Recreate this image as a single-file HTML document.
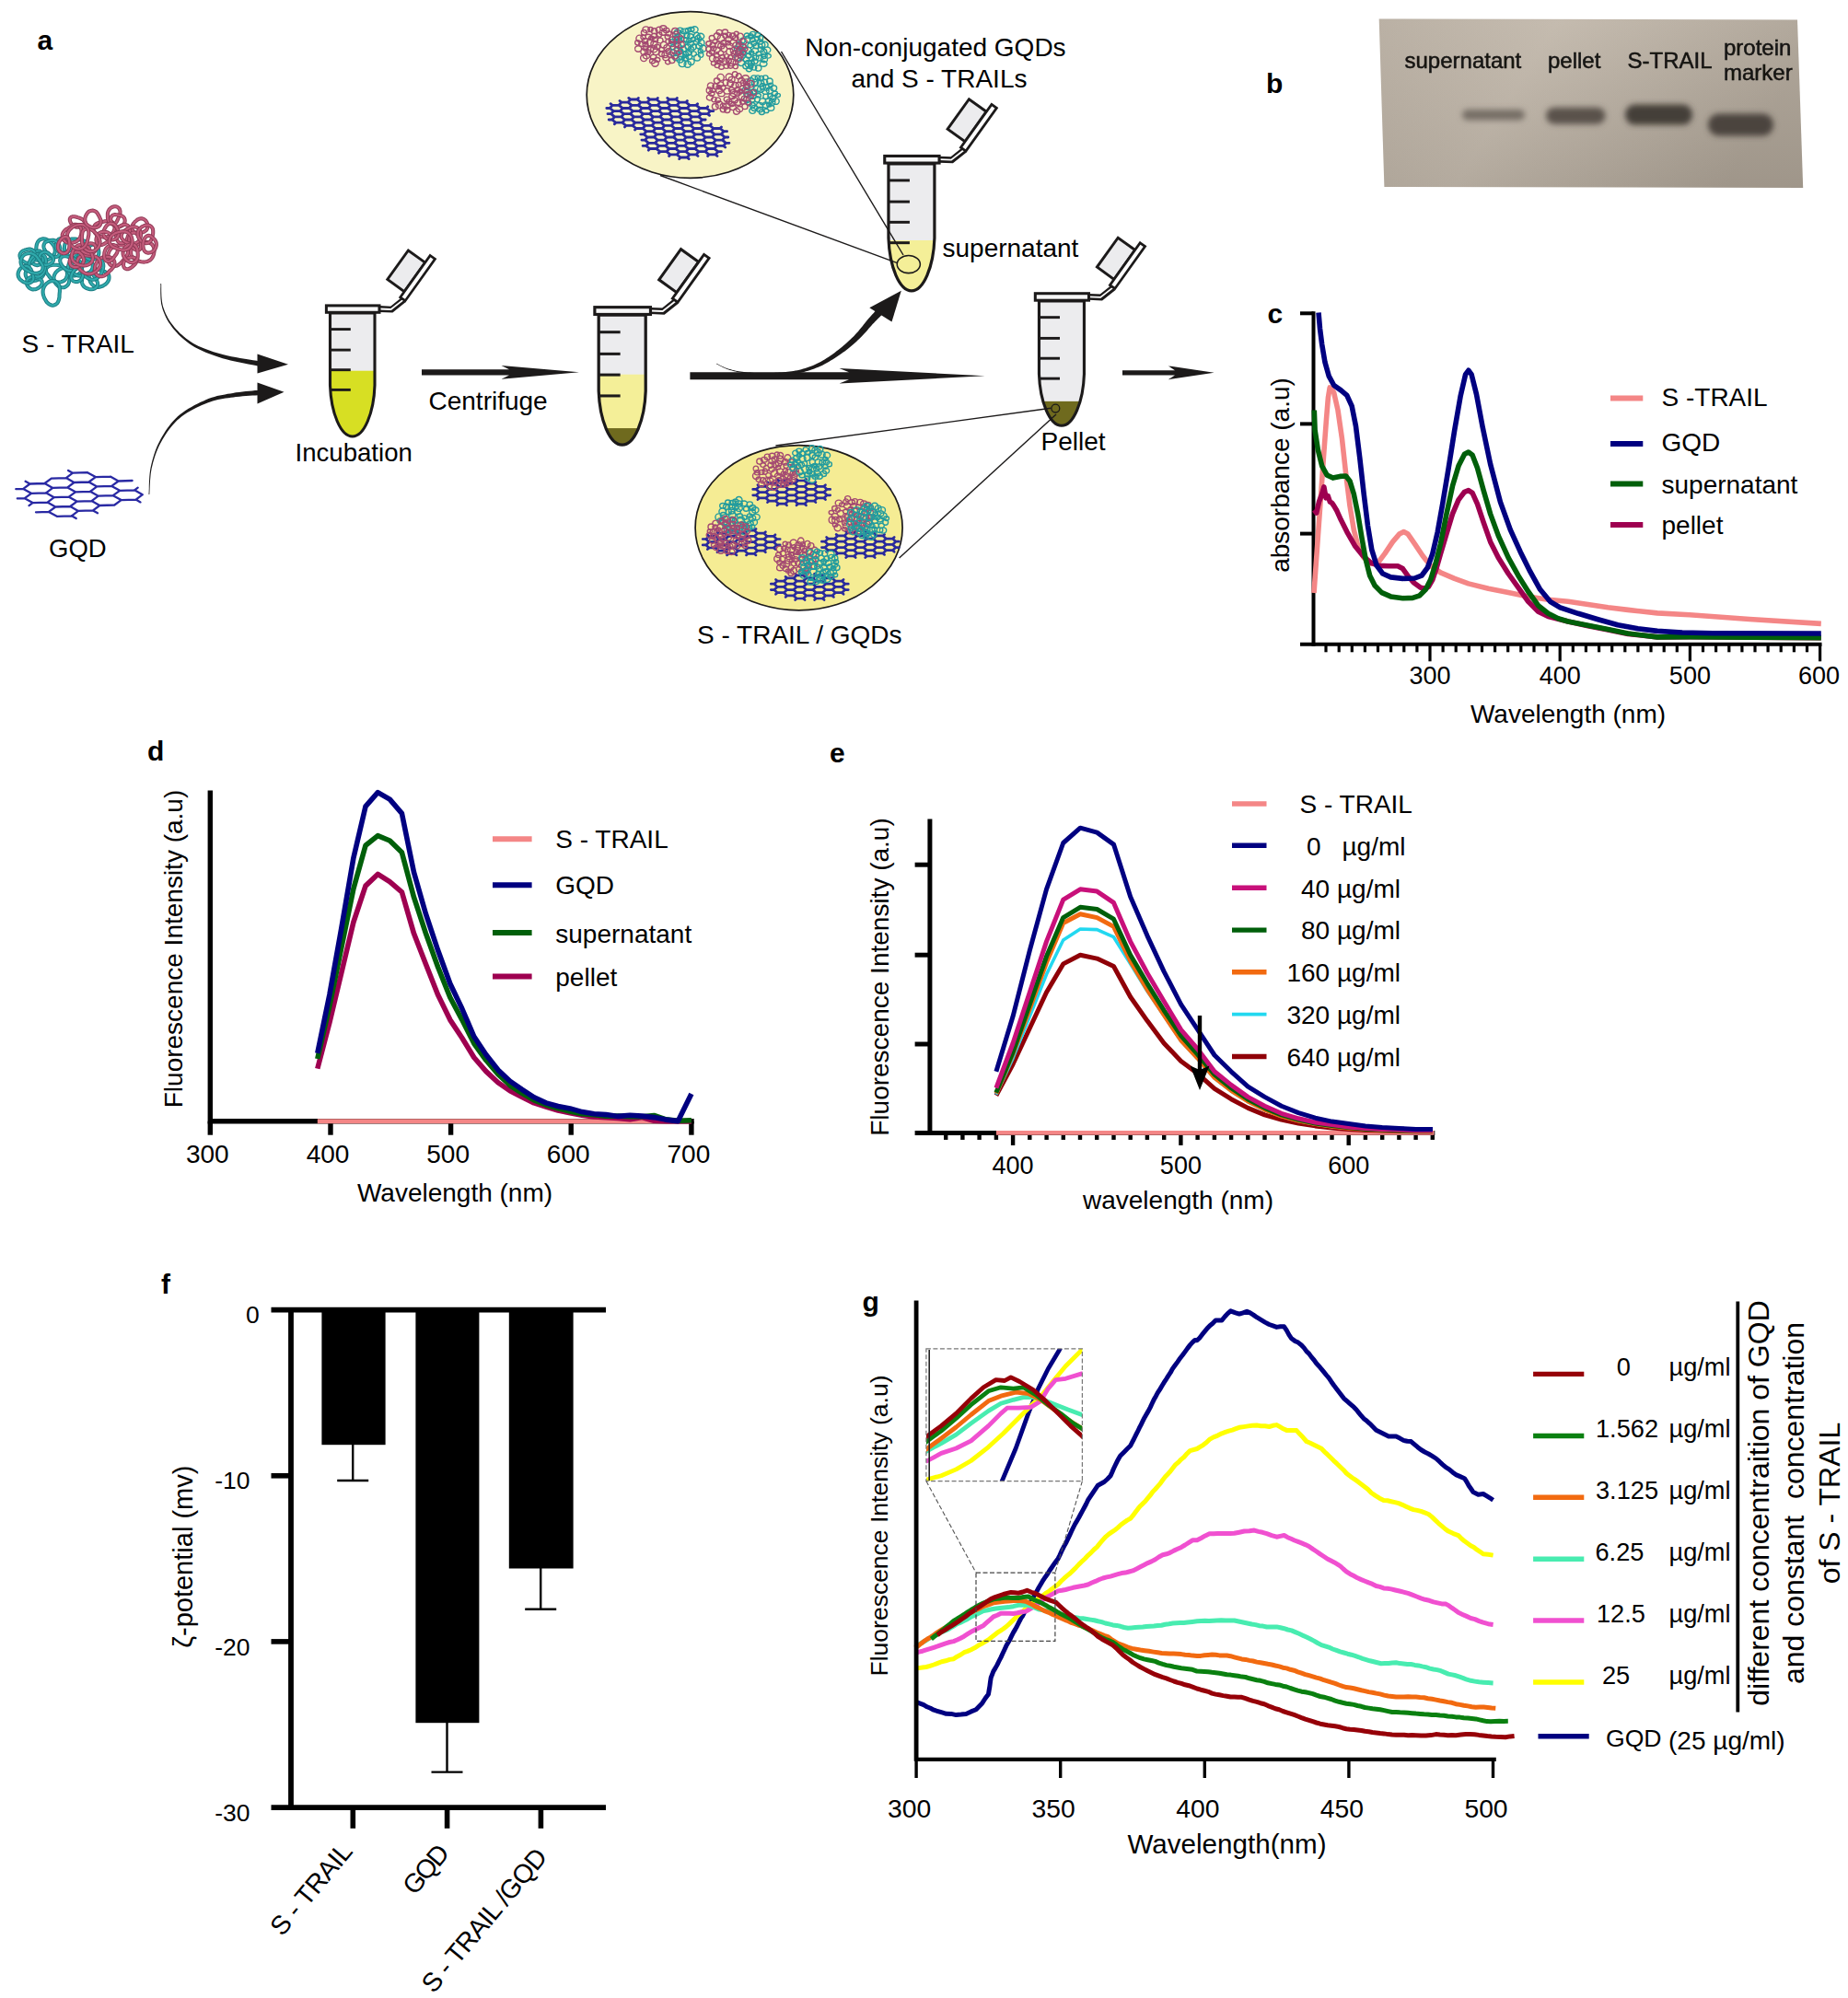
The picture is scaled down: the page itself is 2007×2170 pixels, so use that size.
<!DOCTYPE html>
<html lang="en"><head><meta charset="utf-8"><title>Figure</title>
<style>
html,body{margin:0;padding:0;background:#fff;}
svg{display:block;}
svg text{font-family:'Liberation Sans', Arial, sans-serif;}
</style></head><body>
<svg width="2007" height="2170" viewBox="0 0 2007 2170">
<rect width="2007" height="2170" fill="#fff"/>
<g id='pa'><text x="40.5" y="53.5" font-size="30" text-anchor="start" font-weight="bold" fill="#000" >a</text>
<path d="M72.4 300.9 L71.8 302.2 L71 303.5 L69.9 304.6 L68.3 305.5 L66.4 306.2 L64.5 306.6 L62.5 306.5 L60.4 306 L58.6 305.3 L57.2 304.4 L56 303.2 L55 302.1 L54.2 301.2 L53.5 300.2 L52.8 299.2 L51.9 298.2 L51.1 297.2 L50.4 296 L50 294.7 L49.9 293.2 L50.1 291.9 L51 290.6 L52.3 289.5 L53.8 288.6 L55.6 288 L57.6 287.8 L59.6 287.7 L61.5 287.8 L63.3 288.1 L65 288.6 L66.6 289.1 L68.1 289.8 L69.5 290.7 L70.6 291.6 L71.5 292.7 L72.2 293.8 L72.7 294.9 L72.9 296.1 L73 297.3 L73 298.5 L72.8 299.7 L72.4 300.9Z" fill="none" stroke="#1b7c82" stroke-width="4.1" stroke-linejoin="round"/><path d="M72.4 300.9 L71.8 302.2 L71 303.5 L69.9 304.6 L68.3 305.5 L66.4 306.2 L64.5 306.6 L62.5 306.5 L60.4 306 L58.6 305.3 L57.2 304.4 L56 303.2 L55 302.1 L54.2 301.2 L53.5 300.2 L52.8 299.2 L51.9 298.2 L51.1 297.2 L50.4 296 L50 294.7 L49.9 293.2 L50.1 291.9 L51 290.6 L52.3 289.5 L53.8 288.6 L55.6 288 L57.6 287.8 L59.6 287.7 L61.5 287.8 L63.3 288.1 L65 288.6 L66.6 289.1 L68.1 289.8 L69.5 290.7 L70.6 291.6 L71.5 292.7 L72.2 293.8 L72.7 294.9 L72.9 296.1 L73 297.3 L73 298.5 L72.8 299.7 L72.4 300.9Z" fill="none" stroke="#30aaac" stroke-width="2.2" stroke-linejoin="round"/><path d="M46.9 299.1 L46 300.3 L45 301.4 L43.8 302.4 L42.5 303.2 L41.1 303.8 L39.7 304.4 L38.1 304.8 L36.4 305.1 L34.7 305 L33 304.6 L31.3 303.9 L29.9 303 L28.9 301.6 L28.1 299.9 L27.7 298.3 L27.7 296.7 L28.1 295 L28.5 293.5 L29 292.2 L29.6 291 L30.2 289.8 L30.8 288.5 L31.4 287.1 L32.2 285.9 L33.4 284.7 L34.7 283.5 L36.2 282.7 L37.9 282.4 L39.7 282.4 L41.5 282.8 L42.9 283.7 L44.3 284.8 L45.4 286.1 L46.3 287.5 L47 288.9 L47.5 290.4 L47.9 291.9 L48.1 293.4 L48.1 294.8 L47.9 296.3 L47.5 297.8 L46.9 299.1Z" fill="none" stroke="#1b7c82" stroke-width="4.1" stroke-linejoin="round"/><path d="M46.9 299.1 L46 300.3 L45 301.4 L43.8 302.4 L42.5 303.2 L41.1 303.8 L39.7 304.4 L38.1 304.8 L36.4 305.1 L34.7 305 L33 304.6 L31.3 303.9 L29.9 303 L28.9 301.6 L28.1 299.9 L27.7 298.3 L27.7 296.7 L28.1 295 L28.5 293.5 L29 292.2 L29.6 291 L30.2 289.8 L30.8 288.5 L31.4 287.1 L32.2 285.9 L33.4 284.7 L34.7 283.5 L36.2 282.7 L37.9 282.4 L39.7 282.4 L41.5 282.8 L42.9 283.7 L44.3 284.8 L45.4 286.1 L46.3 287.5 L47 288.9 L47.5 290.4 L47.9 291.9 L48.1 293.4 L48.1 294.8 L47.9 296.3 L47.5 297.8 L46.9 299.1Z" fill="none" stroke="#30aaac" stroke-width="2.2" stroke-linejoin="round"/><path d="M50.7 282.8 L49 283.2 L47.2 283.3 L45.5 283 L43.8 282.3 L42.3 281.1 L41 279.8 L40.2 278.2 L39.6 276.4 L39.3 274.7 L39.1 273.1 L39.2 271.6 L39.3 270 L39.4 268.5 L39.6 267 L39.9 265.5 L40.5 263.9 L41.3 262.4 L42.3 261.2 L43.7 260.2 L45.4 259.6 L47.1 259.3 L48.7 259.5 L50.5 260 L52.1 260.8 L53.5 261.6 L54.9 262.7 L56.1 263.9 L57.2 265.2 L58.2 266.6 L59 268 L59.5 269.7 L59.8 271.4 L59.8 273 L59.5 274.6 L58.8 276.1 L58 277.5 L57.1 278.6 L56 279.7 L54.8 280.6 L53.5 281.5 L52.1 282.3 L50.7 282.8Z" fill="none" stroke="#1b7c82" stroke-width="4.1" stroke-linejoin="round"/><path d="M50.7 282.8 L49 283.2 L47.2 283.3 L45.5 283 L43.8 282.3 L42.3 281.1 L41 279.8 L40.2 278.2 L39.6 276.4 L39.3 274.7 L39.1 273.1 L39.2 271.6 L39.3 270 L39.4 268.5 L39.6 267 L39.9 265.5 L40.5 263.9 L41.3 262.4 L42.3 261.2 L43.7 260.2 L45.4 259.6 L47.1 259.3 L48.7 259.5 L50.5 260 L52.1 260.8 L53.5 261.6 L54.9 262.7 L56.1 263.9 L57.2 265.2 L58.2 266.6 L59 268 L59.5 269.7 L59.8 271.4 L59.8 273 L59.5 274.6 L58.8 276.1 L58 277.5 L57.1 278.6 L56 279.7 L54.8 280.6 L53.5 281.5 L52.1 282.3 L50.7 282.8Z" fill="none" stroke="#30aaac" stroke-width="2.2" stroke-linejoin="round"/><path d="M71.8 274.5 L70.9 273 L70.2 271.4 L69.9 269.6 L70 267.6 L70.4 265.5 L71.3 263.7 L72.7 262.1 L74.5 260.8 L76.3 259.9 L78.1 259.5 L80 259.5 L81.7 259.6 L83.1 259.8 L84.5 260.1 L85.9 260.3 L87.3 260.5 L88.9 260.7 L90.3 261.1 L91.9 261.8 L93.4 262.8 L94.5 264 L95.2 265.7 L95.5 267.7 L95.4 269.6 L94.8 271.5 L93.8 273.3 L92.6 275 L91.3 276.4 L89.8 277.6 L88.2 278.6 L86.6 279.4 L85 280 L83.4 280.4 L81.7 280.5 L80.1 280.4 L78.6 280.1 L77.3 279.6 L76 278.8 L74.8 277.9 L73.7 276.9 L72.7 275.8 L71.8 274.5Z" fill="none" stroke="#1b7c82" stroke-width="4.1" stroke-linejoin="round"/><path d="M71.8 274.5 L70.9 273 L70.2 271.4 L69.9 269.6 L70 267.6 L70.4 265.5 L71.3 263.7 L72.7 262.1 L74.5 260.8 L76.3 259.9 L78.1 259.5 L80 259.5 L81.7 259.6 L83.1 259.8 L84.5 260.1 L85.9 260.3 L87.3 260.5 L88.9 260.7 L90.3 261.1 L91.9 261.8 L93.4 262.8 L94.5 264 L95.2 265.7 L95.5 267.7 L95.4 269.6 L94.8 271.5 L93.8 273.3 L92.6 275 L91.3 276.4 L89.8 277.6 L88.2 278.6 L86.6 279.4 L85 280 L83.4 280.4 L81.7 280.5 L80.1 280.4 L78.6 280.1 L77.3 279.6 L76 278.8 L74.8 277.9 L73.7 276.9 L72.7 275.8 L71.8 274.5Z" fill="none" stroke="#30aaac" stroke-width="2.2" stroke-linejoin="round"/><path d="M97.5 304.5 L97 303 L96.7 301.5 L96.7 299.9 L97.1 298.3 L97.8 296.6 L98.7 295.2 L100.1 294.2 L101.7 293.4 L103.3 292.8 L104.9 292.7 L106.4 292.9 L107.9 293.2 L109.2 293.5 L110.4 293.8 L111.7 294.3 L113 294.7 L114.3 295.2 L115.5 295.9 L116.6 296.9 L117.7 298.1 L118.3 299.4 L118.5 301 L118.4 302.7 L118 304.3 L117.2 305.7 L116.2 307.1 L115 308.3 L113.7 309.3 L112.4 310.1 L111 310.8 L109.6 311.3 L108.1 311.7 L106.6 311.9 L105.2 311.8 L103.7 311.4 L102.4 310.9 L101.3 310.1 L100.3 309.1 L99.4 308.1 L98.6 307 L98 305.8 L97.5 304.5Z" fill="none" stroke="#1b7c82" stroke-width="4.1" stroke-linejoin="round"/><path d="M97.5 304.5 L97 303 L96.7 301.5 L96.7 299.9 L97.1 298.3 L97.8 296.6 L98.7 295.2 L100.1 294.2 L101.7 293.4 L103.3 292.8 L104.9 292.7 L106.4 292.9 L107.9 293.2 L109.2 293.5 L110.4 293.8 L111.7 294.3 L113 294.7 L114.3 295.2 L115.5 295.9 L116.6 296.9 L117.7 298.1 L118.3 299.4 L118.5 301 L118.4 302.7 L118 304.3 L117.2 305.7 L116.2 307.1 L115 308.3 L113.7 309.3 L112.4 310.1 L111 310.8 L109.6 311.3 L108.1 311.7 L106.6 311.9 L105.2 311.8 L103.7 311.4 L102.4 310.9 L101.3 310.1 L100.3 309.1 L99.4 308.1 L98.6 307 L98 305.8 L97.5 304.5Z" fill="none" stroke="#30aaac" stroke-width="2.2" stroke-linejoin="round"/><path d="M60.8 266.2 L60.9 265.1 L61.1 263.9 L61.5 262.8 L62.1 261.6 L63 260.5 L64 259.6 L65.3 259.1 L66.7 258.7 L68.1 258.7 L69.4 259 L70.6 259.6 L71.6 260.2 L72.5 260.9 L73.2 261.6 L73.9 262.4 L74.7 263.1 L75.4 263.8 L76.1 264.6 L76.7 265.6 L77.2 266.8 L77.4 267.9 L77.3 269.2 L76.9 270.4 L76.3 271.6 L75.3 272.5 L74.1 273.3 L72.9 273.9 L71.7 274.3 L70.4 274.5 L69.1 274.6 L67.9 274.6 L66.7 274.4 L65.6 274.1 L64.5 273.7 L63.5 273.1 L62.6 272.3 L62 271.5 L61.5 270.5 L61.1 269.5 L60.9 268.4 L60.8 267.3 L60.8 266.2Z" fill="none" stroke="#1b7c82" stroke-width="4.1" stroke-linejoin="round"/><path d="M60.8 266.2 L60.9 265.1 L61.1 263.9 L61.5 262.8 L62.1 261.6 L63 260.5 L64 259.6 L65.3 259.1 L66.7 258.7 L68.1 258.7 L69.4 259 L70.6 259.6 L71.6 260.2 L72.5 260.9 L73.2 261.6 L73.9 262.4 L74.7 263.1 L75.4 263.8 L76.1 264.6 L76.7 265.6 L77.2 266.8 L77.4 267.9 L77.3 269.2 L76.9 270.4 L76.3 271.6 L75.3 272.5 L74.1 273.3 L72.9 273.9 L71.7 274.3 L70.4 274.5 L69.1 274.6 L67.9 274.6 L66.7 274.4 L65.6 274.1 L64.5 273.7 L63.5 273.1 L62.6 272.3 L62 271.5 L61.5 270.5 L61.1 269.5 L60.9 268.4 L60.8 267.3 L60.8 266.2Z" fill="none" stroke="#30aaac" stroke-width="2.2" stroke-linejoin="round"/><path d="M58.4 301.5 L58.6 300.2 L59 298.9 L59.5 297.7 L60.2 296.5 L61.1 295.4 L62.1 294.4 L63.3 293.4 L64.5 292.6 L65.9 291.9 L67.4 291.4 L69.1 291 L70.7 291 L72.3 291.5 L73.8 292.2 L74.9 293.2 L75.7 294.5 L76.2 296 L76.4 297.5 L76.4 298.9 L76.2 300.2 L75.9 301.5 L75.8 302.7 L75.6 303.8 L75.3 305 L75 306.4 L74.5 307.9 L73.8 309.2 L72.7 310.4 L71.3 311.4 L69.8 312.1 L68.1 312.3 L66.4 312.1 L64.8 311.7 L63.5 310.9 L62.3 309.9 L61.3 308.9 L60.4 307.8 L59.7 306.6 L59.2 305.4 L58.8 304.1 L58.5 302.8 L58.4 301.5Z" fill="none" stroke="#1b7c82" stroke-width="4.1" stroke-linejoin="round"/><path d="M58.4 301.5 L58.6 300.2 L59 298.9 L59.5 297.7 L60.2 296.5 L61.1 295.4 L62.1 294.4 L63.3 293.4 L64.5 292.6 L65.9 291.9 L67.4 291.4 L69.1 291 L70.7 291 L72.3 291.5 L73.8 292.2 L74.9 293.2 L75.7 294.5 L76.2 296 L76.4 297.5 L76.4 298.9 L76.2 300.2 L75.9 301.5 L75.8 302.7 L75.6 303.8 L75.3 305 L75 306.4 L74.5 307.9 L73.8 309.2 L72.7 310.4 L71.3 311.4 L69.8 312.1 L68.1 312.3 L66.4 312.1 L64.8 311.7 L63.5 310.9 L62.3 309.9 L61.3 308.9 L60.4 307.8 L59.7 306.6 L59.2 305.4 L58.8 304.1 L58.5 302.8 L58.4 301.5Z" fill="none" stroke="#30aaac" stroke-width="2.2" stroke-linejoin="round"/><path d="M75.9 297.9 L75.2 297 L74.6 295.9 L74.2 294.8 L74 293.6 L73.9 292.3 L73.9 291.1 L74 289.8 L74.2 288.5 L74.6 287.2 L75.1 285.9 L75.7 284.6 L76.6 283.5 L77.6 282.7 L78.8 282.1 L79.9 281.9 L81.1 281.9 L82.2 282.3 L83.2 282.8 L84 283.4 L84.7 284.1 L85.5 284.9 L86.2 285.6 L86.9 286.4 L87.5 287.3 L88.1 288.4 L88.6 289.6 L88.8 290.9 L88.7 292.3 L88.4 293.7 L87.9 295 L87.1 296.1 L86.1 297.1 L85.1 297.9 L84.1 298.5 L83 298.9 L81.9 299.2 L80.9 299.4 L79.8 299.5 L78.8 299.4 L77.7 299.1 L76.7 298.6 L75.9 297.9Z" fill="none" stroke="#1b7c82" stroke-width="4.1" stroke-linejoin="round"/><path d="M75.9 297.9 L75.2 297 L74.6 295.9 L74.2 294.8 L74 293.6 L73.9 292.3 L73.9 291.1 L74 289.8 L74.2 288.5 L74.6 287.2 L75.1 285.9 L75.7 284.6 L76.6 283.5 L77.6 282.7 L78.8 282.1 L79.9 281.9 L81.1 281.9 L82.2 282.3 L83.2 282.8 L84 283.4 L84.7 284.1 L85.5 284.9 L86.2 285.6 L86.9 286.4 L87.5 287.3 L88.1 288.4 L88.6 289.6 L88.8 290.9 L88.7 292.3 L88.4 293.7 L87.9 295 L87.1 296.1 L86.1 297.1 L85.1 297.9 L84.1 298.5 L83 298.9 L81.9 299.2 L80.9 299.4 L79.8 299.5 L78.8 299.4 L77.7 299.1 L76.7 298.6 L75.9 297.9Z" fill="none" stroke="#30aaac" stroke-width="2.2" stroke-linejoin="round"/><path d="M89.3 302.5 L89.7 301.3 L90.2 300.1 L91 299 L92 298 L93.3 297.1 L94.7 296.6 L96.2 296.4 L97.8 296.6 L99.3 297.1 L100.4 297.9 L101.4 298.9 L102.2 299.9 L102.9 300.8 L103.3 301.8 L103.8 302.7 L104.4 303.6 L105 304.5 L105.5 305.6 L105.9 306.8 L106.2 308.1 L106.1 309.3 L105.7 310.6 L104.9 311.8 L103.8 312.8 L102.6 313.5 L101.1 313.9 L99.6 314.2 L98.2 314.2 L96.7 313.9 L95.4 313.6 L94.2 313.1 L93 312.6 L92 311.9 L91.1 311.1 L90.3 310.1 L89.7 309.2 L89.3 308.1 L89.1 307 L89 305.9 L89 304.8 L89.1 303.7 L89.3 302.5Z" fill="none" stroke="#1b7c82" stroke-width="4.1" stroke-linejoin="round"/><path d="M89.3 302.5 L89.7 301.3 L90.2 300.1 L91 299 L92 298 L93.3 297.1 L94.7 296.6 L96.2 296.4 L97.8 296.6 L99.3 297.1 L100.4 297.9 L101.4 298.9 L102.2 299.9 L102.9 300.8 L103.3 301.8 L103.8 302.7 L104.4 303.6 L105 304.5 L105.5 305.6 L105.9 306.8 L106.2 308.1 L106.1 309.3 L105.7 310.6 L104.9 311.8 L103.8 312.8 L102.6 313.5 L101.1 313.9 L99.6 314.2 L98.2 314.2 L96.7 313.9 L95.4 313.6 L94.2 313.1 L93 312.6 L92 311.9 L91.1 311.1 L90.3 310.1 L89.7 309.2 L89.3 308.1 L89.1 307 L89 305.9 L89 304.8 L89.1 303.7 L89.3 302.5Z" fill="none" stroke="#30aaac" stroke-width="2.2" stroke-linejoin="round"/><path d="M34 283.8 L33.8 282.9 L33.7 281.8 L33.8 280.8 L34.1 279.8 L34.4 278.8 L34.9 277.8 L35.5 276.8 L36.2 275.8 L37 274.9 L37.9 274.1 L39 273.3 L40 272.8 L41.2 272.5 L42.4 272.5 L43.5 272.8 L44.3 273.3 L45 274.1 L45.6 275 L45.9 275.9 L46.1 276.8 L46.3 277.7 L46.5 278.6 L46.7 279.4 L46.8 280.3 L46.8 281.4 L46.8 282.5 L46.6 283.6 L46.1 284.8 L45.3 285.9 L44.4 286.8 L43.3 287.4 L42.1 287.8 L40.9 288.1 L39.9 288.1 L38.8 287.8 L37.9 287.5 L37 287.1 L36.2 286.6 L35.5 286.1 L34.9 285.4 L34.3 284.6 L34 283.8Z" fill="none" stroke="#1b7c82" stroke-width="4.1" stroke-linejoin="round"/><path d="M34 283.8 L33.8 282.9 L33.7 281.8 L33.8 280.8 L34.1 279.8 L34.4 278.8 L34.9 277.8 L35.5 276.8 L36.2 275.8 L37 274.9 L37.9 274.1 L39 273.3 L40 272.8 L41.2 272.5 L42.4 272.5 L43.5 272.8 L44.3 273.3 L45 274.1 L45.6 275 L45.9 275.9 L46.1 276.8 L46.3 277.7 L46.5 278.6 L46.7 279.4 L46.8 280.3 L46.8 281.4 L46.8 282.5 L46.6 283.6 L46.1 284.8 L45.3 285.9 L44.4 286.8 L43.3 287.4 L42.1 287.8 L40.9 288.1 L39.9 288.1 L38.8 287.8 L37.9 287.5 L37 287.1 L36.2 286.6 L35.5 286.1 L34.9 285.4 L34.3 284.6 L34 283.8Z" fill="none" stroke="#30aaac" stroke-width="2.2" stroke-linejoin="round"/><path d="M97.7 295.4 L96.5 296.4 L95.1 297.3 L93.6 298 L92.1 298.7 L90.4 299.3 L88.7 299.6 L86.9 299.6 L85 299.4 L83.2 298.9 L81.6 297.9 L80.2 296.6 L79.1 295.1 L78.5 293.5 L78.3 291.7 L78.2 290 L78.3 288.4 L78.6 286.9 L79 285.5 L79.3 284 L79.8 282.5 L80.4 281 L81.4 279.6 L82.5 278.2 L83.9 277.1 L85.6 276.5 L87.5 276.1 L89.4 276.1 L91.1 276.6 L92.9 277.3 L94.4 278.3 L95.8 279.4 L97 280.6 L98 281.9 L99 283.3 L99.8 284.7 L100.4 286.3 L100.7 287.9 L100.7 289.6 L100.4 291.2 L99.8 292.7 L98.8 294.1 L97.7 295.4Z" fill="none" stroke="#1b7c82" stroke-width="4.1" stroke-linejoin="round"/><path d="M97.7 295.4 L96.5 296.4 L95.1 297.3 L93.6 298 L92.1 298.7 L90.4 299.3 L88.7 299.6 L86.9 299.6 L85 299.4 L83.2 298.9 L81.6 297.9 L80.2 296.6 L79.1 295.1 L78.5 293.5 L78.3 291.7 L78.2 290 L78.3 288.4 L78.6 286.9 L79 285.5 L79.3 284 L79.8 282.5 L80.4 281 L81.4 279.6 L82.5 278.2 L83.9 277.1 L85.6 276.5 L87.5 276.1 L89.4 276.1 L91.1 276.6 L92.9 277.3 L94.4 278.3 L95.8 279.4 L97 280.6 L98 281.9 L99 283.3 L99.8 284.7 L100.4 286.3 L100.7 287.9 L100.7 289.6 L100.4 291.2 L99.8 292.7 L98.8 294.1 L97.7 295.4Z" fill="none" stroke="#30aaac" stroke-width="2.2" stroke-linejoin="round"/><path d="M52.1 329.4 L50.9 328.2 L49.9 326.8 L49.1 325.3 L48.3 323.9 L47.7 322.4 L47.2 320.9 L46.8 319.4 L46.6 317.7 L46.6 316.1 L46.8 314.5 L47.3 312.9 L47.9 311.4 L48.8 310 L49.8 308.7 L51 307.6 L52.4 306.6 L53.8 305.8 L55.4 305.3 L57.1 305.1 L58.9 305.3 L60.5 305.8 L61.9 306.9 L63.2 308.3 L64.1 309.9 L64.6 311.6 L64.8 313.4 L64.9 315.2 L64.9 316.7 L64.7 318.2 L64.6 319.7 L64.5 321.2 L64.5 322.8 L64.2 324.4 L63.7 326.2 L62.9 328.1 L61.9 329.5 L60.5 330.6 L58.7 331.4 L57 331.7 L55.3 331.3 L53.6 330.5 L52.1 329.4Z" fill="none" stroke="#1b7c82" stroke-width="4.1" stroke-linejoin="round"/><path d="M52.1 329.4 L50.9 328.2 L49.9 326.8 L49.1 325.3 L48.3 323.9 L47.7 322.4 L47.2 320.9 L46.8 319.4 L46.6 317.7 L46.6 316.1 L46.8 314.5 L47.3 312.9 L47.9 311.4 L48.8 310 L49.8 308.7 L51 307.6 L52.4 306.6 L53.8 305.8 L55.4 305.3 L57.1 305.1 L58.9 305.3 L60.5 305.8 L61.9 306.9 L63.2 308.3 L64.1 309.9 L64.6 311.6 L64.8 313.4 L64.9 315.2 L64.9 316.7 L64.7 318.2 L64.6 319.7 L64.5 321.2 L64.5 322.8 L64.2 324.4 L63.7 326.2 L62.9 328.1 L61.9 329.5 L60.5 330.6 L58.7 331.4 L57 331.7 L55.3 331.3 L53.6 330.5 L52.1 329.4Z" fill="none" stroke="#30aaac" stroke-width="2.2" stroke-linejoin="round"/><path d="M93 300.5 L91.8 299.4 L90.6 298.1 L89.8 296.6 L89.2 294.8 L89 292.7 L89.1 290.8 L89.7 288.9 L90.8 287.1 L92 285.5 L93.4 284.4 L95 283.6 L96.5 282.8 L97.9 282.2 L99.2 281.8 L100.7 281.4 L102.2 280.9 L103.7 280.6 L105.3 280.5 L106.9 280.8 L108.5 281.4 L109.9 282.3 L110.9 283.7 L111.7 285.4 L112.2 287.3 L112.3 289.1 L112 291.1 L111.6 293 L111 294.7 L110.3 296.4 L109.4 298 L108.3 299.5 L107.2 300.8 L105.9 301.9 L104.4 302.8 L102.8 303.4 L101.3 303.7 L99.8 303.6 L98.3 303.3 L96.9 302.8 L95.5 302.2 L94.2 301.5 L93 300.5Z" fill="none" stroke="#1b7c82" stroke-width="4.1" stroke-linejoin="round"/><path d="M93 300.5 L91.8 299.4 L90.6 298.1 L89.8 296.6 L89.2 294.8 L89 292.7 L89.1 290.8 L89.7 288.9 L90.8 287.1 L92 285.5 L93.4 284.4 L95 283.6 L96.5 282.8 L97.9 282.2 L99.2 281.8 L100.7 281.4 L102.2 280.9 L103.7 280.6 L105.3 280.5 L106.9 280.8 L108.5 281.4 L109.9 282.3 L110.9 283.7 L111.7 285.4 L112.2 287.3 L112.3 289.1 L112 291.1 L111.6 293 L111 294.7 L110.3 296.4 L109.4 298 L108.3 299.5 L107.2 300.8 L105.9 301.9 L104.4 302.8 L102.8 303.4 L101.3 303.7 L99.8 303.6 L98.3 303.3 L96.9 302.8 L95.5 302.2 L94.2 301.5 L93 300.5Z" fill="none" stroke="#30aaac" stroke-width="2.2" stroke-linejoin="round"/><path d="M59.8 279.2 L58.6 279 L57.3 278.6 L56.1 278.1 L54.8 277.5 L53.6 276.7 L52.4 275.8 L51.2 274.8 L50 273.6 L49 272.2 L48.2 270.7 L47.6 269.1 L47.4 267.6 L47.5 266.2 L48 264.9 L48.6 263.8 L49.4 263 L50.4 262.5 L51.4 262.1 L52.3 261.7 L53.2 261.3 L54.3 261.1 L55.4 260.9 L56.5 260.7 L57.8 260.8 L59.2 261.2 L60.6 261.9 L61.9 262.9 L63 264.2 L64 265.7 L64.7 267.2 L65.1 268.7 L65.4 270.2 L65.4 271.6 L65.4 273 L65.2 274.2 L64.8 275.4 L64.4 276.4 L63.8 277.4 L63 278.2 L62.1 278.8 L61 279.1 L59.8 279.2Z" fill="none" stroke="#1b7c82" stroke-width="4.1" stroke-linejoin="round"/><path d="M59.8 279.2 L58.6 279 L57.3 278.6 L56.1 278.1 L54.8 277.5 L53.6 276.7 L52.4 275.8 L51.2 274.8 L50 273.6 L49 272.2 L48.2 270.7 L47.6 269.1 L47.4 267.6 L47.5 266.2 L48 264.9 L48.6 263.8 L49.4 263 L50.4 262.5 L51.4 262.1 L52.3 261.7 L53.2 261.3 L54.3 261.1 L55.4 260.9 L56.5 260.7 L57.8 260.8 L59.2 261.2 L60.6 261.9 L61.9 262.9 L63 264.2 L64 265.7 L64.7 267.2 L65.1 268.7 L65.4 270.2 L65.4 271.6 L65.4 273 L65.2 274.2 L64.8 275.4 L64.4 276.4 L63.8 277.4 L63 278.2 L62.1 278.8 L61 279.1 L59.8 279.2Z" fill="none" stroke="#30aaac" stroke-width="2.2" stroke-linejoin="round"/><path d="M84.9 279.1 L85.3 278.2 L85.8 277.4 L86.4 276.6 L87.1 275.8 L87.9 275.1 L88.9 274.4 L89.9 273.8 L91 273.2 L92.2 272.8 L93.5 272.6 L94.8 272.6 L96 272.8 L97 273.3 L97.8 274 L98.4 274.8 L98.7 275.6 L98.8 276.5 L98.9 277.4 L98.9 278.2 L98.8 279 L98.7 279.8 L98.6 280.6 L98.5 281.5 L98.2 282.4 L97.7 283.3 L96.9 284.3 L96 285 L94.8 285.6 L93.5 286 L92.2 286.1 L91 286.1 L89.9 285.8 L88.8 285.4 L87.9 285 L87.1 284.4 L86.4 283.8 L85.8 283.1 L85.3 282.4 L84.9 281.6 L84.8 280.8 L84.8 279.9 L84.9 279.1Z" fill="none" stroke="#1b7c82" stroke-width="4.1" stroke-linejoin="round"/><path d="M84.9 279.1 L85.3 278.2 L85.8 277.4 L86.4 276.6 L87.1 275.8 L87.9 275.1 L88.9 274.4 L89.9 273.8 L91 273.2 L92.2 272.8 L93.5 272.6 L94.8 272.6 L96 272.8 L97 273.3 L97.8 274 L98.4 274.8 L98.7 275.6 L98.8 276.5 L98.9 277.4 L98.9 278.2 L98.8 279 L98.7 279.8 L98.6 280.6 L98.5 281.5 L98.2 282.4 L97.7 283.3 L96.9 284.3 L96 285 L94.8 285.6 L93.5 286 L92.2 286.1 L91 286.1 L89.9 285.8 L88.8 285.4 L87.9 285 L87.1 284.4 L86.4 283.8 L85.8 283.1 L85.3 282.4 L84.9 281.6 L84.8 280.8 L84.8 279.9 L84.9 279.1Z" fill="none" stroke="#30aaac" stroke-width="2.2" stroke-linejoin="round"/><path d="M30.9 285.8 L29.8 285.7 L28.7 285.5 L27.6 285.1 L26.6 284.6 L25.6 284.1 L24.7 283.4 L23.7 282.5 L22.9 281.6 L22.2 280.6 L21.8 279.4 L21.5 278 L21.5 276.8 L21.9 275.6 L22.6 274.5 L23.4 273.5 L24.3 272.8 L25.3 272.3 L26.4 271.9 L27.4 271.5 L28.3 271.3 L29.3 271 L30.4 270.8 L31.6 270.6 L32.7 270.6 L33.9 270.9 L35.1 271.4 L36.2 272.1 L37 273 L37.6 274.2 L38 275.5 L38.2 276.7 L38 278 L37.8 279.2 L37.5 280.3 L37 281.3 L36.4 282.3 L35.8 283.2 L35 284.1 L34.2 284.8 L33.2 285.3 L32.1 285.6 L30.9 285.8Z" fill="none" stroke="#1b7c82" stroke-width="4.1" stroke-linejoin="round"/><path d="M30.9 285.8 L29.8 285.7 L28.7 285.5 L27.6 285.1 L26.6 284.6 L25.6 284.1 L24.7 283.4 L23.7 282.5 L22.9 281.6 L22.2 280.6 L21.8 279.4 L21.5 278 L21.5 276.8 L21.9 275.6 L22.6 274.5 L23.4 273.5 L24.3 272.8 L25.3 272.3 L26.4 271.9 L27.4 271.5 L28.3 271.3 L29.3 271 L30.4 270.8 L31.6 270.6 L32.7 270.6 L33.9 270.9 L35.1 271.4 L36.2 272.1 L37 273 L37.6 274.2 L38 275.5 L38.2 276.7 L38 278 L37.8 279.2 L37.5 280.3 L37 281.3 L36.4 282.3 L35.8 283.2 L35 284.1 L34.2 284.8 L33.2 285.3 L32.1 285.6 L30.9 285.8Z" fill="none" stroke="#30aaac" stroke-width="2.2" stroke-linejoin="round"/><path d="M29.4 309.4 L29 308.3 L28.8 307.1 L28.9 306 L29.3 304.7 L29.9 303.5 L30.8 302.4 L32 301.7 L33.3 301.1 L34.6 300.8 L35.8 300.9 L37 301.1 L38 301.4 L38.9 301.7 L39.7 302 L40.5 302.3 L41.5 302.5 L42.4 302.8 L43.3 303.2 L44.2 303.8 L45 304.6 L45.6 305.6 L45.7 306.7 L45.6 308 L45.3 309.2 L44.6 310.3 L43.6 311.3 L42.6 312.2 L41.6 312.9 L40.4 313.5 L39.3 313.9 L38.1 314.2 L37 314.3 L36 314.4 L34.9 314.2 L34 313.9 L33.1 313.6 L32.3 313.1 L31.6 312.5 L31 311.8 L30.4 311.1 L29.8 310.3 L29.4 309.4Z" fill="none" stroke="#1b7c82" stroke-width="4.1" stroke-linejoin="round"/><path d="M29.4 309.4 L29 308.3 L28.8 307.1 L28.9 306 L29.3 304.7 L29.9 303.5 L30.8 302.4 L32 301.7 L33.3 301.1 L34.6 300.8 L35.8 300.9 L37 301.1 L38 301.4 L38.9 301.7 L39.7 302 L40.5 302.3 L41.5 302.5 L42.4 302.8 L43.3 303.2 L44.2 303.8 L45 304.6 L45.6 305.6 L45.7 306.7 L45.6 308 L45.3 309.2 L44.6 310.3 L43.6 311.3 L42.6 312.2 L41.6 312.9 L40.4 313.5 L39.3 313.9 L38.1 314.2 L37 314.3 L36 314.4 L34.9 314.2 L34 313.9 L33.1 313.6 L32.3 313.1 L31.6 312.5 L31 311.8 L30.4 311.1 L29.8 310.3 L29.4 309.4Z" fill="none" stroke="#30aaac" stroke-width="2.2" stroke-linejoin="round"/><path d="M34.5 296.6 L33.7 295.4 L32.9 294.1 L32.3 292.7 L31.8 291.2 L31.5 289.6 L31.4 288 L31.6 286.3 L32 284.5 L32.7 282.9 L33.5 281.5 L34.6 280.2 L35.8 279.1 L37 278 L38.3 277.2 L39.7 276.5 L41.2 276 L42.8 275.6 L44.3 275.6 L45.7 276.1 L47.1 276.9 L48.3 278 L49.1 279.4 L49.6 281.1 L49.9 282.8 L49.9 284.5 L49.8 286.1 L49.5 287.7 L49.3 289.3 L49.1 290.8 L48.7 292.4 L48.2 294.1 L47.5 295.8 L46.6 297.3 L45.4 298.6 L43.9 299.7 L42.4 300.4 L40.9 300.6 L39.3 300.3 L37.8 299.7 L36.6 298.9 L35.5 297.8 L34.5 296.6Z" fill="none" stroke="#1b7c82" stroke-width="4.1" stroke-linejoin="round"/><path d="M34.5 296.6 L33.7 295.4 L32.9 294.1 L32.3 292.7 L31.8 291.2 L31.5 289.6 L31.4 288 L31.6 286.3 L32 284.5 L32.7 282.9 L33.5 281.5 L34.6 280.2 L35.8 279.1 L37 278 L38.3 277.2 L39.7 276.5 L41.2 276 L42.8 275.6 L44.3 275.6 L45.7 276.1 L47.1 276.9 L48.3 278 L49.1 279.4 L49.6 281.1 L49.9 282.8 L49.9 284.5 L49.8 286.1 L49.5 287.7 L49.3 289.3 L49.1 290.8 L48.7 292.4 L48.2 294.1 L47.5 295.8 L46.6 297.3 L45.4 298.6 L43.9 299.7 L42.4 300.4 L40.9 300.6 L39.3 300.3 L37.8 299.7 L36.6 298.9 L35.5 297.8 L34.5 296.6Z" fill="none" stroke="#30aaac" stroke-width="2.2" stroke-linejoin="round"/><path d="M42.7 281.9 L42.6 280.9 L42.5 279.8 L42.7 278.8 L43.1 277.6 L43.6 276.4 L44.4 275.4 L45.5 274.7 L46.8 274 L48 273.7 L49.2 273.7 L50.4 274 L51.5 274.4 L52.4 274.9 L53.1 275.5 L53.8 276.1 L54.5 276.6 L55.2 277.1 L55.9 277.7 L56.6 278.3 L57.3 279.1 L57.8 280 L58 281.1 L58 282.3 L57.7 283.5 L57 284.5 L56.1 285.5 L55 286.3 L53.9 286.9 L52.7 287.3 L51.5 287.6 L50.4 287.7 L49.3 287.8 L48.2 287.7 L47.2 287.4 L46.3 287.1 L45.4 286.6 L44.7 286 L44.1 285.3 L43.6 284.6 L43.2 283.7 L42.9 282.9 L42.7 281.9Z" fill="none" stroke="#1b7c82" stroke-width="4.1" stroke-linejoin="round"/><path d="M42.7 281.9 L42.6 280.9 L42.5 279.8 L42.7 278.8 L43.1 277.6 L43.6 276.4 L44.4 275.4 L45.5 274.7 L46.8 274 L48 273.7 L49.2 273.7 L50.4 274 L51.5 274.4 L52.4 274.9 L53.1 275.5 L53.8 276.1 L54.5 276.6 L55.2 277.1 L55.9 277.7 L56.6 278.3 L57.3 279.1 L57.8 280 L58 281.1 L58 282.3 L57.7 283.5 L57 284.5 L56.1 285.5 L55 286.3 L53.9 286.9 L52.7 287.3 L51.5 287.6 L50.4 287.7 L49.3 287.8 L48.2 287.7 L47.2 287.4 L46.3 287.1 L45.4 286.6 L44.7 286 L44.1 285.3 L43.6 284.6 L43.2 283.7 L42.9 282.9 L42.7 281.9Z" fill="none" stroke="#30aaac" stroke-width="2.2" stroke-linejoin="round"/><path d="M30.5 307.6 L29.1 307.5 L27.8 307.1 L26.5 306.6 L25.4 306.1 L24.3 305.5 L23.3 304.7 L22.4 304 L21.5 303.1 L20.8 302.1 L20.2 301 L19.8 299.8 L19.6 298.6 L19.6 297.4 L19.8 296.1 L20.2 294.9 L20.8 293.7 L21.4 292.6 L22.3 291.6 L23.3 290.6 L24.4 289.8 L25.6 289.2 L27 289 L28.5 288.9 L29.8 289.2 L31 289.8 L32.1 290.8 L33 291.8 L33.7 292.8 L34.2 294 L34.6 295.1 L35 296.1 L35.4 297.2 L35.7 298.3 L36 299.5 L36.3 300.9 L36.3 302.2 L36 303.6 L35.4 304.9 L34.5 306.1 L33.3 306.8 L31.9 307.4 L30.5 307.6Z" fill="none" stroke="#1b7c82" stroke-width="4.1" stroke-linejoin="round"/><path d="M30.5 307.6 L29.1 307.5 L27.8 307.1 L26.5 306.6 L25.4 306.1 L24.3 305.5 L23.3 304.7 L22.4 304 L21.5 303.1 L20.8 302.1 L20.2 301 L19.8 299.8 L19.6 298.6 L19.6 297.4 L19.8 296.1 L20.2 294.9 L20.8 293.7 L21.4 292.6 L22.3 291.6 L23.3 290.6 L24.4 289.8 L25.6 289.2 L27 289 L28.5 288.9 L29.8 289.2 L31 289.8 L32.1 290.8 L33 291.8 L33.7 292.8 L34.2 294 L34.6 295.1 L35 296.1 L35.4 297.2 L35.7 298.3 L36 299.5 L36.3 300.9 L36.3 302.2 L36 303.6 L35.4 304.9 L34.5 306.1 L33.3 306.8 L31.9 307.4 L30.5 307.6Z" fill="none" stroke="#30aaac" stroke-width="2.2" stroke-linejoin="round"/><path d="M79.6 293.6 L78.5 293.9 L77.3 294 L76.1 294 L74.9 293.8 L73.6 293.5 L72.4 292.9 L71.2 292.3 L70.1 291.4 L69 290.5 L68.1 289.4 L67.2 288.3 L66.5 287 L65.8 285.7 L65.4 284.3 L65.2 282.9 L65.4 281.6 L65.9 280.3 L66.6 279.3 L67.7 278.7 L69 278.3 L70.4 278.1 L71.7 278.3 L73 278.6 L74.3 279 L75.4 279.3 L76.5 279.6 L77.7 280 L79 280.4 L80.3 280.9 L81.6 281.6 L82.8 282.6 L84 283.8 L84.9 285.1 L85.3 286.5 L85.4 288 L85.2 289.4 L84.6 290.5 L83.8 291.4 L82.8 292.2 L81.8 292.8 L80.8 293.3 L79.6 293.6Z" fill="none" stroke="#1b7c82" stroke-width="4.1" stroke-linejoin="round"/><path d="M79.6 293.6 L78.5 293.9 L77.3 294 L76.1 294 L74.9 293.8 L73.6 293.5 L72.4 292.9 L71.2 292.3 L70.1 291.4 L69 290.5 L68.1 289.4 L67.2 288.3 L66.5 287 L65.8 285.7 L65.4 284.3 L65.2 282.9 L65.4 281.6 L65.9 280.3 L66.6 279.3 L67.7 278.7 L69 278.3 L70.4 278.1 L71.7 278.3 L73 278.6 L74.3 279 L75.4 279.3 L76.5 279.6 L77.7 280 L79 280.4 L80.3 280.9 L81.6 281.6 L82.8 282.6 L84 283.8 L84.9 285.1 L85.3 286.5 L85.4 288 L85.2 289.4 L84.6 290.5 L83.8 291.4 L82.8 292.2 L81.8 292.8 L80.8 293.3 L79.6 293.6Z" fill="none" stroke="#30aaac" stroke-width="2.2" stroke-linejoin="round"/><path d="M101.7 281.7 L100.7 282 L99.5 282.2 L98.4 282.1 L97.1 281.8 L95.8 281.3 L94.7 280.6 L93.8 279.5 L93 278.2 L92.6 276.8 L92.5 275.5 L92.8 274.2 L93.2 273.1 L93.7 272.2 L94.4 271.4 L95 270.7 L95.5 270 L95.9 269.3 L96.5 268.5 L97.1 267.7 L97.8 266.8 L98.7 266.2 L99.8 265.8 L101.1 265.7 L102.3 265.8 L103.5 266.4 L104.6 267.3 L105.6 268.3 L106.3 269.5 L106.8 270.8 L107.2 272.1 L107.3 273.3 L107.4 274.4 L107.3 275.6 L107.1 276.6 L106.7 277.6 L106.3 278.5 L105.7 279.2 L105 279.9 L104.3 280.5 L103.5 281 L102.6 281.4 L101.7 281.7Z" fill="none" stroke="#1b7c82" stroke-width="4.1" stroke-linejoin="round"/><path d="M101.7 281.7 L100.7 282 L99.5 282.2 L98.4 282.1 L97.1 281.8 L95.8 281.3 L94.7 280.6 L93.8 279.5 L93 278.2 L92.6 276.8 L92.5 275.5 L92.8 274.2 L93.2 273.1 L93.7 272.2 L94.4 271.4 L95 270.7 L95.5 270 L95.9 269.3 L96.5 268.5 L97.1 267.7 L97.8 266.8 L98.7 266.2 L99.8 265.8 L101.1 265.7 L102.3 265.8 L103.5 266.4 L104.6 267.3 L105.6 268.3 L106.3 269.5 L106.8 270.8 L107.2 272.1 L107.3 273.3 L107.4 274.4 L107.3 275.6 L107.1 276.6 L106.7 277.6 L106.3 278.5 L105.7 279.2 L105 279.9 L104.3 280.5 L103.5 281 L102.6 281.4 L101.7 281.7Z" fill="none" stroke="#30aaac" stroke-width="2.2" stroke-linejoin="round"/><path d="M45.5 294.2 L44.2 295.4 L42.4 296.3 L40.5 296.8 L38.5 296.9 L36.5 296.5 L34.6 296.1 L32.9 295.5 L31.4 294.8 L30 294 L28.6 293.2 L27.3 292.4 L26.2 291.4 L25.1 290.3 L24.1 289.1 L23.3 287.8 L22.8 286.4 L22.5 284.9 L22.6 283.4 L22.8 281.9 L23.4 280.4 L24.1 279 L25.2 277.7 L26.6 276.5 L28.2 275.7 L30 275.2 L32 275 L33.9 275.2 L35.7 275.8 L37.4 276.7 L38.9 277.8 L40 279 L40.8 280.2 L41.6 281.4 L42.5 282.5 L43.3 283.5 L44.1 284.7 L45 286.1 L45.9 287.5 L46.5 289.1 L46.6 290.8 L46.3 292.6 L45.5 294.2Z" fill="none" stroke="#1b7c82" stroke-width="4.1" stroke-linejoin="round"/><path d="M45.5 294.2 L44.2 295.4 L42.4 296.3 L40.5 296.8 L38.5 296.9 L36.5 296.5 L34.6 296.1 L32.9 295.5 L31.4 294.8 L30 294 L28.6 293.2 L27.3 292.4 L26.2 291.4 L25.1 290.3 L24.1 289.1 L23.3 287.8 L22.8 286.4 L22.5 284.9 L22.6 283.4 L22.8 281.9 L23.4 280.4 L24.1 279 L25.2 277.7 L26.6 276.5 L28.2 275.7 L30 275.2 L32 275 L33.9 275.2 L35.7 275.8 L37.4 276.7 L38.9 277.8 L40 279 L40.8 280.2 L41.6 281.4 L42.5 282.5 L43.3 283.5 L44.1 284.7 L45 286.1 L45.9 287.5 L46.5 289.1 L46.6 290.8 L46.3 292.6 L45.5 294.2Z" fill="none" stroke="#30aaac" stroke-width="2.2" stroke-linejoin="round"/><path d="M77.6 302.8 L77.3 301.9 L77.3 300.9 L77.4 299.8 L77.6 298.8 L78 297.7 L78.5 296.7 L79 295.6 L79.7 294.6 L80.5 293.6 L81.3 292.7 L82.3 291.8 L83.3 291.1 L84.5 290.7 L85.6 290.5 L86.6 290.5 L87.5 290.9 L88.2 291.5 L88.8 292.3 L89.1 293.1 L89.3 294 L89.5 294.9 L89.7 295.7 L89.9 296.6 L89.9 297.5 L90 298.5 L90 299.6 L89.7 300.7 L89.2 301.9 L88.5 303.1 L87.7 304.1 L86.7 304.9 L85.5 305.5 L84.4 305.9 L83.4 306.1 L82.4 306 L81.5 305.9 L80.6 305.6 L79.8 305.3 L79.1 304.8 L78.5 304.3 L78 303.6 L77.6 302.8Z" fill="none" stroke="#1b7c82" stroke-width="4.1" stroke-linejoin="round"/><path d="M77.6 302.8 L77.3 301.9 L77.3 300.9 L77.4 299.8 L77.6 298.8 L78 297.7 L78.5 296.7 L79 295.6 L79.7 294.6 L80.5 293.6 L81.3 292.7 L82.3 291.8 L83.3 291.1 L84.5 290.7 L85.6 290.5 L86.6 290.5 L87.5 290.9 L88.2 291.5 L88.8 292.3 L89.1 293.1 L89.3 294 L89.5 294.9 L89.7 295.7 L89.9 296.6 L89.9 297.5 L90 298.5 L90 299.6 L89.7 300.7 L89.2 301.9 L88.5 303.1 L87.7 304.1 L86.7 304.9 L85.5 305.5 L84.4 305.9 L83.4 306.1 L82.4 306 L81.5 305.9 L80.6 305.6 L79.8 305.3 L79.1 304.8 L78.5 304.3 L78 303.6 L77.6 302.8Z" fill="none" stroke="#30aaac" stroke-width="2.2" stroke-linejoin="round"/>
<path d="M117 279.5 L117.1 278 L117.4 276.5 L117.8 275 L118.3 273.6 L119 272.2 L119.9 270.9 L121 269.8 L122.3 268.7 L123.7 267.9 L125.2 267.2 L126.8 266.7 L128.4 266.4 L130.1 266.3 L131.9 266.3 L133.5 266.6 L135.1 267.2 L136.7 268.2 L137.9 269.3 L138.6 270.8 L139 272.6 L139.1 274.3 L138.6 276 L137.8 277.6 L136.9 279 L136 280.3 L135 281.3 L134 282.4 L133.1 283.6 L132.1 284.8 L131 285.9 L129.6 287 L128 288.1 L126.3 288.8 L124.5 289 L122.5 288.9 L120.8 288.3 L119.5 287.3 L118.4 285.8 L117.6 284.3 L117.1 282.8 L117 281.1 L117 279.5Z" fill="none" stroke="#8f3a56" stroke-width="4.1" stroke-linejoin="round"/><path d="M117 279.5 L117.1 278 L117.4 276.5 L117.8 275 L118.3 273.6 L119 272.2 L119.9 270.9 L121 269.8 L122.3 268.7 L123.7 267.9 L125.2 267.2 L126.8 266.7 L128.4 266.4 L130.1 266.3 L131.9 266.3 L133.5 266.6 L135.1 267.2 L136.7 268.2 L137.9 269.3 L138.6 270.8 L139 272.6 L139.1 274.3 L138.6 276 L137.8 277.6 L136.9 279 L136 280.3 L135 281.3 L134 282.4 L133.1 283.6 L132.1 284.8 L131 285.9 L129.6 287 L128 288.1 L126.3 288.8 L124.5 289 L122.5 288.9 L120.8 288.3 L119.5 287.3 L118.4 285.8 L117.6 284.3 L117.1 282.8 L117 281.1 L117 279.5Z" fill="none" stroke="#c45c7c" stroke-width="2.2" stroke-linejoin="round"/><path d="M103.1 290.2 L103.4 288.8 L103.8 287.4 L104.4 286.1 L105 284.8 L105.8 283.6 L106.7 282.5 L107.8 281.5 L109 280.7 L110.4 280 L111.8 279.4 L113.3 279.1 L114.9 278.9 L116.6 278.9 L118.3 279 L119.8 279.5 L121.3 280.3 L122.7 281.4 L123.7 282.7 L124.3 284.2 L124.5 286 L124.3 287.6 L123.7 289.1 L122.7 290.6 L121.7 291.8 L120.8 292.9 L119.8 293.7 L118.7 294.6 L117.8 295.7 L116.9 296.7 L115.8 297.7 L114.4 298.7 L112.8 299.6 L111.2 300.2 L109.4 300.2 L107.5 299.9 L106 299.2 L104.7 298.1 L103.8 296.5 L103.2 295 L102.9 293.4 L103 291.8 L103.1 290.2Z" fill="none" stroke="#8f3a56" stroke-width="4.1" stroke-linejoin="round"/><path d="M103.1 290.2 L103.4 288.8 L103.8 287.4 L104.4 286.1 L105 284.8 L105.8 283.6 L106.7 282.5 L107.8 281.5 L109 280.7 L110.4 280 L111.8 279.4 L113.3 279.1 L114.9 278.9 L116.6 278.9 L118.3 279 L119.8 279.5 L121.3 280.3 L122.7 281.4 L123.7 282.7 L124.3 284.2 L124.5 286 L124.3 287.6 L123.7 289.1 L122.7 290.6 L121.7 291.8 L120.8 292.9 L119.8 293.7 L118.7 294.6 L117.8 295.7 L116.9 296.7 L115.8 297.7 L114.4 298.7 L112.8 299.6 L111.2 300.2 L109.4 300.2 L107.5 299.9 L106 299.2 L104.7 298.1 L103.8 296.5 L103.2 295 L102.9 293.4 L103 291.8 L103.1 290.2Z" fill="none" stroke="#c45c7c" stroke-width="2.2" stroke-linejoin="round"/><path d="M104.2 254.3 L103.1 253 L102.2 251.5 L101.7 249.9 L101.7 248.1 L102.1 246.3 L102.9 244.7 L104.1 243.5 L105.6 242.5 L107.1 241.8 L108.5 241.4 L109.9 241.2 L111.2 241 L112.4 240.7 L113.5 240.4 L114.8 240.2 L116.2 240 L117.8 239.8 L119.3 240 L120.8 240.5 L122.2 241.5 L123.4 242.6 L124.1 244.1 L124.5 245.8 L124.6 247.5 L124.3 249.2 L123.7 250.8 L122.9 252.2 L122 253.5 L121 254.6 L119.8 255.6 L118.6 256.4 L117.3 257 L116 257.4 L114.7 257.6 L113.3 257.6 L112 257.5 L110.7 257.3 L109.4 257 L108.1 256.5 L106.8 255.9 L105.4 255.2 L104.2 254.3Z" fill="none" stroke="#8f3a56" stroke-width="4.1" stroke-linejoin="round"/><path d="M104.2 254.3 L103.1 253 L102.2 251.5 L101.7 249.9 L101.7 248.1 L102.1 246.3 L102.9 244.7 L104.1 243.5 L105.6 242.5 L107.1 241.8 L108.5 241.4 L109.9 241.2 L111.2 241 L112.4 240.7 L113.5 240.4 L114.8 240.2 L116.2 240 L117.8 239.8 L119.3 240 L120.8 240.5 L122.2 241.5 L123.4 242.6 L124.1 244.1 L124.5 245.8 L124.6 247.5 L124.3 249.2 L123.7 250.8 L122.9 252.2 L122 253.5 L121 254.6 L119.8 255.6 L118.6 256.4 L117.3 257 L116 257.4 L114.7 257.6 L113.3 257.6 L112 257.5 L110.7 257.3 L109.4 257 L108.1 256.5 L106.8 255.9 L105.4 255.2 L104.2 254.3Z" fill="none" stroke="#c45c7c" stroke-width="2.2" stroke-linejoin="round"/><path d="M119 241.8 L118.3 240.7 L117.7 239.4 L117.3 238.1 L117 236.9 L116.9 235.7 L116.9 234.5 L116.9 233.3 L116.9 232.2 L117.1 231.1 L117.4 229.9 L117.9 228.8 L118.4 227.8 L119.2 226.9 L120 226.1 L121 225.4 L122 224.9 L123.1 224.5 L124.3 224.3 L125.5 224.3 L126.7 224.5 L127.8 225 L128.8 225.8 L129.7 226.9 L130.2 228.1 L130.5 229.4 L130.5 230.9 L130.3 232.2 L130 233.4 L129.5 234.4 L129.1 235.5 L128.7 236.5 L128.3 237.4 L127.9 238.4 L127.4 239.5 L126.8 240.7 L126 241.8 L124.9 242.6 L123.7 243.2 L122.5 243.5 L121.3 243.3 L120 242.6 L119 241.8Z" fill="none" stroke="#8f3a56" stroke-width="4.1" stroke-linejoin="round"/><path d="M119 241.8 L118.3 240.7 L117.7 239.4 L117.3 238.1 L117 236.9 L116.9 235.7 L116.9 234.5 L116.9 233.3 L116.9 232.2 L117.1 231.1 L117.4 229.9 L117.9 228.8 L118.4 227.8 L119.2 226.9 L120 226.1 L121 225.4 L122 224.9 L123.1 224.5 L124.3 224.3 L125.5 224.3 L126.7 224.5 L127.8 225 L128.8 225.8 L129.7 226.9 L130.2 228.1 L130.5 229.4 L130.5 230.9 L130.3 232.2 L130 233.4 L129.5 234.4 L129.1 235.5 L128.7 236.5 L128.3 237.4 L127.9 238.4 L127.4 239.5 L126.8 240.7 L126 241.8 L124.9 242.6 L123.7 243.2 L122.5 243.5 L121.3 243.3 L120 242.6 L119 241.8Z" fill="none" stroke="#c45c7c" stroke-width="2.2" stroke-linejoin="round"/><path d="M92.5 296.7 L91.1 296.1 L89.8 295.2 L88.6 294.2 L87.4 293.1 L86.2 291.8 L85.3 290.4 L84.5 288.7 L83.9 286.8 L83.8 285 L84.1 283.1 L84.8 281.2 L85.9 279.7 L87.4 278.6 L89.1 277.8 L90.9 277.4 L92.5 277.2 L94.1 277.4 L95.6 277.6 L97 277.7 L98.3 277.8 L99.8 278 L101.4 278.2 L103 278.5 L104.6 279.2 L106.1 280.2 L107.5 281.6 L108.4 283.2 L108.9 285 L108.9 287 L108.6 288.9 L107.8 290.6 L106.8 292.1 L105.6 293.5 L104.3 294.6 L103 295.5 L101.5 296.3 L100.1 296.9 L98.6 297.3 L97 297.5 L95.5 297.5 L94 297.2 L92.5 296.7Z" fill="none" stroke="#8f3a56" stroke-width="4.1" stroke-linejoin="round"/><path d="M92.5 296.7 L91.1 296.1 L89.8 295.2 L88.6 294.2 L87.4 293.1 L86.2 291.8 L85.3 290.4 L84.5 288.7 L83.9 286.8 L83.8 285 L84.1 283.1 L84.8 281.2 L85.9 279.7 L87.4 278.6 L89.1 277.8 L90.9 277.4 L92.5 277.2 L94.1 277.4 L95.6 277.6 L97 277.7 L98.3 277.8 L99.8 278 L101.4 278.2 L103 278.5 L104.6 279.2 L106.1 280.2 L107.5 281.6 L108.4 283.2 L108.9 285 L108.9 287 L108.6 288.9 L107.8 290.6 L106.8 292.1 L105.6 293.5 L104.3 294.6 L103 295.5 L101.5 296.3 L100.1 296.9 L98.6 297.3 L97 297.5 L95.5 297.5 L94 297.2 L92.5 296.7Z" fill="none" stroke="#c45c7c" stroke-width="2.2" stroke-linejoin="round"/><path d="M87.6 288.3 L86.7 288.8 L85.7 289.3 L84.6 289.7 L83.4 290 L82.1 290.1 L80.9 290.1 L79.5 289.7 L78.2 289.1 L77.2 288.3 L76.4 287.2 L75.9 285.9 L75.6 284.6 L75.6 283.5 L75.9 282.3 L76.3 281.2 L76.6 280.3 L77 279.5 L77.4 278.6 L77.8 277.6 L78.2 276.7 L78.8 275.8 L79.6 274.9 L80.7 274.1 L81.8 273.6 L83.1 273.5 L84.5 273.6 L85.8 274 L86.9 274.7 L87.9 275.6 L88.8 276.5 L89.5 277.6 L90 278.7 L90.4 279.8 L90.7 280.9 L90.9 282 L90.9 283 L90.7 284.1 L90.4 285.1 L89.9 286.1 L89.3 286.9 L88.5 287.6 L87.6 288.3Z" fill="none" stroke="#8f3a56" stroke-width="4.1" stroke-linejoin="round"/><path d="M87.6 288.3 L86.7 288.8 L85.7 289.3 L84.6 289.7 L83.4 290 L82.1 290.1 L80.9 290.1 L79.5 289.7 L78.2 289.1 L77.2 288.3 L76.4 287.2 L75.9 285.9 L75.6 284.6 L75.6 283.5 L75.9 282.3 L76.3 281.2 L76.6 280.3 L77 279.5 L77.4 278.6 L77.8 277.6 L78.2 276.7 L78.8 275.8 L79.6 274.9 L80.7 274.1 L81.8 273.6 L83.1 273.5 L84.5 273.6 L85.8 274 L86.9 274.7 L87.9 275.6 L88.8 276.5 L89.5 277.6 L90 278.7 L90.4 279.8 L90.7 280.9 L90.9 282 L90.9 283 L90.7 284.1 L90.4 285.1 L89.9 286.1 L89.3 286.9 L88.5 287.6 L87.6 288.3Z" fill="none" stroke="#c45c7c" stroke-width="2.2" stroke-linejoin="round"/><path d="M126.8 246.3 L125.9 246 L125 245.6 L124.2 245.1 L123.4 244.4 L122.6 243.7 L122 242.8 L121.3 241.8 L120.8 240.8 L120.4 239.6 L120.2 238.4 L120.3 237 L120.6 235.9 L121.2 234.9 L122.1 234 L123.1 233.4 L124.1 233.1 L125.2 233.1 L126.2 233.2 L127.1 233.3 L128 233.5 L128.8 233.7 L129.7 233.9 L130.6 234 L131.5 234.2 L132.5 234.7 L133.6 235.3 L134.4 236 L135.1 237.1 L135.5 238.4 L135.7 239.6 L135.6 240.8 L135.1 242 L134.6 243.1 L133.9 243.9 L133.1 244.7 L132.2 245.3 L131.4 245.7 L130.5 246.1 L129.6 246.4 L128.6 246.5 L127.7 246.5 L126.8 246.3Z" fill="none" stroke="#8f3a56" stroke-width="4.1" stroke-linejoin="round"/><path d="M126.8 246.3 L125.9 246 L125 245.6 L124.2 245.1 L123.4 244.4 L122.6 243.7 L122 242.8 L121.3 241.8 L120.8 240.8 L120.4 239.6 L120.2 238.4 L120.3 237 L120.6 235.9 L121.2 234.9 L122.1 234 L123.1 233.4 L124.1 233.1 L125.2 233.1 L126.2 233.2 L127.1 233.3 L128 233.5 L128.8 233.7 L129.7 233.9 L130.6 234 L131.5 234.2 L132.5 234.7 L133.6 235.3 L134.4 236 L135.1 237.1 L135.5 238.4 L135.7 239.6 L135.6 240.8 L135.1 242 L134.6 243.1 L133.9 243.9 L133.1 244.7 L132.2 245.3 L131.4 245.7 L130.5 246.1 L129.6 246.4 L128.6 246.5 L127.7 246.5 L126.8 246.3Z" fill="none" stroke="#c45c7c" stroke-width="2.2" stroke-linejoin="round"/><path d="M143.7 249.8 L143.3 248.6 L143.3 247.2 L143.5 245.9 L143.9 244.6 L144.6 243.4 L145.4 242.4 L146.1 241.4 L147 240.5 L147.9 239.8 L148.8 239 L149.8 238.3 L150.9 237.8 L152.1 237.5 L153.3 237.3 L154.4 237.4 L155.5 237.7 L156.6 238.3 L157.5 239 L158.3 239.8 L159 240.7 L159.5 241.7 L160 242.8 L160.3 244 L160.5 245.2 L160.4 246.5 L160.1 247.9 L159.5 249.1 L158.7 250.1 L157.6 251 L156.5 251.7 L155.4 252.2 L154.2 252.4 L153.1 252.6 L152 252.8 L151 252.8 L149.9 252.8 L148.7 252.8 L147.5 252.7 L146.4 252.3 L145.3 251.7 L144.4 250.8 L143.7 249.8Z" fill="none" stroke="#8f3a56" stroke-width="4.1" stroke-linejoin="round"/><path d="M143.7 249.8 L143.3 248.6 L143.3 247.2 L143.5 245.9 L143.9 244.6 L144.6 243.4 L145.4 242.4 L146.1 241.4 L147 240.5 L147.9 239.8 L148.8 239 L149.8 238.3 L150.9 237.8 L152.1 237.5 L153.3 237.3 L154.4 237.4 L155.5 237.7 L156.6 238.3 L157.5 239 L158.3 239.8 L159 240.7 L159.5 241.7 L160 242.8 L160.3 244 L160.5 245.2 L160.4 246.5 L160.1 247.9 L159.5 249.1 L158.7 250.1 L157.6 251 L156.5 251.7 L155.4 252.2 L154.2 252.4 L153.1 252.6 L152 252.8 L151 252.8 L149.9 252.8 L148.7 252.8 L147.5 252.7 L146.4 252.3 L145.3 251.7 L144.4 250.8 L143.7 249.8Z" fill="none" stroke="#c45c7c" stroke-width="2.2" stroke-linejoin="round"/><path d="M113.4 280.3 L113.2 279.1 L113.1 277.8 L113.2 276.6 L113.3 275.4 L113.4 274.3 L113.7 273.2 L114.1 272.1 L114.5 271 L115.1 270 L115.8 269.1 L116.7 268.2 L117.6 267.5 L118.6 266.9 L119.7 266.5 L120.8 266.2 L122 266.1 L123.2 266.1 L124.3 266.3 L125.3 266.8 L126.3 267.5 L127.1 268.4 L127.6 269.5 L127.8 270.9 L127.8 272.2 L127.5 273.4 L127 274.7 L126.4 275.8 L125.7 276.8 L125.1 277.6 L124.4 278.5 L123.8 279.4 L123.2 280.3 L122.4 281.2 L121.5 282.2 L120.4 283.1 L119.3 283.6 L118 283.9 L116.7 283.8 L115.6 283.4 L114.7 282.6 L114 281.5 L113.4 280.3Z" fill="none" stroke="#8f3a56" stroke-width="4.1" stroke-linejoin="round"/><path d="M113.4 280.3 L113.2 279.1 L113.1 277.8 L113.2 276.6 L113.3 275.4 L113.4 274.3 L113.7 273.2 L114.1 272.1 L114.5 271 L115.1 270 L115.8 269.1 L116.7 268.2 L117.6 267.5 L118.6 266.9 L119.7 266.5 L120.8 266.2 L122 266.1 L123.2 266.1 L124.3 266.3 L125.3 266.8 L126.3 267.5 L127.1 268.4 L127.6 269.5 L127.8 270.9 L127.8 272.2 L127.5 273.4 L127 274.7 L126.4 275.8 L125.7 276.8 L125.1 277.6 L124.4 278.5 L123.8 279.4 L123.2 280.3 L122.4 281.2 L121.5 282.2 L120.4 283.1 L119.3 283.6 L118 283.9 L116.7 283.8 L115.6 283.4 L114.7 282.6 L114 281.5 L113.4 280.3Z" fill="none" stroke="#c45c7c" stroke-width="2.2" stroke-linejoin="round"/><path d="M165.4 279.8 L164.4 281.1 L163.2 282.3 L161.8 283.2 L160.2 283.9 L158.5 284.3 L156.7 284.6 L155 284.5 L153.2 284.2 L151.4 283.8 L149.7 283.2 L148 282.5 L146.5 281.5 L145 280.4 L143.6 279 L142.7 277.4 L142.2 275.7 L142.1 273.9 L142.3 272.1 L143.1 270.6 L144.3 269.2 L145.6 268 L146.9 267.1 L148.4 266.3 L149.8 265.6 L151.2 264.9 L152.6 264.2 L154.2 263.6 L156 263.2 L157.9 262.8 L159.8 262.9 L161.7 263.4 L163.6 264.4 L165.2 265.5 L166.2 267 L167 268.7 L167.5 270.5 L167.6 272.1 L167.4 273.8 L167.1 275.4 L166.7 276.9 L166.1 278.4 L165.4 279.8Z" fill="none" stroke="#8f3a56" stroke-width="4.1" stroke-linejoin="round"/><path d="M165.4 279.8 L164.4 281.1 L163.2 282.3 L161.8 283.2 L160.2 283.9 L158.5 284.3 L156.7 284.6 L155 284.5 L153.2 284.2 L151.4 283.8 L149.7 283.2 L148 282.5 L146.5 281.5 L145 280.4 L143.6 279 L142.7 277.4 L142.2 275.7 L142.1 273.9 L142.3 272.1 L143.1 270.6 L144.3 269.2 L145.6 268 L146.9 267.1 L148.4 266.3 L149.8 265.6 L151.2 264.9 L152.6 264.2 L154.2 263.6 L156 263.2 L157.9 262.8 L159.8 262.9 L161.7 263.4 L163.6 264.4 L165.2 265.5 L166.2 267 L167 268.7 L167.5 270.5 L167.6 272.1 L167.4 273.8 L167.1 275.4 L166.7 276.9 L166.1 278.4 L165.4 279.8Z" fill="none" stroke="#c45c7c" stroke-width="2.2" stroke-linejoin="round"/><path d="M88.9 245.9 L88 246.3 L87.1 246.5 L86.2 246.7 L85.2 246.8 L84.1 246.8 L83 246.7 L81.9 246.3 L80.9 245.9 L79.9 245.3 L79 244.6 L78.2 243.8 L77.6 243 L77 242.2 L76.5 241.3 L76.2 240.4 L75.9 239.5 L75.8 238.5 L75.9 237.6 L76.3 236.8 L77 236.1 L77.8 235.6 L78.8 235.3 L79.9 235.2 L81.1 235.2 L82.1 235.4 L83.2 235.7 L84.2 236.1 L85.2 236.4 L86.2 236.7 L87.2 237.1 L88.2 237.6 L89.3 238.2 L90.2 238.9 L91 239.8 L91.6 240.8 L91.9 241.8 L91.9 242.7 L91.6 243.6 L91.1 244.4 L90.5 245 L89.7 245.5 L88.9 245.9Z" fill="none" stroke="#8f3a56" stroke-width="4.1" stroke-linejoin="round"/><path d="M88.9 245.9 L88 246.3 L87.1 246.5 L86.2 246.7 L85.2 246.8 L84.1 246.8 L83 246.7 L81.9 246.3 L80.9 245.9 L79.9 245.3 L79 244.6 L78.2 243.8 L77.6 243 L77 242.2 L76.5 241.3 L76.2 240.4 L75.9 239.5 L75.8 238.5 L75.9 237.6 L76.3 236.8 L77 236.1 L77.8 235.6 L78.8 235.3 L79.9 235.2 L81.1 235.2 L82.1 235.4 L83.2 235.7 L84.2 236.1 L85.2 236.4 L86.2 236.7 L87.2 237.1 L88.2 237.6 L89.3 238.2 L90.2 238.9 L91 239.8 L91.6 240.8 L91.9 241.8 L91.9 242.7 L91.6 243.6 L91.1 244.4 L90.5 245 L89.7 245.5 L88.9 245.9Z" fill="none" stroke="#c45c7c" stroke-width="2.2" stroke-linejoin="round"/><path d="M102.9 273.1 L102.3 273.8 L101.6 274.4 L100.8 274.9 L99.9 275.2 L98.8 275.5 L97.8 275.6 L96.7 275.6 L95.6 275.5 L94.5 275.3 L93.5 275 L92.4 274.6 L91.4 274.1 L90.5 273.5 L89.6 272.8 L89 272 L88.6 271.1 L88.6 270.1 L88.7 269.2 L89.2 268.4 L89.9 267.7 L90.7 267.1 L91.5 266.6 L92.4 266.2 L93.2 265.9 L94.1 265.5 L94.9 265.1 L95.8 264.9 L96.9 264.6 L98 264.4 L99.2 264.4 L100.4 264.6 L101.6 265.1 L102.6 265.7 L103.3 266.5 L103.8 267.4 L104.2 268.3 L104.2 269.2 L104.1 270.1 L103.9 270.9 L103.7 271.7 L103.3 272.4 L102.9 273.1Z" fill="none" stroke="#8f3a56" stroke-width="4.1" stroke-linejoin="round"/><path d="M102.9 273.1 L102.3 273.8 L101.6 274.4 L100.8 274.9 L99.9 275.2 L98.8 275.5 L97.8 275.6 L96.7 275.6 L95.6 275.5 L94.5 275.3 L93.5 275 L92.4 274.6 L91.4 274.1 L90.5 273.5 L89.6 272.8 L89 272 L88.6 271.1 L88.6 270.1 L88.7 269.2 L89.2 268.4 L89.9 267.7 L90.7 267.1 L91.5 266.6 L92.4 266.2 L93.2 265.9 L94.1 265.5 L94.9 265.1 L95.8 264.9 L96.9 264.6 L98 264.4 L99.2 264.4 L100.4 264.6 L101.6 265.1 L102.6 265.7 L103.3 266.5 L103.8 267.4 L104.2 268.3 L104.2 269.2 L104.1 270.1 L103.9 270.9 L103.7 271.7 L103.3 272.4 L102.9 273.1Z" fill="none" stroke="#c45c7c" stroke-width="2.2" stroke-linejoin="round"/><path d="M127.3 260.9 L126.8 259.7 L126.5 258.3 L126.2 257 L126.1 255.8 L126.1 254.6 L126.1 253.4 L126.3 252.2 L126.5 251 L126.9 249.8 L127.4 248.7 L128.2 247.7 L129 246.7 L129.9 245.9 L131 245.1 L132.2 244.6 L133.4 244.2 L134.8 243.9 L136.1 243.9 L137.4 244.3 L138.6 244.9 L139.7 245.8 L140.4 247 L140.9 248.4 L141.1 249.8 L140.9 251.2 L140.6 252.6 L140.1 253.8 L139.7 254.9 L139.3 255.9 L138.8 256.9 L138.4 258.1 L138 259.2 L137.4 260.4 L136.6 261.6 L135.6 262.8 L134.5 263.7 L133.1 264.1 L131.6 264.2 L130.3 263.9 L129.1 263.2 L128.1 262.1 L127.3 260.9Z" fill="none" stroke="#8f3a56" stroke-width="4.1" stroke-linejoin="round"/><path d="M127.3 260.9 L126.8 259.7 L126.5 258.3 L126.2 257 L126.1 255.8 L126.1 254.6 L126.1 253.4 L126.3 252.2 L126.5 251 L126.9 249.8 L127.4 248.7 L128.2 247.7 L129 246.7 L129.9 245.9 L131 245.1 L132.2 244.6 L133.4 244.2 L134.8 243.9 L136.1 243.9 L137.4 244.3 L138.6 244.9 L139.7 245.8 L140.4 247 L140.9 248.4 L141.1 249.8 L140.9 251.2 L140.6 252.6 L140.1 253.8 L139.7 254.9 L139.3 255.9 L138.8 256.9 L138.4 258.1 L138 259.2 L137.4 260.4 L136.6 261.6 L135.6 262.8 L134.5 263.7 L133.1 264.1 L131.6 264.2 L130.3 263.9 L129.1 263.2 L128.1 262.1 L127.3 260.9Z" fill="none" stroke="#c45c7c" stroke-width="2.2" stroke-linejoin="round"/><path d="M146.4 270.9 L145.5 270.3 L144.6 269.5 L143.8 268.7 L143 267.8 L142.2 266.9 L141.6 265.9 L141 264.7 L140.6 263.5 L140.3 262.2 L140.2 260.9 L140.2 259.7 L140.4 258.5 L140.6 257.3 L141 256.2 L141.5 255.2 L142.2 254.3 L142.9 253.5 L143.8 252.9 L144.7 252.6 L145.8 252.6 L146.9 252.8 L147.9 253.5 L148.9 254.4 L149.7 255.5 L150.4 256.6 L150.8 257.9 L151.3 259.1 L151.7 260.2 L152 261.3 L152.3 262.4 L152.7 263.7 L153 265 L153.1 266.3 L153.1 267.7 L152.8 269.1 L152.3 270.3 L151.6 271.1 L150.6 271.6 L149.6 271.9 L148.5 271.8 L147.4 271.4 L146.4 270.9Z" fill="none" stroke="#8f3a56" stroke-width="4.1" stroke-linejoin="round"/><path d="M146.4 270.9 L145.5 270.3 L144.6 269.5 L143.8 268.7 L143 267.8 L142.2 266.9 L141.6 265.9 L141 264.7 L140.6 263.5 L140.3 262.2 L140.2 260.9 L140.2 259.7 L140.4 258.5 L140.6 257.3 L141 256.2 L141.5 255.2 L142.2 254.3 L142.9 253.5 L143.8 252.9 L144.7 252.6 L145.8 252.6 L146.9 252.8 L147.9 253.5 L148.9 254.4 L149.7 255.5 L150.4 256.6 L150.8 257.9 L151.3 259.1 L151.7 260.2 L152 261.3 L152.3 262.4 L152.7 263.7 L153 265 L153.1 266.3 L153.1 267.7 L152.8 269.1 L152.3 270.3 L151.6 271.1 L150.6 271.6 L149.6 271.9 L148.5 271.8 L147.4 271.4 L146.4 270.9Z" fill="none" stroke="#c45c7c" stroke-width="2.2" stroke-linejoin="round"/><path d="M134.1 286.8 L134.2 285.9 L134.4 285 L134.7 284.2 L135.2 283.3 L135.8 282.4 L136.6 281.6 L137.5 281 L138.5 280.5 L139.6 280.1 L140.6 279.8 L141.6 279.6 L142.7 279.5 L143.7 279.5 L144.7 279.6 L145.6 279.8 L146.5 280.2 L147.3 280.7 L147.9 281.4 L148.3 282.2 L148.4 283.1 L148.3 284.1 L147.9 285 L147.3 285.9 L146.7 286.8 L146 287.5 L145.3 288.2 L144.6 288.9 L143.8 289.6 L143 290.3 L142.1 290.9 L141 291.5 L139.9 291.9 L138.8 292.2 L137.7 292.2 L136.7 291.9 L135.8 291.5 L135.1 290.9 L134.7 290.1 L134.3 289.3 L134.1 288.5 L134.1 287.7 L134.1 286.8Z" fill="none" stroke="#8f3a56" stroke-width="4.1" stroke-linejoin="round"/><path d="M134.1 286.8 L134.2 285.9 L134.4 285 L134.7 284.2 L135.2 283.3 L135.8 282.4 L136.6 281.6 L137.5 281 L138.5 280.5 L139.6 280.1 L140.6 279.8 L141.6 279.6 L142.7 279.5 L143.7 279.5 L144.7 279.6 L145.6 279.8 L146.5 280.2 L147.3 280.7 L147.9 281.4 L148.3 282.2 L148.4 283.1 L148.3 284.1 L147.9 285 L147.3 285.9 L146.7 286.8 L146 287.5 L145.3 288.2 L144.6 288.9 L143.8 289.6 L143 290.3 L142.1 290.9 L141 291.5 L139.9 291.9 L138.8 292.2 L137.7 292.2 L136.7 291.9 L135.8 291.5 L135.1 290.9 L134.7 290.1 L134.3 289.3 L134.1 288.5 L134.1 287.7 L134.1 286.8Z" fill="none" stroke="#c45c7c" stroke-width="2.2" stroke-linejoin="round"/><path d="M150.5 262 L149.4 262.9 L148.2 263.7 L146.9 264.2 L145.5 264.5 L144 264.6 L142.5 264.6 L141.1 264.4 L139.6 264.1 L138.1 263.6 L136.6 262.9 L135.2 262.1 L133.9 261.1 L132.9 259.8 L132.1 258.4 L131.7 256.9 L131.8 255.4 L132.3 253.9 L133 252.7 L133.9 251.6 L135 250.8 L136.2 250 L137.2 249.3 L138.2 248.6 L139.4 248 L140.6 247.4 L141.9 246.7 L143.4 246.4 L145 246.3 L146.8 246.4 L148.4 246.9 L149.8 247.8 L151 249 L152 250.3 L152.6 251.7 L152.9 253.2 L153 254.7 L153 256 L152.7 257.3 L152.4 258.6 L151.9 259.8 L151.3 261 L150.5 262Z" fill="none" stroke="#8f3a56" stroke-width="4.1" stroke-linejoin="round"/><path d="M150.5 262 L149.4 262.9 L148.2 263.7 L146.9 264.2 L145.5 264.5 L144 264.6 L142.5 264.6 L141.1 264.4 L139.6 264.1 L138.1 263.6 L136.6 262.9 L135.2 262.1 L133.9 261.1 L132.9 259.8 L132.1 258.4 L131.7 256.9 L131.8 255.4 L132.3 253.9 L133 252.7 L133.9 251.6 L135 250.8 L136.2 250 L137.2 249.3 L138.2 248.6 L139.4 248 L140.6 247.4 L141.9 246.7 L143.4 246.4 L145 246.3 L146.8 246.4 L148.4 246.9 L149.8 247.8 L151 249 L152 250.3 L152.6 251.7 L152.9 253.2 L153 254.7 L153 256 L152.7 257.3 L152.4 258.6 L151.9 259.8 L151.3 261 L150.5 262Z" fill="none" stroke="#c45c7c" stroke-width="2.2" stroke-linejoin="round"/><path d="M78.5 274.5 L79 273.1 L79.7 271.6 L80.6 270.2 L81.8 268.8 L83.2 267.5 L84.8 266.5 L86.7 265.9 L88.8 265.5 L90.7 265.6 L92.6 266.2 L94.2 267.2 L95.6 268.3 L96.7 269.6 L97.4 271 L98.1 272.3 L98.7 273.6 L99.3 274.8 L99.8 276.1 L100.3 277.6 L100.8 279.1 L100.9 280.7 L100.5 282.4 L99.9 284.1 L98.8 285.5 L97.3 286.7 L95.5 287.6 L93.6 288.2 L91.7 288.5 L89.8 288.4 L87.9 288.1 L86.2 287.7 L84.6 287.1 L83 286.4 L81.6 285.5 L80.4 284.5 L79.3 283.3 L78.6 282 L78.1 280.5 L77.8 279 L77.8 277.5 L78.1 276 L78.5 274.5Z" fill="none" stroke="#8f3a56" stroke-width="4.1" stroke-linejoin="round"/><path d="M78.5 274.5 L79 273.1 L79.7 271.6 L80.6 270.2 L81.8 268.8 L83.2 267.5 L84.8 266.5 L86.7 265.9 L88.8 265.5 L90.7 265.6 L92.6 266.2 L94.2 267.2 L95.6 268.3 L96.7 269.6 L97.4 271 L98.1 272.3 L98.7 273.6 L99.3 274.8 L99.8 276.1 L100.3 277.6 L100.8 279.1 L100.9 280.7 L100.5 282.4 L99.9 284.1 L98.8 285.5 L97.3 286.7 L95.5 287.6 L93.6 288.2 L91.7 288.5 L89.8 288.4 L87.9 288.1 L86.2 287.7 L84.6 287.1 L83 286.4 L81.6 285.5 L80.4 284.5 L79.3 283.3 L78.6 282 L78.1 280.5 L77.8 279 L77.8 277.5 L78.1 276 L78.5 274.5Z" fill="none" stroke="#c45c7c" stroke-width="2.2" stroke-linejoin="round"/><path d="M151.6 259.7 L150.9 258.6 L150.3 257.5 L149.8 256.3 L149.6 255 L149.5 253.6 L149.7 252.3 L150.1 251 L150.8 249.8 L151.5 248.6 L152.5 247.7 L153.5 246.8 L154.6 246.1 L155.8 245.5 L157.1 244.9 L158.4 244.6 L159.8 244.5 L161.3 244.6 L162.6 245 L163.8 245.7 L164.8 246.8 L165.6 247.9 L166 249.2 L166.2 250.6 L166.2 252 L166.2 253.3 L166 254.5 L165.8 255.7 L165.6 257 L165.3 258.2 L164.8 259.5 L164.1 260.8 L163.3 262 L162.2 263 L160.9 263.7 L159.5 264.1 L158 264.1 L156.7 263.8 L155.4 263.2 L154.2 262.5 L153.2 261.7 L152.3 260.7 L151.6 259.7Z" fill="none" stroke="#8f3a56" stroke-width="4.1" stroke-linejoin="round"/><path d="M151.6 259.7 L150.9 258.6 L150.3 257.5 L149.8 256.3 L149.6 255 L149.5 253.6 L149.7 252.3 L150.1 251 L150.8 249.8 L151.5 248.6 L152.5 247.7 L153.5 246.8 L154.6 246.1 L155.8 245.5 L157.1 244.9 L158.4 244.6 L159.8 244.5 L161.3 244.6 L162.6 245 L163.8 245.7 L164.8 246.8 L165.6 247.9 L166 249.2 L166.2 250.6 L166.2 252 L166.2 253.3 L166 254.5 L165.8 255.7 L165.6 257 L165.3 258.2 L164.8 259.5 L164.1 260.8 L163.3 262 L162.2 263 L160.9 263.7 L159.5 264.1 L158 264.1 L156.7 263.8 L155.4 263.2 L154.2 262.5 L153.2 261.7 L152.3 260.7 L151.6 259.7Z" fill="none" stroke="#c45c7c" stroke-width="2.2" stroke-linejoin="round"/><path d="M72.5 263.1 L71.1 262.4 L69.7 261.4 L68.7 260.2 L68 258.5 L67.7 256.7 L67.7 254.9 L68.3 253.2 L69.3 251.6 L70.4 250.3 L71.5 249.3 L72.7 248.6 L73.9 247.9 L74.9 247.2 L75.8 246.6 L76.9 245.9 L78.1 245.2 L79.3 244.4 L80.7 243.9 L82.2 243.8 L83.8 244 L85.2 244.6 L86.4 245.6 L87.4 247 L88.1 248.6 L88.5 250.3 L88.5 252 L88.3 253.8 L87.9 255.3 L87.4 256.9 L86.7 258.2 L85.9 259.5 L84.9 260.6 L83.9 261.5 L82.8 262.3 L81.6 262.8 L80.4 263.3 L79.2 263.6 L77.9 263.7 L76.6 263.7 L75.3 263.7 L73.9 263.6 L72.5 263.1Z" fill="none" stroke="#8f3a56" stroke-width="4.1" stroke-linejoin="round"/><path d="M72.5 263.1 L71.1 262.4 L69.7 261.4 L68.7 260.2 L68 258.5 L67.7 256.7 L67.7 254.9 L68.3 253.2 L69.3 251.6 L70.4 250.3 L71.5 249.3 L72.7 248.6 L73.9 247.9 L74.9 247.2 L75.8 246.6 L76.9 245.9 L78.1 245.2 L79.3 244.4 L80.7 243.9 L82.2 243.8 L83.8 244 L85.2 244.6 L86.4 245.6 L87.4 247 L88.1 248.6 L88.5 250.3 L88.5 252 L88.3 253.8 L87.9 255.3 L87.4 256.9 L86.7 258.2 L85.9 259.5 L84.9 260.6 L83.9 261.5 L82.8 262.3 L81.6 262.8 L80.4 263.3 L79.2 263.6 L77.9 263.7 L76.6 263.7 L75.3 263.7 L73.9 263.6 L72.5 263.1Z" fill="none" stroke="#c45c7c" stroke-width="2.2" stroke-linejoin="round"/><path d="M121.2 260.5 L119.9 260.6 L118.7 260.5 L117.5 260.2 L116.2 259.6 L115 258.9 L114 257.9 L113.2 256.7 L112.6 255.3 L112.3 253.9 L112.3 252.6 L112.6 251.2 L113 250 L113.4 248.9 L113.9 247.9 L114.5 247 L115.1 246 L115.8 245 L116.6 244.2 L117.6 243.5 L118.8 242.9 L120 242.6 L121.3 242.7 L122.6 243.1 L123.8 243.7 L124.9 244.6 L125.8 245.6 L126.6 246.8 L127.3 248 L127.8 249.2 L128.2 250.4 L128.6 251.7 L128.8 253 L128.8 254.3 L128.5 255.6 L128.1 256.8 L127.4 257.9 L126.6 258.7 L125.6 259.4 L124.5 259.9 L123.5 260.2 L122.3 260.4 L121.2 260.5Z" fill="none" stroke="#8f3a56" stroke-width="4.1" stroke-linejoin="round"/><path d="M121.2 260.5 L119.9 260.6 L118.7 260.5 L117.5 260.2 L116.2 259.6 L115 258.9 L114 257.9 L113.2 256.7 L112.6 255.3 L112.3 253.9 L112.3 252.6 L112.6 251.2 L113 250 L113.4 248.9 L113.9 247.9 L114.5 247 L115.1 246 L115.8 245 L116.6 244.2 L117.6 243.5 L118.8 242.9 L120 242.6 L121.3 242.7 L122.6 243.1 L123.8 243.7 L124.9 244.6 L125.8 245.6 L126.6 246.8 L127.3 248 L127.8 249.2 L128.2 250.4 L128.6 251.7 L128.8 253 L128.8 254.3 L128.5 255.6 L128.1 256.8 L127.4 257.9 L126.6 258.7 L125.6 259.4 L124.5 259.9 L123.5 260.2 L122.3 260.4 L121.2 260.5Z" fill="none" stroke="#c45c7c" stroke-width="2.2" stroke-linejoin="round"/><path d="M157.5 273.2 L156.8 272.4 L156.3 271.3 L155.8 270.1 L155.6 268.8 L155.4 267.5 L155.4 266.2 L155.4 264.8 L155.5 263.4 L155.8 261.9 L156.3 260.5 L156.9 259.1 L157.7 257.9 L158.7 257 L159.8 256.3 L160.9 255.9 L162 255.9 L163.1 256.3 L164.1 256.7 L164.9 257.3 L165.6 258 L166.3 258.7 L167.1 259.4 L167.8 260.1 L168.5 261 L169.1 262.2 L169.6 263.4 L169.8 264.8 L169.8 266.3 L169.5 267.9 L169 269.3 L168.3 270.6 L167.4 271.7 L166.4 272.6 L165.4 273.3 L164.4 273.8 L163.4 274.2 L162.3 274.5 L161.3 274.6 L160.3 274.6 L159.3 274.3 L158.4 273.9 L157.5 273.2Z" fill="none" stroke="#8f3a56" stroke-width="4.1" stroke-linejoin="round"/><path d="M157.5 273.2 L156.8 272.4 L156.3 271.3 L155.8 270.1 L155.6 268.8 L155.4 267.5 L155.4 266.2 L155.4 264.8 L155.5 263.4 L155.8 261.9 L156.3 260.5 L156.9 259.1 L157.7 257.9 L158.7 257 L159.8 256.3 L160.9 255.9 L162 255.9 L163.1 256.3 L164.1 256.7 L164.9 257.3 L165.6 258 L166.3 258.7 L167.1 259.4 L167.8 260.1 L168.5 261 L169.1 262.2 L169.6 263.4 L169.8 264.8 L169.8 266.3 L169.5 267.9 L169 269.3 L168.3 270.6 L167.4 271.7 L166.4 272.6 L165.4 273.3 L164.4 273.8 L163.4 274.2 L162.3 274.5 L161.3 274.6 L160.3 274.6 L159.3 274.3 L158.4 273.9 L157.5 273.2Z" fill="none" stroke="#c45c7c" stroke-width="2.2" stroke-linejoin="round"/><path d="M104.8 258.1 L105.1 257.1 L105.5 256.2 L106 255.3 L106.6 254.4 L107.3 253.6 L108.2 253 L109.2 252.4 L110.3 252.1 L111.4 251.8 L112.5 251.7 L113.6 251.7 L114.7 251.9 L115.8 252.1 L117 252.5 L117.9 253 L118.8 253.7 L119.6 254.6 L120.1 255.6 L120.3 256.7 L120.2 257.9 L119.8 259 L119.3 260 L118.5 260.9 L117.7 261.6 L116.9 262.3 L116.1 262.9 L115.3 263.4 L114.4 264.1 L113.6 264.7 L112.6 265.2 L111.4 265.7 L110.1 266 L108.9 266 L107.7 265.7 L106.6 265.1 L105.7 264.4 L105.1 263.4 L104.7 262.3 L104.5 261.2 L104.4 260.1 L104.6 259.1 L104.8 258.1Z" fill="none" stroke="#8f3a56" stroke-width="4.1" stroke-linejoin="round"/><path d="M104.8 258.1 L105.1 257.1 L105.5 256.2 L106 255.3 L106.6 254.4 L107.3 253.6 L108.2 253 L109.2 252.4 L110.3 252.1 L111.4 251.8 L112.5 251.7 L113.6 251.7 L114.7 251.9 L115.8 252.1 L117 252.5 L117.9 253 L118.8 253.7 L119.6 254.6 L120.1 255.6 L120.3 256.7 L120.2 257.9 L119.8 259 L119.3 260 L118.5 260.9 L117.7 261.6 L116.9 262.3 L116.1 262.9 L115.3 263.4 L114.4 264.1 L113.6 264.7 L112.6 265.2 L111.4 265.7 L110.1 266 L108.9 266 L107.7 265.7 L106.6 265.1 L105.7 264.4 L105.1 263.4 L104.7 262.3 L104.5 261.2 L104.4 260.1 L104.6 259.1 L104.8 258.1Z" fill="none" stroke="#c45c7c" stroke-width="2.2" stroke-linejoin="round"/><path d="M101.8 272.6 L100.2 273 L98.5 273.2 L96.8 273 L95.1 272.3 L93.3 271.1 L91.8 269.8 L90.7 268.1 L89.9 266.2 L89.3 264.4 L89 262.7 L89 261.1 L89 259.6 L88.9 258.1 L88.9 256.7 L89.1 255.2 L89.3 253.7 L89.6 252.1 L90.3 250.7 L91.4 249.6 L92.7 248.8 L94.2 248.3 L95.9 248.4 L97.7 248.8 L99.4 249.5 L101 250.5 L102.5 251.8 L103.9 253.1 L105.1 254.5 L106.2 256 L107.1 257.5 L107.8 259.2 L108.3 260.9 L108.6 262.5 L108.5 264.1 L108.2 265.6 L107.7 267 L107.1 268.2 L106.2 269.3 L105.3 270.2 L104.2 271.2 L103.1 272 L101.8 272.6Z" fill="none" stroke="#8f3a56" stroke-width="4.1" stroke-linejoin="round"/><path d="M101.8 272.6 L100.2 273 L98.5 273.2 L96.8 273 L95.1 272.3 L93.3 271.1 L91.8 269.8 L90.7 268.1 L89.9 266.2 L89.3 264.4 L89 262.7 L89 261.1 L89 259.6 L88.9 258.1 L88.9 256.7 L89.1 255.2 L89.3 253.7 L89.6 252.1 L90.3 250.7 L91.4 249.6 L92.7 248.8 L94.2 248.3 L95.9 248.4 L97.7 248.8 L99.4 249.5 L101 250.5 L102.5 251.8 L103.9 253.1 L105.1 254.5 L106.2 256 L107.1 257.5 L107.8 259.2 L108.3 260.9 L108.6 262.5 L108.5 264.1 L108.2 265.6 L107.7 267 L107.1 268.2 L106.2 269.3 L105.3 270.2 L104.2 271.2 L103.1 272 L101.8 272.6Z" fill="none" stroke="#c45c7c" stroke-width="2.2" stroke-linejoin="round"/><path d="M73 254.7 L73.5 253 L74.3 251.4 L75.3 249.9 L76.5 248.6 L77.9 247.4 L79.4 246.4 L80.9 245.5 L82.7 244.8 L84.5 244.3 L86.4 244 L88.5 244 L90.4 244.3 L92.2 245.2 L93.9 246.5 L95.1 248 L95.9 249.8 L96.3 251.8 L96.4 253.7 L96.3 255.4 L95.9 257.1 L95.6 258.7 L95.2 260.3 L94.9 261.9 L94.3 263.5 L93.5 265.2 L92.5 266.9 L91.2 268.3 L89.6 269.4 L87.6 270.2 L85.6 270.5 L83.6 270.3 L81.7 269.6 L79.9 268.7 L78.4 267.5 L77.1 266.2 L76 264.7 L75 263.2 L74.1 261.7 L73.5 260 L73.1 258.3 L72.9 256.5 L73 254.7Z" fill="none" stroke="#8f3a56" stroke-width="4.1" stroke-linejoin="round"/><path d="M73 254.7 L73.5 253 L74.3 251.4 L75.3 249.9 L76.5 248.6 L77.9 247.4 L79.4 246.4 L80.9 245.5 L82.7 244.8 L84.5 244.3 L86.4 244 L88.5 244 L90.4 244.3 L92.2 245.2 L93.9 246.5 L95.1 248 L95.9 249.8 L96.3 251.8 L96.4 253.7 L96.3 255.4 L95.9 257.1 L95.6 258.7 L95.2 260.3 L94.9 261.9 L94.3 263.5 L93.5 265.2 L92.5 266.9 L91.2 268.3 L89.6 269.4 L87.6 270.2 L85.6 270.5 L83.6 270.3 L81.7 269.6 L79.9 268.7 L78.4 267.5 L77.1 266.2 L76 264.7 L75 263.2 L74.1 261.7 L73.5 260 L73.1 258.3 L72.9 256.5 L73 254.7Z" fill="none" stroke="#c45c7c" stroke-width="2.2" stroke-linejoin="round"/><path d="M97.3 245.9 L96.2 245.3 L95.2 244.6 L94.3 243.7 L93.5 242.7 L92.9 241.6 L92.5 240.3 L92.3 239.1 L92.3 237.8 L92.5 236.5 L92.8 235.3 L93.3 234 L93.9 232.9 L94.6 231.7 L95.5 230.6 L96.6 229.7 L97.9 229.1 L99.3 228.7 L100.7 228.6 L102.1 228.9 L103.4 229.5 L104.6 230.3 L105.5 231.2 L106.2 232.3 L106.8 233.4 L107.4 234.4 L107.9 235.4 L108.4 236.5 L108.9 237.7 L109.4 238.9 L109.6 240.2 L109.5 241.7 L109.2 243.1 L108.6 244.4 L107.7 245.5 L106.4 246.4 L105.1 247 L103.7 247.2 L102.3 247.2 L100.9 247.1 L99.7 246.8 L98.5 246.4 L97.3 245.9Z" fill="none" stroke="#8f3a56" stroke-width="4.1" stroke-linejoin="round"/><path d="M97.3 245.9 L96.2 245.3 L95.2 244.6 L94.3 243.7 L93.5 242.7 L92.9 241.6 L92.5 240.3 L92.3 239.1 L92.3 237.8 L92.5 236.5 L92.8 235.3 L93.3 234 L93.9 232.9 L94.6 231.7 L95.5 230.6 L96.6 229.7 L97.9 229.1 L99.3 228.7 L100.7 228.6 L102.1 228.9 L103.4 229.5 L104.6 230.3 L105.5 231.2 L106.2 232.3 L106.8 233.4 L107.4 234.4 L107.9 235.4 L108.4 236.5 L108.9 237.7 L109.4 238.9 L109.6 240.2 L109.5 241.7 L109.2 243.1 L108.6 244.4 L107.7 245.5 L106.4 246.4 L105.1 247 L103.7 247.2 L102.3 247.2 L100.9 247.1 L99.7 246.8 L98.5 246.4 L97.3 245.9Z" fill="none" stroke="#c45c7c" stroke-width="2.2" stroke-linejoin="round"/><path d="M138.4 283.2 L137.4 282.4 L136.5 281.5 L135.7 280.5 L135 279.5 L134.4 278.4 L133.9 277.3 L133.6 276 L133.5 274.7 L133.6 273.4 L133.9 272.2 L134.4 271 L135.1 269.9 L135.9 268.8 L136.8 267.8 L137.9 267 L139.1 266.3 L140.4 265.7 L141.8 265.3 L143.3 265.3 L144.8 265.6 L146.1 266.1 L147.2 267.1 L148.1 268.2 L148.8 269.5 L149.2 270.7 L149.3 272 L149.5 273.3 L149.6 274.4 L149.7 275.5 L149.7 276.7 L149.7 278 L149.6 279.4 L149.3 280.7 L148.7 282 L147.8 283.3 L146.7 284.2 L145.3 284.8 L143.8 285.1 L142.3 285.1 L140.9 284.7 L139.6 284 L138.4 283.2Z" fill="none" stroke="#8f3a56" stroke-width="4.1" stroke-linejoin="round"/><path d="M138.4 283.2 L137.4 282.4 L136.5 281.5 L135.7 280.5 L135 279.5 L134.4 278.4 L133.9 277.3 L133.6 276 L133.5 274.7 L133.6 273.4 L133.9 272.2 L134.4 271 L135.1 269.9 L135.9 268.8 L136.8 267.8 L137.9 267 L139.1 266.3 L140.4 265.7 L141.8 265.3 L143.3 265.3 L144.8 265.6 L146.1 266.1 L147.2 267.1 L148.1 268.2 L148.8 269.5 L149.2 270.7 L149.3 272 L149.5 273.3 L149.6 274.4 L149.7 275.5 L149.7 276.7 L149.7 278 L149.6 279.4 L149.3 280.7 L148.7 282 L147.8 283.3 L146.7 284.2 L145.3 284.8 L143.8 285.1 L142.3 285.1 L140.9 284.7 L139.6 284 L138.4 283.2Z" fill="none" stroke="#c45c7c" stroke-width="2.2" stroke-linejoin="round"/><path d="M64.2 272.3 L63.7 271.5 L63.2 270.5 L62.9 269.5 L62.8 268.3 L62.9 267.1 L63.1 265.9 L63.4 264.7 L63.9 263.5 L64.5 262.4 L65.2 261.3 L65.9 260.3 L66.8 259.3 L67.7 258.5 L68.8 257.7 L69.8 257.3 L70.9 257.1 L72.1 257.2 L73 257.5 L73.8 258.3 L74.4 259.3 L74.8 260.3 L75.1 261.4 L75.2 262.5 L75.3 263.6 L75.4 264.7 L75.4 265.8 L75.4 266.9 L75.3 268.1 L75.2 269.5 L74.8 270.7 L74.2 272 L73.4 273.2 L72.4 274.2 L71.4 274.8 L70.2 275.2 L69.1 275.3 L68.1 275.1 L67.2 274.7 L66.3 274.3 L65.5 273.7 L64.8 273.1 L64.2 272.3Z" fill="none" stroke="#8f3a56" stroke-width="4.1" stroke-linejoin="round"/><path d="M64.2 272.3 L63.7 271.5 L63.2 270.5 L62.9 269.5 L62.8 268.3 L62.9 267.1 L63.1 265.9 L63.4 264.7 L63.9 263.5 L64.5 262.4 L65.2 261.3 L65.9 260.3 L66.8 259.3 L67.7 258.5 L68.8 257.7 L69.8 257.3 L70.9 257.1 L72.1 257.2 L73 257.5 L73.8 258.3 L74.4 259.3 L74.8 260.3 L75.1 261.4 L75.2 262.5 L75.3 263.6 L75.4 264.7 L75.4 265.8 L75.4 266.9 L75.3 268.1 L75.2 269.5 L74.8 270.7 L74.2 272 L73.4 273.2 L72.4 274.2 L71.4 274.8 L70.2 275.2 L69.1 275.3 L68.1 275.1 L67.2 274.7 L66.3 274.3 L65.5 273.7 L64.8 273.1 L64.2 272.3Z" fill="none" stroke="#c45c7c" stroke-width="2.2" stroke-linejoin="round"/><path d="M118.7 263 L118.7 261.2 L119.2 259.2 L119.9 257.5 L121.1 256.1 L122.7 254.8 L124.2 253.8 L125.7 253.1 L127.3 252.5 L128.8 252.1 L130.4 251.7 L131.9 251.4 L133.5 251.3 L135 251.4 L136.7 251.7 L138.1 252.2 L139.5 253.1 L140.7 254.2 L141.7 255.4 L142.5 256.8 L143.1 258.4 L143.5 260 L143.7 261.7 L143.6 263.5 L143.2 265.2 L142.5 266.9 L141.4 268.5 L140.2 269.8 L138.6 270.7 L136.8 271.3 L135 271.7 L133.4 271.6 L131.8 271.3 L130.2 270.9 L128.8 270.5 L127.5 270.1 L126.2 269.6 L124.7 269 L123.1 268.4 L121.7 267.5 L120.4 266.2 L119.4 264.7 L118.7 263Z" fill="none" stroke="#8f3a56" stroke-width="4.1" stroke-linejoin="round"/><path d="M118.7 263 L118.7 261.2 L119.2 259.2 L119.9 257.5 L121.1 256.1 L122.7 254.8 L124.2 253.8 L125.7 253.1 L127.3 252.5 L128.8 252.1 L130.4 251.7 L131.9 251.4 L133.5 251.3 L135 251.4 L136.7 251.7 L138.1 252.2 L139.5 253.1 L140.7 254.2 L141.7 255.4 L142.5 256.8 L143.1 258.4 L143.5 260 L143.7 261.7 L143.6 263.5 L143.2 265.2 L142.5 266.9 L141.4 268.5 L140.2 269.8 L138.6 270.7 L136.8 271.3 L135 271.7 L133.4 271.6 L131.8 271.3 L130.2 270.9 L128.8 270.5 L127.5 270.1 L126.2 269.6 L124.7 269 L123.1 268.4 L121.7 267.5 L120.4 266.2 L119.4 264.7 L118.7 263Z" fill="none" stroke="#c45c7c" stroke-width="2.2" stroke-linejoin="round"/>
<text x="23.5" y="383" font-size="28" text-anchor="start" font-weight="normal" fill="#000" >S - TRAIL</text>
<path d="M25.3 530.9L32.5 525.5M25.3 530.9L34 535.8M26.8 541.2L34 535.8M26.8 541.2L35.5 546.1M32.5 525.5L48.5 525M34 535.8L50 535.3M35.5 546.1L51.5 545.6M48.5 525L55.8 519.6M48.5 525L57.3 529.9M50 535.3L57.3 529.9M50 535.3L58.8 540.2M51.5 545.6L58.8 540.2M51.5 545.6L60.3 550.5M53 555.9L60.3 550.5M53 555.9L61.8 560.8M55.8 519.6L71.8 519.1M57.3 529.9L73.3 529.4M58.8 540.2L74.8 539.7M60.3 550.5L76.3 550M61.8 560.8L77.8 560.3M71.8 519.1L79 513.7M71.8 519.1L80.5 524M73.3 529.4L80.5 524M73.3 529.4L82 534.3M74.8 539.7L82 534.3M74.8 539.7L83.5 544.6M76.3 550L83.5 544.6M76.3 550L85 554.9M77.8 560.3L85 554.9M79 513.7L95 513.2M80.5 524L96.5 523.5M82 534.3L98 533.8M83.5 544.6L99.5 544.1M85 554.9L101 554.4M95 513.2L103.8 518.1M96.5 523.5L103.8 518.1M96.5 523.5L105.3 528.4M98 533.8L105.3 528.4M98 533.8L106.8 538.7M99.5 544.1L106.8 538.7M99.5 544.1L108.3 549M101 554.4L108.3 549M103.8 518.1L119.8 517.6M105.3 528.4L121.3 527.9M106.8 538.7L122.8 538.2M108.3 549L124.3 548.5M119.8 517.6L128.6 522.5M121.3 527.9L128.6 522.5M121.3 527.9L130.1 532.8M122.8 538.2L130.1 532.8M122.8 538.2L131.6 543.1M124.3 548.5L131.6 543.1M130.1 532.8L146.1 532.3M131.6 543.1L147.6 542.6M146.1 532.3L154.8 537.2M147.6 542.6L154.8 537.2M32.5 525.5L27.6 522.7M25.3 530.9L17.3 531.1M26.8 541.2L18.8 541.4M35.5 546.1L31.5 549.1M53 555.9L39 556.3M77.8 560.3L82.7 563.1M101 554.4L106 557.2M79 513.7L74.1 510.9M128.6 522.5L143.6 522M146.1 532.3L149.7 529.6M147.6 542.6L152.5 545.4" fill="none" stroke="#2929a3" stroke-width="2.3" stroke-linecap="round" stroke-linejoin="round"/>
<text x="53" y="605" font-size="27.5" text-anchor="start" font-weight="normal" fill="#000" >GQD</text>
<path d="M174.3 308 L174.4 309.4 L174.4 311.3 L174.3 313.5 L174.3 316 L174.3 318.7 L174.4 321.5 L174.5 324.4 L174.8 327.2 L175.1 329.9 L175.7 332.3 L176.3 334.7 L177 337 L177.9 339.3 L178.8 341.6 L179.8 343.8 L180.9 346 L182.1 348.3 L183.5 350.5 L185 352.6 L186.5 354.8 L188.2 356.9 L190 359.1 L192 361.3 L194 363.4 L196.1 365.5 L198.4 367.6 L200.8 369.6 L203.3 371.6 L205.9 373.4 L208.6 375.2 L211.4 376.9 L214.4 378.5 L217.5 380.1 L220.7 381.5 L224 382.9 L227.4 384.3 L230.9 385.6 L234.4 386.8 L238.1 388 L241.8 389.2 L245.9 390.3 L250.4 391.5 L255.1 392.5 L260 393.6 L264.9 394.6 L269.6 395.5 L274 396.3 L277.9 397 L281.2 397.7 L283.7 398.2 L284.7 392.7 L282.2 392.2 L278.8 391.7 L274.9 391.2 L270.5 390.5 L265.8 389.8 L260.9 389 L256 388.1 L251.3 387.3 L246.9 386.3 L242.9 385.3 L239.2 384.3 L235.6 383.3 L232 382.2 L228.6 381 L225.2 379.8 L221.9 378.6 L218.8 377.3 L215.7 375.9 L212.8 374.4 L210 372.9 L207.3 371.2 L204.8 369.5 L202.3 367.7 L199.9 365.8 L197.7 363.8 L195.5 361.9 L193.5 359.8 L191.5 357.8 L189.7 355.7 L188 353.6 L186.4 351.6 L184.9 349.5 L183.6 347.4 L182.3 345.3 L181.2 343.1 L180.1 341 L179.2 338.8 L178.3 336.5 L177.5 334.3 L176.8 332 L176.3 329.6 L175.9 327 L175.6 324.3 L175.4 321.5 L175.3 318.7 L175.2 316 L175.2 313.5 L175.2 311.3 L175.2 309.4 L175.1 307.9Z" fill="#1c1a1a"/>
<polygon points="279.5,384.5 313,395.7 279.5,405.5" fill="#1c1a1a"/>
<path d="M162.3 537.1 L162.4 535.4 L162.5 533.2 L162.6 530.6 L162.7 527.7 L162.9 524.6 L163.1 521.3 L163.4 518 L163.7 514.7 L164.2 511.5 L164.7 508.6 L165.4 505.7 L166.1 502.8 L166.9 500 L167.8 497.1 L168.7 494.2 L169.7 491.4 L170.9 488.5 L172.1 485.7 L173.4 483 L174.9 480.2 L176.4 477.5 L178.1 474.7 L179.8 472 L181.6 469.2 L183.6 466.6 L185.6 463.9 L187.7 461.4 L190 458.9 L192.3 456.6 L194.8 454.4 L197.4 452.3 L200.2 450.3 L203.2 448.3 L206.3 446.5 L209.5 444.7 L212.8 443 L216 441.5 L219.2 440 L222.4 438.7 L225.4 437.5 L228.3 436.4 L231.1 435.5 L233.9 434.7 L236.7 434.1 L239.5 433.5 L242.2 433.1 L245 432.6 L247.9 432.2 L250.8 431.8 L253.7 431.4 L256.8 431 L260.1 430.7 L263.7 430.3 L267.2 430.1 L270.8 429.8 L274.2 429.6 L277.3 429.5 L280.2 429.3 L282.6 429.2 L284.4 429.1 L284 423.5 L282.1 423.7 L279.8 423.9 L277 424.1 L273.8 424.4 L270.4 424.7 L266.8 425.1 L263.2 425.5 L259.6 425.9 L256.2 426.3 L253 426.9 L250.1 427.4 L247.2 427.8 L244.3 428.4 L241.5 428.9 L238.6 429.5 L235.8 430.1 L232.9 430.9 L230 431.8 L227 432.8 L224 434 L221 435.4 L217.8 436.8 L214.5 438.4 L211.3 440.1 L208 441.9 L204.7 443.8 L201.6 445.8 L198.5 447.9 L195.7 450.1 L193 452.3 L190.5 454.7 L188.1 457.2 L185.9 459.8 L183.8 462.5 L181.7 465.2 L179.8 468 L178 470.9 L176.3 473.7 L174.7 476.5 L173.2 479.4 L171.8 482.2 L170.5 485 L169.3 487.9 L168.3 490.8 L167.3 493.7 L166.4 496.7 L165.6 499.6 L164.8 502.5 L164.1 505.4 L163.5 508.3 L163 511.3 L162.6 514.6 L162.3 517.9 L162.1 521.2 L161.9 524.5 L161.8 527.7 L161.8 530.6 L161.7 533.2 L161.6 535.4 L161.5 537.1Z" fill="#1c1a1a"/>
<polygon points="279.5,415.5 308.5,425.8 279.5,438.5" fill="#1c1a1a"/>
<g transform="translate(353,330.5) scale(1.0)">
<clipPath id="tc353"><path d="M5.5 9.5 L5.5 88 C6.5 118 17 143.5 29.75 143.5 C42.5 143.5 53 118 54 88 L54 9.5 Z"/></clipPath>
<path d="M5.5 9.5 L5.5 88 C6.5 118 17 143.5 29.75 143.5 C42.5 143.5 53 118 54 88 L54 9.5 Z" fill="#ececee"/>
<rect x="0" y="72.2" width="60" height="150" fill="#d7df23" clip-path="url(#tc353)"/>

<path d="M5.5 9.5 L5.5 88 C6.5 118 17 143.5 29.75 143.5 C42.5 143.5 53 118 54 88 L54 9.5 Z" fill="none" stroke="#1c1a1a" stroke-width="3.1"/>
<line x1="5.5" y1="27.1" x2="27.8" y2="27.1" stroke="#1c1a1a" stroke-width="2.9"/>
<line x1="5.5" y1="49.6" x2="27.8" y2="49.6" stroke="#1c1a1a" stroke-width="2.9"/>
<line x1="5.5" y1="71.2" x2="27.8" y2="71.2" stroke="#1c1a1a" stroke-width="2.9"/>
<line x1="5.5" y1="92.9" x2="27.8" y2="92.9" stroke="#1c1a1a" stroke-width="2.9"/>
<polyline points="59,5 72.3,5.6 85.3,-4.8" fill="none" stroke="#1c1a1a" stroke-width="6.8" stroke-linejoin="miter"/>
<polyline points="59,5 71.6,5.5 84.6,-4.6" fill="none" stroke="#fff" stroke-width="1.8" stroke-linejoin="miter"/>
<rect x="1.4" y="1.4" width="57.6" height="7.4" fill="#f6f6f6" stroke="#1c1a1a" stroke-width="3"/>
<polygon points="108.7,-45.4 90.4,-58.5 67.8,-27 86.1,-13.8" fill="#ececee" stroke="#1c1a1a" stroke-width="2.9" stroke-linejoin="miter"/>
<polygon points="114.2,-53 119.5,-49.2 87.1,-3.8 81.7,-7.6" fill="#fff" stroke="#1c1a1a" stroke-width="2.7" stroke-linejoin="miter"/>
</g>
<text x="320.5" y="501.2" font-size="27.6" text-anchor="start" font-weight="normal" fill="#000" >Incubation</text>
<polygon points="458,401.2 553,401.2 544.5,396.9 629,404.3 544.5,411.7 553,407.4 458,407.4" fill="#1c1a1a"/>
<text x="465.5" y="445" font-size="28" text-anchor="start" font-weight="normal" fill="#000" >Centrifuge</text>
<g transform="translate(644.4,332.2) scale(1.052)">
<clipPath id="tc644"><path d="M5.5 9.5 L5.5 88 C6.5 118 17 143.5 29.75 143.5 C42.5 143.5 53 118 54 88 L54 9.5 Z"/></clipPath>
<path d="M5.5 9.5 L5.5 88 C6.5 118 17 143.5 29.75 143.5 C42.5 143.5 53 118 54 88 L54 9.5 Z" fill="#ececee"/>
<rect x="0" y="70.8" width="60" height="150" fill="#f4ef98" clip-path="url(#tc644)"/>
<rect x="0" y="126.3" width="60" height="150" fill="#6f6a1e" clip-path="url(#tc644)"/>

<path d="M5.5 9.5 L5.5 88 C6.5 118 17 143.5 29.75 143.5 C42.5 143.5 53 118 54 88 L54 9.5 Z" fill="none" stroke="#1c1a1a" stroke-width="3.1"/>
<line x1="5.5" y1="27.1" x2="27.8" y2="27.1" stroke="#1c1a1a" stroke-width="2.9"/>
<line x1="5.5" y1="49.6" x2="27.8" y2="49.6" stroke="#1c1a1a" stroke-width="2.9"/>
<line x1="5.5" y1="71.2" x2="27.8" y2="71.2" stroke="#1c1a1a" stroke-width="2.9"/>
<line x1="5.5" y1="92.9" x2="27.8" y2="92.9" stroke="#1c1a1a" stroke-width="2.9"/>
<polyline points="59,5 72.3,5.6 85.3,-4.8" fill="none" stroke="#1c1a1a" stroke-width="6.8" stroke-linejoin="miter"/>
<polyline points="59,5 71.6,5.5 84.6,-4.6" fill="none" stroke="#fff" stroke-width="1.8" stroke-linejoin="miter"/>
<rect x="1.4" y="1.4" width="57.6" height="7.4" fill="#f6f6f6" stroke="#1c1a1a" stroke-width="3"/>
<polygon points="108.7,-45.4 90.4,-58.5 67.8,-27 86.1,-13.8" fill="#ececee" stroke="#1c1a1a" stroke-width="2.9" stroke-linejoin="miter"/>
<polygon points="114.2,-53 119.5,-49.2 87.1,-3.8 81.7,-7.6" fill="#fff" stroke="#1c1a1a" stroke-width="2.7" stroke-linejoin="miter"/>
</g>
<polygon points="749.4,404.2 922,404.2 911.5,400 1069.7,408.2 911.5,416.4 922,412.2 749.4,412.2" fill="#1c1a1a"/>
<path d="M777.9 395.2 L778.6 395.6 L779.4 396 L780.5 396.6 L781.6 397.2 L782.9 397.8 L784.2 398.5 L785.6 399.2 L787 399.8 L788.5 400.4 L789.9 400.9 L791.3 401.4 L792.7 401.9 L794.2 402.3 L795.7 402.8 L797.3 403.2 L798.9 403.6 L800.5 404 L802.3 404.3 L804.1 404.6 L805.9 405 L807.9 405.2 L810 405.5 L812.1 405.8 L814.4 406 L816.6 406.2 L818.9 406.4 L821.2 406.5 L823.5 406.7 L825.8 406.8 L828 406.9 L830.1 407 L832.2 407 L834.4 407.1 L836.5 407.1 L838.5 407.1 L840.6 407.1 L842.7 407.1 L844.8 407 L847 407 L849.1 406.8 L851.2 406.7 L853.4 406.6 L855.6 406.5 L857.7 406.3 L859.9 406.1 L862.1 405.9 L864.3 405.6 L866.6 405.3 L868.8 404.9 L871 404.4 L873.2 403.9 L875.4 403.3 L877.6 402.7 L879.8 402 L882 401.3 L884.3 400.5 L886.5 399.6 L888.7 398.7 L890.9 397.7 L893.2 396.7 L895.4 395.5 L897.7 394.3 L900 393 L902.3 391.6 L904.6 390.2 L906.9 388.7 L909.1 387.2 L911.3 385.8 L913.5 384.3 L915.5 382.8 L917.5 381.4 L919.4 379.9 L921.3 378.5 L923.1 377 L924.9 375.5 L926.7 374 L928.4 372.5 L930.1 370.9 L931.8 369.3 L933.5 367.7 L935.2 366 L936.9 364.3 L938.5 362.5 L940.2 360.7 L941.8 358.9 L943.3 357.1 L944.9 355.3 L946.3 353.7 L947.7 352.1 L949.1 350.7 L950.4 349.3 L951.7 347.9 L953.1 346.6 L954.4 345.3 L955.7 344 L956.9 342.8 L958 341.8 L958.9 340.8 L959.8 340 L960.4 339.4 L954.6 333.6 L953.9 334.3 L953.1 335.2 L952.2 336.2 L951.2 337.3 L950 338.5 L948.8 339.9 L947.5 341.3 L946.2 342.7 L944.9 344.2 L943.5 345.7 L942.2 347.3 L940.8 349 L939.4 350.8 L938 352.6 L936.5 354.4 L935 356.3 L933.5 358.1 L932 359.9 L930.5 361.6 L928.9 363.3 L927.4 364.9 L925.8 366.5 L924.2 368 L922.6 369.6 L921 371.1 L919.4 372.6 L917.7 374.1 L915.9 375.6 L914.2 377.1 L912.3 378.6 L910.4 380.1 L908.3 381.6 L906.3 383.2 L904.2 384.7 L902 386.2 L899.8 387.7 L897.7 389.1 L895.5 390.5 L893.3 391.7 L891.2 392.9 L889.1 394 L887 395 L885 396 L882.9 396.9 L880.8 397.7 L878.6 398.5 L876.5 399.3 L874.4 400 L872.3 400.6 L870.2 401.2 L868.1 401.7 L866 402.2 L863.9 402.6 L861.7 402.9 L859.6 403.2 L857.5 403.5 L855.3 403.7 L853.2 404 L851 404.2 L848.9 404.4 L846.8 404.5 L844.7 404.7 L842.6 404.8 L840.6 404.9 L838.5 405 L836.4 405.1 L834.4 405.1 L832.3 405.1 L830.2 405.1 L828 405.1 L825.8 405.1 L823.6 405 L821.3 405 L819 404.9 L816.7 404.7 L814.5 404.6 L812.2 404.5 L810.1 404.3 L808 404.1 L806.1 403.8 L804.2 403.6 L802.4 403.3 L800.7 403 L799.1 402.7 L797.5 402.3 L795.9 401.9 L794.4 401.5 L793 401.1 L791.5 400.7 L790.1 400.3 L788.7 399.8 L787.3 399.2 L785.9 398.6 L784.5 398 L783.1 397.3 L781.9 396.7 L780.7 396.1 L779.7 395.6 L778.8 395.1 L778.1 394.8Z" fill="#1c1a1a"/>
<polygon points="944.3,334.3 978.8,315.8 968.5,349.5" fill="#1c1a1a"/>
<ellipse cx="749.5" cy="103" rx="112.3" ry="90.3" fill="#f8f4c6" stroke="#1c1a1a" stroke-width="1.7"/>
<ellipse cx="867.6" cy="573.2" rx="112.5" ry="89.6" fill="#f5ec94" stroke="#1c1a1a" stroke-width="1.7"/>
<g transform="translate(959.3,168) scale(1.03)">
<clipPath id="tc959"><path d="M5.5 9.5 L5.5 88 C6.5 118 17 143.5 29.75 143.5 C42.5 143.5 53 118 54 88 L54 9.5 Z"/></clipPath>
<path d="M5.5 9.5 L5.5 88 C6.5 118 17 143.5 29.75 143.5 C42.5 143.5 53 118 54 88 L54 9.5 Z" fill="#ececee"/>
<rect x="0" y="90.3" width="60" height="150" fill="#f4ef98" clip-path="url(#tc959)"/>
<ellipse cx="26.7" cy="115.6" rx="12.2" ry="9.3" fill="none" stroke="#1c1a1a" stroke-width="1.5"/>
<path d="M5.5 9.5 L5.5 88 C6.5 118 17 143.5 29.75 143.5 C42.5 143.5 53 118 54 88 L54 9.5 Z" fill="none" stroke="#1c1a1a" stroke-width="3.1"/>
<line x1="5.5" y1="27.1" x2="27.8" y2="27.1" stroke="#1c1a1a" stroke-width="2.9"/>
<line x1="5.5" y1="49.6" x2="27.8" y2="49.6" stroke="#1c1a1a" stroke-width="2.9"/>
<line x1="5.5" y1="71.2" x2="27.8" y2="71.2" stroke="#1c1a1a" stroke-width="2.9"/>
<line x1="5.5" y1="92.9" x2="27.8" y2="92.9" stroke="#1c1a1a" stroke-width="2.9"/>
<polyline points="59,5 72.3,5.6 85.3,-4.8" fill="none" stroke="#1c1a1a" stroke-width="6.8" stroke-linejoin="miter"/>
<polyline points="59,5 71.6,5.5 84.6,-4.6" fill="none" stroke="#fff" stroke-width="1.8" stroke-linejoin="miter"/>
<rect x="1.4" y="1.4" width="57.6" height="7.4" fill="#f6f6f6" stroke="#1c1a1a" stroke-width="3"/>
<polygon points="108.7,-45.4 90.4,-58.5 67.8,-27 86.1,-13.8" fill="#ececee" stroke="#1c1a1a" stroke-width="2.9" stroke-linejoin="miter"/>
<polygon points="114.2,-53 119.5,-49.2 87.1,-3.8 81.7,-7.6" fill="#fff" stroke="#1c1a1a" stroke-width="2.7" stroke-linejoin="miter"/>
</g>
<text x="1023.5" y="279.3" font-size="28" text-anchor="start" font-weight="normal" fill="#000" >supernatant</text>
<g transform="translate(1122.9,317.3) scale(1.01)">
<clipPath id="tc1122"><path d="M5.5 9.5 L5.5 88 C6.5 118 17 143.5 29.75 143.5 C42.5 143.5 53 118 54 88 L54 9.5 Z"/></clipPath>
<path d="M5.5 9.5 L5.5 88 C6.5 118 17 143.5 29.75 143.5 C42.5 143.5 53 118 54 88 L54 9.5 Z" fill="#ececee"/>
<rect x="0" y="117.4" width="60" height="150" fill="#6f6a1e" clip-path="url(#tc1122)"/>
<circle cx="23.2" cy="125" r="4.4" fill="none" stroke="#1c1a1a" stroke-width="1.3"/>
<path d="M5.5 9.5 L5.5 88 C6.5 118 17 143.5 29.75 143.5 C42.5 143.5 53 118 54 88 L54 9.5 Z" fill="none" stroke="#1c1a1a" stroke-width="3.1"/>
<line x1="5.5" y1="27.1" x2="27.8" y2="27.1" stroke="#1c1a1a" stroke-width="2.9"/>
<line x1="5.5" y1="49.6" x2="27.8" y2="49.6" stroke="#1c1a1a" stroke-width="2.9"/>
<line x1="5.5" y1="71.2" x2="27.8" y2="71.2" stroke="#1c1a1a" stroke-width="2.9"/>
<line x1="5.5" y1="92.9" x2="27.8" y2="92.9" stroke="#1c1a1a" stroke-width="2.9"/>
<polyline points="59,5 72.3,5.6 85.3,-4.8" fill="none" stroke="#1c1a1a" stroke-width="6.8" stroke-linejoin="miter"/>
<polyline points="59,5 71.6,5.5 84.6,-4.6" fill="none" stroke="#fff" stroke-width="1.8" stroke-linejoin="miter"/>
<rect x="1.4" y="1.4" width="57.6" height="7.4" fill="#f6f6f6" stroke="#1c1a1a" stroke-width="3"/>
<polygon points="108.7,-45.4 90.4,-58.5 67.8,-27 86.1,-13.8" fill="#ececee" stroke="#1c1a1a" stroke-width="2.9" stroke-linejoin="miter"/>
<polygon points="114.2,-53 119.5,-49.2 87.1,-3.8 81.7,-7.6" fill="#fff" stroke="#1c1a1a" stroke-width="2.7" stroke-linejoin="miter"/>
</g>
<text x="1130.5" y="489.3" font-size="28" text-anchor="start" font-weight="normal" fill="#000" >Pellet</text>
<line x1="848.5" y1="56" x2="981" y2="277" stroke="#1c1a1a" stroke-width="1.4" />
<line x1="717" y1="190.5" x2="974.5" y2="285.7" stroke="#1c1a1a" stroke-width="1.4" />
<line x1="842.4" y1="484" x2="1141.5" y2="443.3" stroke="#1c1a1a" stroke-width="1.4" />
<line x1="976.6" y1="606" x2="1147" y2="450" stroke="#1c1a1a" stroke-width="1.4" />
<polygon points="1219,402.2 1276,402.2 1268.8,397.4 1318.6,404.8 1268.8,412.2 1276,407.4 1219,407.4" fill="#1c1a1a"/>
<text x="1016" y="60.7" font-size="28" text-anchor="middle" font-weight="normal" fill="#000" >Non-conjugated GQDs</text>
<text x="1020" y="94.5" font-size="28" text-anchor="middle" font-weight="normal" fill="#000" >and S - TRAILs</text>
<text x="757" y="699.2" font-size="28" text-anchor="start" font-weight="normal" fill="#000" >S - TRAIL / GQDs</text>
<path d="M732.4 35a3.4 2.8 0 1 0 6.8 0a3.4 2.8 0 1 0 -6.8 0M757.1 39.4a3.8 3.1 0 1 0 7.6 0a3.8 3.1 0 1 0 -7.6 0M747.2 67.1a3.4 3.4 0 1 0 6.9 0a3.4 3.4 0 1 0 -6.9 0M750.7 32.1a3.7 3.3 0 1 0 7.4 0a3.7 3.3 0 1 0 -7.4 0M736.6 37.7a3.6 3.3 0 1 0 7.3 0a3.6 3.3 0 1 0 -7.3 0M760 52.6a3.5 3.1 0 1 0 6.9 0a3.5 3.1 0 1 0 -6.9 0M736.5 61.1a3.8 3.5 0 1 0 7.6 0a3.8 3.5 0 1 0 -7.6 0M730.8 62.9a3.4 2.7 0 1 0 6.8 0a3.4 2.7 0 1 0 -6.8 0M728.3 51.3a2.6 2.6 0 1 0 5.2 0a2.6 2.6 0 1 0 -5.2 0M744.1 50.7a3.1 2.8 0 1 0 6.2 0a3.1 2.8 0 1 0 -6.2 0M739.6 53.3a2.9 2.6 0 1 0 5.9 0a2.9 2.6 0 1 0 -5.9 0M750.5 51.1a2.7 2.7 0 1 0 5.3 0a2.7 2.7 0 1 0 -5.3 0M738.8 47.3a3.1 3 0 1 0 6.2 0a3.1 3 0 1 0 -6.2 0M739.8 34a3.7 2.9 0 1 0 7.4 0a3.7 2.9 0 1 0 -7.4 0M745.7 44a3 2.5 0 1 0 6 0a3 2.5 0 1 0 -6 0M744.9 61.7a3.4 2.7 0 1 0 6.8 0a3.4 2.7 0 1 0 -6.8 0M740.1 63a3.7 3.2 0 1 0 7.5 0a3.7 3.2 0 1 0 -7.5 0M756.1 49.9a3.2 2.9 0 1 0 6.5 0a3.2 2.9 0 1 0 -6.5 0M753.8 62.7a3.3 3.3 0 1 0 6.7 0a3.3 3.3 0 1 0 -6.7 0M732.2 57.6a3.1 2.5 0 1 0 6.2 0a3.1 2.5 0 1 0 -6.2 0M733.2 40.3a3.7 2.9 0 1 0 7.3 0a3.7 2.9 0 1 0 -7.3 0M742.9 38.4a3 2.8 0 1 0 6 0a3 2.8 0 1 0 -6 0M726.9 45.2a3.6 2.8 0 1 0 7.3 0a3.6 2.8 0 1 0 -7.3 0M733.4 49.6a3 2.9 0 1 0 6.1 0a3 2.9 0 1 0 -6.1 0M735.3 32.8a3.4 2.7 0 1 0 6.8 0a3.4 2.7 0 1 0 -6.8 0M758.2 55.8a2.6 2.3 0 1 0 5.3 0a2.6 2.3 0 1 0 -5.3 0M747.5 31.9a3.2 2.4 0 1 0 6.4 0a3.2 2.4 0 1 0 -6.4 0M752.9 45.5a3.4 2.7 0 1 0 6.8 0a3.4 2.7 0 1 0 -6.8 0M758.2 46.5a3.4 3.1 0 1 0 6.7 0a3.4 3.1 0 1 0 -6.7 0M737.3 68.6a3.8 3.5 0 1 0 7.5 0a3.8 3.5 0 1 0 -7.5 0M749.5 42.9a2.9 2.4 0 1 0 5.8 0a2.9 2.4 0 1 0 -5.8 0M742.3 43.4a2.8 2.4 0 1 0 5.6 0a2.8 2.4 0 1 0 -5.6 0M754.9 42.3a3.3 3.2 0 1 0 6.5 0a3.3 3.2 0 1 0 -6.5 0M744.2 32.9a3 2.5 0 1 0 6 0a3 2.5 0 1 0 -6 0M727.3 57.4a3.6 3.3 0 1 0 7.2 0a3.6 3.3 0 1 0 -7.2 0M753.7 38.8a3.2 2.9 0 1 0 6.3 0a3.2 2.9 0 1 0 -6.3 0M735 64.6a3.6 2.9 0 1 0 7.1 0a3.6 2.9 0 1 0 -7.1 0M744.8 57.2a3.3 3 0 1 0 6.6 0a3.3 3 0 1 0 -6.6 0M746.8 39.2a3.1 2.4 0 1 0 6.2 0a3.1 2.4 0 1 0 -6.2 0M750.6 58.5a2.9 2.2 0 1 0 5.7 0a2.9 2.2 0 1 0 -5.7 0M741.7 59.2a2.9 2.7 0 1 0 5.7 0a2.9 2.7 0 1 0 -5.7 0M736.6 55.6a2.6 2.5 0 1 0 5.2 0a2.6 2.5 0 1 0 -5.2 0M758.6 59.4a2.6 2.5 0 1 0 5.1 0a2.6 2.5 0 1 0 -5.1 0M734.2 44.1a3.1 2.4 0 1 0 6.2 0a3.1 2.4 0 1 0 -6.2 0M730.7 41.9a2.9 2.7 0 1 0 5.7 0a2.9 2.7 0 1 0 -5.7 0M743.2 69.8a3.6 2.9 0 1 0 7.1 0a3.6 2.9 0 1 0 -7.1 0M747.4 53.7a3.1 2.6 0 1 0 6.1 0a3.1 2.6 0 1 0 -6.1 0M746.7 47.6a3.3 3.1 0 1 0 6.6 0a3.3 3.1 0 1 0 -6.6 0" fill="none" stroke="#239c9e" stroke-width="1.4"/><path d="M696 56.4a3.4 2.9 0 1 0 6.7 0a3.4 2.9 0 1 0 -6.7 0M698.3 60.7a3.6 3.2 0 1 0 7.2 0a3.6 3.2 0 1 0 -7.2 0M713.7 37.5a2.6 2.2 0 1 0 5.1 0a2.6 2.2 0 1 0 -5.1 0M716.7 30.6a3.6 2.9 0 1 0 7.2 0a3.6 2.9 0 1 0 -7.2 0M732 53.3a2.6 2.2 0 1 0 5.2 0a2.6 2.2 0 1 0 -5.2 0M712.1 32.5a3.8 3.2 0 1 0 7.6 0a3.8 3.2 0 1 0 -7.6 0M710.7 50.7a3 2.6 0 1 0 6 0a3 2.6 0 1 0 -6 0M730.6 37.5a3.6 2.9 0 1 0 7.1 0a3.6 2.9 0 1 0 -7.1 0M725.3 59.4a3.3 3.1 0 1 0 6.6 0a3.3 3.1 0 1 0 -6.6 0M693.7 47.5a3.6 2.9 0 1 0 7.2 0a3.6 2.9 0 1 0 -7.2 0M708.4 42.9a3.1 2.7 0 1 0 6.3 0a3.1 2.7 0 1 0 -6.3 0M715.7 58.8a2.8 2.6 0 1 0 5.7 0a2.8 2.6 0 1 0 -5.7 0M716 53.6a2.8 2.2 0 1 0 5.6 0a2.8 2.2 0 1 0 -5.6 0M705.5 66.3a3 2.7 0 1 0 6 0a3 2.7 0 1 0 -6 0M703.8 32a2.6 2.5 0 1 0 5.3 0a2.6 2.5 0 1 0 -5.3 0M726.3 43.3a3.4 3.2 0 1 0 6.9 0a3.4 3.2 0 1 0 -6.9 0M707.6 68.8a3.8 3.4 0 1 0 7.6 0a3.8 3.4 0 1 0 -7.6 0M732 48.1a3 2.5 0 1 0 6.1 0a3 2.5 0 1 0 -6.1 0M726 47.8a3.6 2.8 0 1 0 7.3 0a3.6 2.8 0 1 0 -7.3 0M700.9 39.8a3.1 2.5 0 1 0 6.2 0a3.1 2.5 0 1 0 -6.2 0M690.9 41.8a3.7 3.7 0 1 0 7.4 0a3.7 3.7 0 1 0 -7.4 0M729.1 60.8a3.7 3.3 0 1 0 7.4 0a3.7 3.3 0 1 0 -7.4 0M722.6 67.4a2.6 2.3 0 1 0 5.2 0a2.6 2.3 0 1 0 -5.2 0M719.8 63.1a3.3 2.7 0 1 0 6.6 0a3.3 2.7 0 1 0 -6.6 0M689.7 46.3a2.7 2.6 0 1 0 5.5 0a2.7 2.6 0 1 0 -5.5 0M720.5 33a3.2 2.7 0 1 0 6.5 0a3.2 2.7 0 1 0 -6.5 0M696.4 35.4a3 2.8 0 1 0 6.1 0a3 2.8 0 1 0 -6.1 0M700.8 56.7a3 2.3 0 1 0 5.9 0a3 2.3 0 1 0 -5.9 0M717.5 48.8a3.5 3.5 0 1 0 7 0a3.5 3.5 0 1 0 -7 0M736.7 42.5a3 3 0 1 0 5.9 0a3 3 0 1 0 -5.9 0M713.8 43.9a3.1 2.5 0 1 0 6.1 0a3.1 2.5 0 1 0 -6.1 0M706.9 48a3.4 3.3 0 1 0 6.7 0a3.4 3.3 0 1 0 -6.7 0M718.9 59.3a3.4 3.3 0 1 0 6.8 0a3.4 3.3 0 1 0 -6.8 0M723 56.1a2.9 2.8 0 1 0 5.7 0a2.9 2.8 0 1 0 -5.7 0M706.7 53.3a3.6 3.6 0 1 0 7.2 0a3.6 3.6 0 1 0 -7.2 0M707.3 33.7a3.3 2.5 0 1 0 6.5 0a3.3 2.5 0 1 0 -6.5 0M723.1 36.3a3 2.7 0 1 0 6 0a3 2.7 0 1 0 -6 0M698.2 52.6a2.9 2.5 0 1 0 5.8 0a2.9 2.5 0 1 0 -5.8 0M707.5 39a2.8 2.8 0 1 0 5.6 0a2.8 2.8 0 1 0 -5.6 0M735 57a2.6 2.3 0 1 0 5.2 0a2.6 2.3 0 1 0 -5.2 0M689.7 53a3.5 2.8 0 1 0 6.9 0a3.5 2.8 0 1 0 -6.9 0M710.7 64.9a3 2.4 0 1 0 6.1 0a3 2.4 0 1 0 -6.1 0M697.2 44.5a3.3 2.6 0 1 0 6.5 0a3.3 2.6 0 1 0 -6.5 0M702.3 53.8a3.7 2.8 0 1 0 7.4 0a3.7 2.8 0 1 0 -7.4 0M695.6 63.1a3.6 3.5 0 1 0 7.2 0a3.6 3.5 0 1 0 -7.2 0M726.5 65.3a3.2 3.2 0 1 0 6.5 0a3.2 3.2 0 1 0 -6.5 0M732.3 42.8a2.7 2.3 0 1 0 5.3 0a2.7 2.3 0 1 0 -5.3 0M697.9 32.2a3.7 3.3 0 1 0 7.5 0a3.7 3.3 0 1 0 -7.5 0M720.9 51.9a3.3 3.3 0 1 0 6.6 0a3.3 3.3 0 1 0 -6.6 0M706.4 62.1a3.2 2.8 0 1 0 6.4 0a3.2 2.8 0 1 0 -6.4 0M722.2 40a2.8 2.3 0 1 0 5.7 0a2.8 2.3 0 1 0 -5.7 0M723 44.9a2.7 2.6 0 1 0 5.4 0a2.7 2.6 0 1 0 -5.4 0M704.6 41.4a2.8 2.2 0 1 0 5.7 0a2.8 2.2 0 1 0 -5.7 0M716.2 35.3a3.7 2.9 0 1 0 7.5 0a3.7 2.9 0 1 0 -7.5 0M695.9 40.5a2.7 2.5 0 1 0 5.4 0a2.7 2.5 0 1 0 -5.4 0M708.9 56.4a3.4 2.9 0 1 0 6.7 0a3.4 2.9 0 1 0 -6.7 0M698.1 48.3a2.9 2.5 0 1 0 5.9 0a2.9 2.5 0 1 0 -5.9 0M729.7 33.8a3.4 3.2 0 1 0 6.9 0a3.4 3.2 0 1 0 -6.9 0M736.3 48.5a3.5 3 0 1 0 6.9 0a3.5 3 0 1 0 -6.9 0M702.4 46.3a3.5 3 0 1 0 6.9 0a3.5 3 0 1 0 -6.9 0" fill="none" stroke="#a44a72" stroke-width="1.4"/>
<path d="M806.8 71.8a3.2 3 0 1 0 6.4 0a3.2 3 0 1 0 -6.4 0M799.1 56.4a3.6 3.2 0 1 0 7.3 0a3.6 3.2 0 1 0 -7.3 0M823.5 41.2a2.6 2.4 0 1 0 5.1 0a2.6 2.4 0 1 0 -5.1 0M825.4 69.3a3.8 3 0 1 0 7.6 0a3.8 3 0 1 0 -7.6 0M808.8 42.7a3 2.9 0 1 0 5.9 0a3 2.9 0 1 0 -5.9 0M801.7 68.4a3.5 3.1 0 1 0 7 0a3.5 3.1 0 1 0 -7 0M816.4 66.7a3.3 2.7 0 1 0 6.6 0a3.3 2.7 0 1 0 -6.6 0M810.4 75.3a3.1 2.4 0 1 0 6.2 0a3.1 2.4 0 1 0 -6.2 0M813 68.4a3.1 2.9 0 1 0 6.3 0a3.1 2.9 0 1 0 -6.3 0M819.8 38.1a2.9 2.5 0 1 0 5.9 0a2.9 2.5 0 1 0 -5.9 0M820.5 73.9a3.2 3.2 0 1 0 6.4 0a3.2 3.2 0 1 0 -6.4 0M826.7 60.7a3.2 2.8 0 1 0 6.5 0a3.2 2.8 0 1 0 -6.5 0M803.7 51.1a3.5 2.8 0 1 0 7 0a3.5 2.8 0 1 0 -7 0M826.1 56.4a3.3 3.2 0 1 0 6.7 0a3.3 3.2 0 1 0 -6.7 0M819.3 41.7a2.9 2.2 0 1 0 5.8 0a2.9 2.2 0 1 0 -5.8 0M823.2 48.7a3.8 3.7 0 1 0 7.6 0a3.8 3.7 0 1 0 -7.6 0M812.5 39.5a3 2.3 0 1 0 5.9 0a3 2.3 0 1 0 -5.9 0M816.3 55.3a3.7 3.1 0 1 0 7.4 0a3.7 3.1 0 1 0 -7.4 0M821.3 62.9a3.5 3 0 1 0 7.1 0a3.5 3 0 1 0 -7.1 0M799.5 48.8a3.8 3.8 0 1 0 7.6 0a3.8 3.8 0 1 0 -7.6 0M812.7 72a2.6 2.5 0 1 0 5.1 0a2.6 2.5 0 1 0 -5.1 0M805.5 57.9a2.7 2.1 0 1 0 5.5 0a2.7 2.1 0 1 0 -5.5 0M807.3 64.5a3.2 2.6 0 1 0 6.4 0a3.2 2.6 0 1 0 -6.4 0M831.2 60.8a3 2.3 0 1 0 6.1 0a3 2.3 0 1 0 -6.1 0M809.2 54.9a3.4 3 0 1 0 6.7 0a3.4 3 0 1 0 -6.7 0M803.9 44a2.7 2.3 0 1 0 5.3 0a2.7 2.3 0 1 0 -5.3 0M813.4 57.4a2.7 2.4 0 1 0 5.4 0a2.7 2.4 0 1 0 -5.4 0M823.3 53.8a2.9 2.8 0 1 0 5.8 0a2.9 2.8 0 1 0 -5.8 0M826.1 64.7a3.7 3.1 0 1 0 7.4 0a3.7 3.1 0 1 0 -7.4 0M817.3 62.6a3.3 2.5 0 1 0 6.6 0a3.3 2.5 0 1 0 -6.6 0M816 47.1a2.7 2.4 0 1 0 5.3 0a2.7 2.4 0 1 0 -5.3 0M818.1 50a3.1 2.8 0 1 0 6.2 0a3.1 2.8 0 1 0 -6.2 0M801.6 61a3.8 2.9 0 1 0 7.5 0a3.8 2.9 0 1 0 -7.5 0M816.3 73.5a2.7 2.6 0 1 0 5.4 0a2.7 2.6 0 1 0 -5.4 0M803.4 54.6a2.8 2.3 0 1 0 5.7 0a2.8 2.3 0 1 0 -5.7 0M822.2 45.5a3.3 2.5 0 1 0 6.6 0a3.3 2.5 0 1 0 -6.6 0M797.7 62.5a3.8 3.5 0 1 0 7.6 0a3.8 3.5 0 1 0 -7.6 0M813.6 64a2.9 2.4 0 1 0 5.8 0a2.9 2.4 0 1 0 -5.8 0M811.8 49.2a2.8 2.4 0 1 0 5.6 0a2.8 2.4 0 1 0 -5.6 0M814.5 43.1a2.8 2.6 0 1 0 5.7 0a2.8 2.6 0 1 0 -5.7 0M821.1 58.3a2.8 2.4 0 1 0 5.6 0a2.8 2.4 0 1 0 -5.6 0M808.2 38.6a2.9 2.6 0 1 0 5.8 0a2.9 2.6 0 1 0 -5.8 0M829.7 54.3a3.5 3.2 0 1 0 7.1 0a3.5 3.2 0 1 0 -7.1 0M797.4 53.1a3.1 2.8 0 1 0 6.2 0a3.1 2.8 0 1 0 -6.2 0M810.3 60.5a2.8 2.7 0 1 0 5.6 0a2.8 2.7 0 1 0 -5.6 0M814.6 36.7a3.1 2.3 0 1 0 6.2 0a3.1 2.3 0 1 0 -6.2 0M827.7 48.4a3.2 3.2 0 1 0 6.4 0a3.2 3.2 0 1 0 -6.4 0M809.2 69.1a3.4 3.2 0 1 0 6.7 0a3.4 3.2 0 1 0 -6.7 0" fill="none" stroke="#239c9e" stroke-width="1.4"/><path d="M781.8 61.6a2.7 2.1 0 1 0 5.5 0a2.7 2.1 0 1 0 -5.5 0M775.1 64.7a2.7 2.6 0 1 0 5.5 0a2.7 2.6 0 1 0 -5.5 0M792.5 38.9a3.2 2.8 0 1 0 6.5 0a3.2 2.8 0 1 0 -6.5 0M804.5 50a2.8 2.3 0 1 0 5.6 0a2.8 2.3 0 1 0 -5.6 0M780.6 72.9a2.8 2.3 0 1 0 5.7 0a2.8 2.3 0 1 0 -5.7 0M788.8 56a3.8 3.6 0 1 0 7.6 0a3.8 3.6 0 1 0 -7.6 0M779.4 41.7a3.6 3.6 0 1 0 7.3 0a3.6 3.6 0 1 0 -7.3 0M801.5 60.3a2.8 2.7 0 1 0 5.7 0a2.8 2.7 0 1 0 -5.7 0M795.2 41.3a3.4 2.7 0 1 0 6.8 0a3.4 2.7 0 1 0 -6.8 0M766.9 47.2a3 2.5 0 1 0 6 0a3 2.5 0 1 0 -6 0M791.3 68a3.8 3.8 0 1 0 7.6 0a3.8 3.8 0 1 0 -7.6 0M790.5 62.1a2.7 2.3 0 1 0 5.4 0a2.7 2.3 0 1 0 -5.4 0M784 66.5a3.1 3 0 1 0 6.3 0a3.1 3 0 1 0 -6.3 0M788.9 38.1a2.7 2.7 0 1 0 5.4 0a2.7 2.7 0 1 0 -5.4 0M770.2 41.3a3 2.8 0 1 0 6 0a3 2.8 0 1 0 -6 0M800.5 53a3.2 3 0 1 0 6.4 0a3.2 3 0 1 0 -6.4 0M776.4 48.7a3.3 3 0 1 0 6.7 0a3.3 3 0 1 0 -6.7 0M770.5 63.4a3.4 3.4 0 1 0 6.9 0a3.4 3.4 0 1 0 -6.9 0M767.5 58.7a2.8 2.3 0 1 0 5.6 0a2.8 2.3 0 1 0 -5.6 0M799.5 45.6a2.8 2.4 0 1 0 5.6 0a2.8 2.4 0 1 0 -5.6 0M793.4 55a3.7 3.1 0 1 0 7.3 0a3.7 3.1 0 1 0 -7.3 0M784.9 38.8a2.7 2.6 0 1 0 5.4 0a2.7 2.6 0 1 0 -5.4 0M772.4 68.7a2.7 2.3 0 1 0 5.4 0a2.7 2.3 0 1 0 -5.4 0M771.1 49a3 2.5 0 1 0 5.9 0a3 2.5 0 1 0 -5.9 0M796.2 67.6a2.6 2.4 0 1 0 5.2 0a2.6 2.4 0 1 0 -5.2 0M779.7 49.9a3.6 3.1 0 1 0 7.2 0a3.6 3.1 0 1 0 -7.2 0M780.9 65.3a2.6 2.1 0 1 0 5.3 0a2.6 2.1 0 1 0 -5.3 0M786.1 72.1a2.9 2.3 0 1 0 5.8 0a2.9 2.3 0 1 0 -5.8 0M766.7 53.3a2.9 2.6 0 1 0 5.9 0a2.9 2.6 0 1 0 -5.9 0M788.7 50a3.6 2.9 0 1 0 7.1 0a3.6 2.9 0 1 0 -7.1 0M788 46.5a2.7 2.4 0 1 0 5.4 0a2.7 2.4 0 1 0 -5.4 0M788.2 42.4a3.1 2.9 0 1 0 6.2 0a3.1 2.9 0 1 0 -6.2 0M792.8 46.7a3.8 3.6 0 1 0 7.6 0a3.8 3.6 0 1 0 -7.6 0M778.1 35.1a3.1 2.7 0 1 0 6.2 0a3.1 2.7 0 1 0 -6.2 0M783.3 53.2a3.2 2.9 0 1 0 6.3 0a3.2 2.9 0 1 0 -6.3 0M798.4 63.8a3.7 3.5 0 1 0 7.5 0a3.7 3.5 0 1 0 -7.5 0M788.2 65.8a3.1 2.5 0 1 0 6.3 0a3.1 2.5 0 1 0 -6.3 0M782.8 46.2a2.9 2.5 0 1 0 5.8 0a2.9 2.5 0 1 0 -5.8 0M776.2 70.9a2.8 2.6 0 1 0 5.6 0a2.8 2.6 0 1 0 -5.6 0M794 58.6a3.6 3.5 0 1 0 7.3 0a3.6 3.5 0 1 0 -7.3 0M786.2 60.8a2.8 2.2 0 1 0 5.6 0a2.8 2.2 0 1 0 -5.6 0M800.4 39.9a3.5 3.2 0 1 0 6.9 0a3.5 3.2 0 1 0 -6.9 0M777.9 67.4a2.6 2.2 0 1 0 5.3 0a2.6 2.2 0 1 0 -5.3 0M790.4 71.6a3 2.6 0 1 0 6 0a3 2.6 0 1 0 -6 0M803.9 56.8a2.8 2.5 0 1 0 5.5 0a2.8 2.5 0 1 0 -5.5 0M771.8 52.7a3 2.4 0 1 0 6.1 0a3 2.4 0 1 0 -6.1 0M803.6 44.9a3.8 3.1 0 1 0 7.6 0a3.8 3.1 0 1 0 -7.6 0M796.1 49.1a3.7 2.8 0 1 0 7.3 0a3.7 2.8 0 1 0 -7.3 0M770.4 56.4a2.7 2.1 0 1 0 5.3 0a2.7 2.1 0 1 0 -5.3 0M775.1 53.9a3.5 2.8 0 1 0 7 0a3.5 2.8 0 1 0 -7 0M780.2 57.6a2.8 2.7 0 1 0 5.6 0a2.8 2.7 0 1 0 -5.6 0M775.2 39.1a3.6 3.5 0 1 0 7.2 0a3.6 3.5 0 1 0 -7.2 0M798.3 56.4a3.5 3.4 0 1 0 7 0a3.5 3.4 0 1 0 -7 0M773.9 45.1a2.6 2.4 0 1 0 5.2 0a2.6 2.4 0 1 0 -5.2 0M795.8 62.6a2.9 2.4 0 1 0 5.7 0a2.9 2.4 0 1 0 -5.7 0M784.5 34.6a3 2.6 0 1 0 6 0a3 2.6 0 1 0 -6 0M806.6 53.3a2.7 2.1 0 1 0 5.4 0a2.7 2.1 0 1 0 -5.4 0M796.2 72.2a2.6 2.4 0 1 0 5.2 0a2.6 2.4 0 1 0 -5.2 0M775.4 60.4a2.8 2.2 0 1 0 5.6 0a2.8 2.2 0 1 0 -5.6 0M797 36.5a2.6 2.2 0 1 0 5.2 0a2.6 2.2 0 1 0 -5.2 0" fill="none" stroke="#a44a72" stroke-width="1.4"/>
<path d="M828.3 84.2a2.9 2.3 0 1 0 5.8 0a2.9 2.3 0 1 0 -5.8 0M831.2 110a3.7 2.9 0 1 0 7.4 0a3.7 2.9 0 1 0 -7.4 0M820.2 84.4a2.8 2.5 0 1 0 5.7 0a2.8 2.5 0 1 0 -5.7 0M828.8 104.8a2.8 2.6 0 1 0 5.7 0a2.8 2.6 0 1 0 -5.7 0M816.2 89.4a3.8 3.2 0 1 0 7.6 0a3.8 3.2 0 1 0 -7.6 0M835.5 107.1a3.6 3.4 0 1 0 7.2 0a3.6 3.4 0 1 0 -7.2 0M824.3 121.7a3 2.7 0 1 0 6.1 0a3 2.7 0 1 0 -6.1 0M813.1 94.7a2.7 2.2 0 1 0 5.3 0a2.7 2.2 0 1 0 -5.3 0M807.6 94.2a3.4 2.8 0 1 0 6.7 0a3.4 2.8 0 1 0 -6.7 0M813.8 120.3a3.4 3.1 0 1 0 6.8 0a3.4 3.1 0 1 0 -6.8 0M810.9 112.1a2.8 2.3 0 1 0 5.5 0a2.8 2.3 0 1 0 -5.5 0M824.5 110.3a3.6 3.4 0 1 0 7.3 0a3.6 3.4 0 1 0 -7.3 0M836.8 95.7a3.4 2.9 0 1 0 6.8 0a3.4 2.9 0 1 0 -6.8 0M838.7 101.4a2.9 2.4 0 1 0 5.8 0a2.9 2.4 0 1 0 -5.8 0M825 93.6a3.3 3.2 0 1 0 6.6 0a3.3 3.2 0 1 0 -6.6 0M842 103.4a2.7 2 0 1 0 5.4 0a2.7 2 0 1 0 -5.4 0M807.7 108a3.6 3.1 0 1 0 7.1 0a3.6 3.1 0 1 0 -7.1 0M805.8 98.3a3.8 3.4 0 1 0 7.7 0a3.8 3.4 0 1 0 -7.7 0M814.5 108.6a2.7 2.3 0 1 0 5.4 0a2.7 2.3 0 1 0 -5.4 0M822.3 90.3a3.7 3.6 0 1 0 7.5 0a3.7 3.6 0 1 0 -7.5 0M826.6 89.3a3.5 3.1 0 1 0 7.1 0a3.5 3.1 0 1 0 -7.1 0M833.9 104.2a2.6 2.1 0 1 0 5.1 0a2.6 2.1 0 1 0 -5.1 0M815.1 85.5a3.7 3.6 0 1 0 7.4 0a3.7 3.6 0 1 0 -7.4 0M807.8 102.4a2.6 2.5 0 1 0 5.3 0a2.6 2.5 0 1 0 -5.3 0M832.8 88.3a3.2 2.8 0 1 0 6.3 0a3.2 2.8 0 1 0 -6.3 0M821 103.7a2.7 2.2 0 1 0 5.4 0a2.7 2.2 0 1 0 -5.4 0M811.5 88.4a3.8 3.4 0 1 0 7.5 0a3.8 3.4 0 1 0 -7.5 0M821.4 114.3a3.6 2.9 0 1 0 7.2 0a3.6 2.9 0 1 0 -7.2 0M818.7 96.6a3.7 3 0 1 0 7.3 0a3.7 3 0 1 0 -7.3 0M811.3 101a3.1 2.5 0 1 0 6.2 0a3.1 2.5 0 1 0 -6.2 0M814 114.2a3.1 2.7 0 1 0 6.3 0a3.1 2.7 0 1 0 -6.3 0M829.5 95.1a3 2.8 0 1 0 5.9 0a3 2.8 0 1 0 -5.9 0M835.2 111.1a3.3 3.3 0 1 0 6.7 0a3.3 3.3 0 1 0 -6.7 0M829.4 120.4a2.7 2.1 0 1 0 5.5 0a2.7 2.1 0 1 0 -5.5 0M833.4 117.3a3.7 3 0 1 0 7.4 0a3.7 3 0 1 0 -7.4 0M819.7 107.8a2.8 2.7 0 1 0 5.5 0a2.8 2.7 0 1 0 -5.5 0M834.5 92.2a2.6 2.1 0 1 0 5.2 0a2.6 2.1 0 1 0 -5.2 0M815.7 117.4a3.8 3.1 0 1 0 7.6 0a3.8 3.1 0 1 0 -7.6 0M827.5 99a3.8 3.4 0 1 0 7.6 0a3.8 3.4 0 1 0 -7.6 0M815.8 99.4a3.1 2.5 0 1 0 6.2 0a3.1 2.5 0 1 0 -6.2 0M838.8 110a3.7 3.4 0 1 0 7.4 0a3.7 3.4 0 1 0 -7.4 0M816 104.9a2.6 2.1 0 1 0 5.1 0a2.6 2.1 0 1 0 -5.1 0M821.4 118.9a3.6 2.8 0 1 0 7.2 0a3.6 2.8 0 1 0 -7.2 0M832.7 113.7a2.7 2.3 0 1 0 5.4 0a2.7 2.3 0 1 0 -5.4 0M823.8 85.2a2.9 2.8 0 1 0 5.8 0a2.9 2.8 0 1 0 -5.8 0M832.3 98.2a3.5 3.4 0 1 0 7 0a3.5 3.4 0 1 0 -7 0M828.3 114.1a3.4 3.2 0 1 0 6.8 0a3.4 3.2 0 1 0 -6.8 0M822.6 96.7a3.6 3.5 0 1 0 7.3 0a3.6 3.5 0 1 0 -7.3 0" fill="none" stroke="#239c9e" stroke-width="1.4"/><path d="M785.3 89.8a2.8 2.7 0 1 0 5.5 0a2.8 2.7 0 1 0 -5.5 0M794.6 108.9a3.3 2.8 0 1 0 6.5 0a3.3 2.8 0 1 0 -6.5 0M801.9 104.2a3.6 3.3 0 1 0 7.1 0a3.6 3.3 0 1 0 -7.1 0M808.1 98.5a2.8 2.2 0 1 0 5.5 0a2.8 2.2 0 1 0 -5.5 0M801.7 87.2a3.4 3.1 0 1 0 6.8 0a3.4 3.1 0 1 0 -6.8 0M807.4 89.2a3.5 3.3 0 1 0 7 0a3.5 3.3 0 1 0 -7 0M772.7 108.1a2.7 2.7 0 1 0 5.4 0a2.7 2.7 0 1 0 -5.4 0M768.5 93.4a3.4 3 0 1 0 6.7 0a3.4 3 0 1 0 -6.7 0M786.2 107.8a3.2 2.7 0 1 0 6.4 0a3.2 2.7 0 1 0 -6.4 0M788.8 110.5a3.1 2.9 0 1 0 6.2 0a3.1 2.9 0 1 0 -6.2 0M792.6 116.8a3.4 2.8 0 1 0 6.8 0a3.4 2.8 0 1 0 -6.8 0M809.9 111.5a2.7 2.5 0 1 0 5.4 0a2.7 2.5 0 1 0 -5.4 0M798.4 111.4a3.3 2.9 0 1 0 6.7 0a3.3 2.9 0 1 0 -6.7 0M777.7 98.4a3.5 3.2 0 1 0 7 0a3.5 3.2 0 1 0 -7 0M785.8 98.9a3.8 3.1 0 1 0 7.6 0a3.8 3.1 0 1 0 -7.6 0M776.8 108.7a2.9 2.8 0 1 0 5.8 0a2.9 2.8 0 1 0 -5.8 0M782.3 118.7a3 3 0 1 0 6.1 0a3 3 0 1 0 -6.1 0M803.6 110.7a2.8 2.2 0 1 0 5.7 0a2.8 2.2 0 1 0 -5.7 0M799.4 82.9a2.9 2.6 0 1 0 5.7 0a2.9 2.6 0 1 0 -5.7 0M774 93.9a2.9 2.6 0 1 0 5.7 0a2.9 2.6 0 1 0 -5.7 0M792.8 100.9a3.8 3.7 0 1 0 7.6 0a3.8 3.7 0 1 0 -7.6 0M797.5 101.5a3.4 2.7 0 1 0 6.8 0a3.4 2.7 0 1 0 -6.8 0M769.4 101.4a3.3 2.8 0 1 0 6.6 0a3.3 2.8 0 1 0 -6.6 0M799.3 118.6a3.7 3.1 0 1 0 7.4 0a3.7 3.1 0 1 0 -7.4 0M773.4 115.7a3.3 3.2 0 1 0 6.7 0a3.3 3.2 0 1 0 -6.7 0M794.8 92.8a3.6 3.3 0 1 0 7.2 0a3.6 3.3 0 1 0 -7.2 0M782.4 95.5a2.8 2.7 0 1 0 5.6 0a2.8 2.7 0 1 0 -5.6 0M791.3 86.4a3.4 3 0 1 0 6.8 0a3.4 3 0 1 0 -6.8 0M791.9 104.6a3.4 3 0 1 0 6.9 0a3.4 3 0 1 0 -6.9 0M775.4 87.7a3.2 3 0 1 0 6.4 0a3.2 3 0 1 0 -6.4 0M805.9 115.7a3.1 2.9 0 1 0 6.2 0a3.1 2.9 0 1 0 -6.2 0M802.9 95.7a3.6 2.8 0 1 0 7.2 0a3.6 2.8 0 1 0 -7.2 0M807.3 93.3a3.7 3.1 0 1 0 7.4 0a3.7 3.1 0 1 0 -7.4 0M789.8 90.7a3.4 3 0 1 0 6.9 0a3.4 3 0 1 0 -6.9 0M799.3 91.9a2.9 2.8 0 1 0 5.8 0a2.9 2.8 0 1 0 -5.8 0M779 84a3.6 3.6 0 1 0 7.3 0a3.6 3.6 0 1 0 -7.3 0M786.6 119.5a3.1 2.9 0 1 0 6.3 0a3.1 2.9 0 1 0 -6.3 0M796.6 121a3.5 3.2 0 1 0 7 0a3.5 3.2 0 1 0 -7 0M788.2 83.6a3.7 3.6 0 1 0 7.4 0a3.7 3.6 0 1 0 -7.4 0M767.5 105.9a3.4 2.6 0 1 0 6.7 0a3.4 2.6 0 1 0 -6.7 0M809 102.6a3.1 2.6 0 1 0 6.1 0a3.1 2.6 0 1 0 -6.1 0M779.4 91.4a3.2 2.5 0 1 0 6.4 0a3.2 2.5 0 1 0 -6.4 0M805.3 107.1a2.7 2.7 0 1 0 5.4 0a2.7 2.7 0 1 0 -5.4 0M791.5 97.5a3 2.6 0 1 0 6 0a3 2.6 0 1 0 -6 0M777.9 94.6a2.7 2.2 0 1 0 5.4 0a2.7 2.2 0 1 0 -5.4 0M811.8 104.9a3.2 2.6 0 1 0 6.4 0a3.2 2.6 0 1 0 -6.4 0M771 98a3.1 2.4 0 1 0 6.2 0a3.1 2.4 0 1 0 -6.2 0M785.7 115a3.8 3.2 0 1 0 7.6 0a3.8 3.2 0 1 0 -7.6 0M782.4 115a3.1 2.3 0 1 0 6.1 0a3.1 2.3 0 1 0 -6.1 0M804.2 90.1a3.2 3 0 1 0 6.4 0a3.2 3 0 1 0 -6.4 0M767.3 98.2a3.1 2.9 0 1 0 6.1 0a3.1 2.9 0 1 0 -6.1 0M801.7 99.3a2.6 2.4 0 1 0 5.1 0a2.6 2.4 0 1 0 -5.1 0M815.3 100.7a3.1 2.7 0 1 0 6.1 0a3.1 2.7 0 1 0 -6.1 0M811.7 91a3.7 3.1 0 1 0 7.3 0a3.7 3.1 0 1 0 -7.3 0M806 85.4a3.8 3.2 0 1 0 7.5 0a3.8 3.2 0 1 0 -7.5 0M779.8 101.9a3.6 2.7 0 1 0 7.3 0a3.6 2.7 0 1 0 -7.3 0M795.3 80.8a3 3 0 1 0 6 0a3 3 0 1 0 -6 0M777.6 113.8a3.6 3.5 0 1 0 7.1 0a3.6 3.5 0 1 0 -7.1 0M791.5 112.7a3.3 2.7 0 1 0 6.7 0a3.3 2.7 0 1 0 -6.7 0M798.2 97.5a2.6 2.3 0 1 0 5.1 0a2.6 2.3 0 1 0 -5.1 0" fill="none" stroke="#a44a72" stroke-width="1.4"/>
<path d="M658.8 117.5L662.3 117.5M660 123.7L663.5 123.7M661.2 130L664.7 130M662.3 117.5L665.1 114.3M662.3 117.5L666.4 120.6M663.5 123.7L666.4 120.6M663.5 123.7L667.6 126.9M664.7 130L667.6 126.9M664.7 130L668.8 133.2M663.1 112.7L665.1 114.3M664.3 119L666.4 120.6M664.9 122.2L666.4 120.6M665.5 125.3L667.6 126.9M666.1 128.5L667.6 126.9M667.3 134.8L668.8 133.2M665.1 114.3L672.1 114.3M666.4 120.6L673.4 120.6M667.6 126.9L674.6 126.9M668.8 133.2L675.8 133.2M668.6 114.3L672.1 114.3M669.9 120.6L673.4 120.6M671.1 126.9L674.6 126.9M672.3 133.2L675.8 133.2M672.1 114.3L673.6 112.7M672.1 114.3L675 111.1M672.1 114.3L676.3 117.5M673.4 120.6L674.9 119M673.4 120.6L675.5 122.2M673.4 120.6L676.3 117.5M673.4 120.6L677.5 123.7M674.6 126.9L676.1 125.3M674.6 126.9L676.7 128.5M674.6 126.9L677.5 123.7M674.6 126.9L678.7 130M675.8 133.2L677.9 134.8M675.8 133.2L678.7 130M675.8 133.2L679.9 136.3M673 109.5L675 111.1M674.2 115.8L676.3 117.5M674.9 119L676.3 117.5M675.5 122.2L677.5 123.7M676.1 125.3L677.5 123.7M676.7 128.5L678.7 130M677.3 131.6L678.7 130M678.5 137.9L679.9 136.3M675 111.1L682 111.1M676.3 117.5L679.8 117.5M676.3 117.5L683.3 117.5M677.5 123.7L681 123.7M677.5 123.7L684.5 123.7M678.7 130L682.2 130M678.7 130L685.7 130M679.9 136.3L686.9 136.3M678.5 111.1L682 111.1M679.8 117.5L683.3 117.5M681 123.7L684.5 123.7M682.2 130L685.7 130M683.4 136.3L686.9 136.3M682 111.1L683.4 109.5M682 111.1L684.9 108M682 111.1L686.1 114.3M683.3 117.5L684.7 115.8M683.3 117.5L685.3 119M683.3 117.5L686.1 114.3M683.3 117.5L687.4 120.6M684.5 123.7L685.9 122.2M684.5 123.7L686.5 125.3M684.5 123.7L687.4 120.6M684.5 123.7L688.6 126.9M685.7 130L687.1 128.5M685.7 130L687.7 131.6M685.7 130L688.6 126.9M685.7 130L689.8 133.2M686.9 136.3L688.9 137.9M686.9 136.3L689.8 133.2M686.9 136.3L691 139.5M682.8 106.4L684.9 108M684.1 112.7L686.1 114.3M684.7 115.8L686.1 114.3M685.3 119L687.4 120.6M685.9 122.2L687.4 120.6M686.5 125.3L688.6 126.9M687.1 128.5L688.6 126.9M687.7 131.6L689.8 133.2M688.3 134.8L689.8 133.2M689.5 141.1L691 139.5M684.9 108L691.9 108M686.1 114.3L689.6 114.3M686.1 114.3L693.1 114.3M687.4 120.6L690.9 120.6M687.4 120.6L694.4 120.6M688.6 126.9L692.1 126.9M688.6 126.9L695.6 126.9M689.8 133.2L693.3 133.2M689.8 133.2L696.8 133.2M691 139.5L698 139.5M689.6 114.3L693.1 114.3M690.9 120.6L694.4 120.6M692.1 126.9L695.6 126.9M693.3 133.2L696.8 133.2M695.7 145.8L699.2 145.8M696.9 152.1L700.4 152.1M698.1 158.4L701.6 158.4M691.9 108L693.4 106.4M691.9 108L696 111.1M693.1 114.3L694.6 112.7M693.1 114.3L695.2 115.8M693.1 114.3L696 111.1M693.1 114.3L697.3 117.5M694.4 120.6L695.9 119M694.4 120.6L696.5 122.2M694.4 120.6L697.3 117.5M694.4 120.6L698.5 123.7M695.6 126.9L697.1 125.3M695.6 126.9L697.7 128.5M695.6 126.9L698.5 123.7M695.6 126.9L699.7 130M696.8 133.2L698.3 131.6M696.8 133.2L698.9 134.8M696.8 133.2L699.7 130M696.8 133.2L700.9 136.3M698 139.5L700.1 141.1M698 139.5L700.9 136.3M699.2 145.8L702.1 142.7M699.2 145.8L703.3 149M700.4 152.1L703.3 149M700.4 152.1L704.5 155.3M701.6 158.4L704.5 155.3M701.6 158.4L705.7 161.5M693.9 109.5L696 111.1M695.2 115.8L697.3 117.5M696.4 122.2L698.5 123.7M697.6 128.5L699.7 130M700 141.1L702.1 142.7M701.2 147.4L703.3 149M702.4 153.7L704.5 155.3M695.9 119L697.3 117.5M697.1 125.3L698.5 123.7M698.3 131.6L699.7 130M699.5 137.9L700.9 136.3M701.9 150.5L703.3 149M703.1 156.8L704.5 155.3M704.3 163.2L705.7 161.5M696 111.1L699.5 111.1M696 111.1L703 111.1M697.3 117.5L700.8 117.5M697.3 117.5L704.3 117.5M698.5 123.7L702 123.7M698.5 123.7L705.5 123.7M699.7 130L703.2 130M699.7 130L706.7 130M700.9 136.3L704.4 136.3M700.9 136.3L707.9 136.3M702.1 142.7L709.1 142.7M703.3 149L710.3 149M704.5 155.3L711.5 155.3M705.7 161.5L712.7 161.5M699.5 111.1L703 111.1M700.8 117.5L704.3 117.5M702 123.7L705.5 123.7M703.2 130L706.7 130M704.4 136.3L707.9 136.3M705.6 142.7L709.1 142.7M706.8 149L710.3 149M708 155.3L711.5 155.3M709.2 161.5L712.7 161.5M703 111.1L704.4 109.5M703 111.1L705.9 108M703 111.1L707.1 114.3M704.3 117.5L705.7 115.8M704.3 117.5L706.3 119M704.3 117.5L707.1 114.3M704.3 117.5L708.4 120.6M705.5 123.7L706.9 122.2M705.5 123.7L707.5 125.3M705.5 123.7L708.4 120.6M705.5 123.7L709.6 126.9M706.7 130L708.1 128.5M706.7 130L708.7 131.6M706.7 130L709.6 126.9M706.7 130L710.8 133.2M707.9 136.3L709.9 137.9M707.9 136.3L710.8 133.2M707.9 136.3L712 139.5M709.1 142.7L710.5 141.1M709.1 142.7L712 139.5M709.1 142.7L713.2 145.8M710.3 149L711.7 147.4M710.3 149L712.3 150.5M710.3 149L713.2 145.8M710.3 149L714.4 152.1M711.5 155.3L712.9 153.7M711.5 155.3L713.5 156.8M711.5 155.3L714.4 152.1M711.5 155.3L715.6 158.4M712.7 161.5L714.8 163.2M712.7 161.5L715.6 158.4M712.7 161.5L716.9 164.7M703.8 106.4L705.9 108M705.1 112.7L707.1 114.3M706.3 119L708.4 120.6M707.5 125.3L709.6 126.9M708.7 131.6L710.8 133.2M709.9 137.9L712 139.5M711.1 144.2L713.2 145.8M712.3 150.5L714.4 152.1M713.5 156.8L715.6 158.4M705.8 115.8L707.1 114.3M707 122.2L708.4 120.6M708.2 128.5L709.6 126.9M709.4 134.8L710.8 133.2M710.6 141.1L712 139.5M711.8 147.4L713.2 145.8M713 153.7L714.4 152.1M714.2 160L715.6 158.4M715.4 166.3L716.9 164.7M705.9 108L712.9 108M707.1 114.3L710.6 114.3M707.1 114.3L714.1 114.3M708.4 120.6L711.9 120.6M708.4 120.6L715.4 120.6M709.6 126.9L713.1 126.9M709.6 126.9L716.6 126.9M710.8 133.2L714.3 133.2M710.8 133.2L717.8 133.2M712 139.5L719 139.5M713.2 145.8L716.7 145.8M713.2 145.8L720.2 145.8M714.4 152.1L717.9 152.1M714.4 152.1L721.4 152.1M715.6 158.4L719.1 158.4M715.6 158.4L722.6 158.4M716.9 164.7L723.9 164.7M710.6 114.3L714.1 114.3M711.9 120.6L715.4 120.6M713.1 126.9L716.6 126.9M714.3 133.2L717.8 133.2M716.7 145.8L720.2 145.8M717.9 152.1L721.4 152.1M719.1 158.4L722.6 158.4M720.4 164.7L723.9 164.7M712.9 108L714.4 106.4M712.9 108L717 111.1M714.1 114.3L715.6 112.7M714.1 114.3L716.2 115.8M714.1 114.3L717 111.1M714.1 114.3L718.3 117.5M715.4 120.6L716.9 119M715.4 120.6L717.5 122.2M715.4 120.6L718.3 117.5M715.4 120.6L719.5 123.7M716.6 126.9L718.1 125.3M716.6 126.9L718.7 128.5M716.6 126.9L719.5 123.7M716.6 126.9L720.7 130M717.8 133.2L719.3 131.6M717.8 133.2L719.9 134.8M717.8 133.2L720.7 130M717.8 133.2L721.9 136.3M719 139.5L720.5 137.9M719 139.5L721.1 141.1M719 139.5L721.9 136.3M719 139.5L723.1 142.7M720.2 145.8L721.7 144.2M720.2 145.8L722.3 147.4M720.2 145.8L723.1 142.7M720.2 145.8L724.3 149M721.4 152.1L722.9 150.5M721.4 152.1L723.5 153.7M721.4 152.1L724.3 149M721.4 152.1L725.5 155.3M722.6 158.4L724.1 156.8M722.6 158.4L724.7 160M722.6 158.4L725.5 155.3M722.6 158.4L726.7 161.5M723.9 164.7L725.9 166.3M723.9 164.7L726.7 161.5M723.9 164.7L728 167.9M714.9 109.5L717 111.1M716.2 115.8L718.3 117.5M717.4 122.2L719.5 123.7M718.6 128.5L720.7 130M721 141.1L723.1 142.7M722.2 147.4L724.3 149M723.4 153.7L725.5 155.3M724.6 160L726.7 161.5M716.9 119L718.3 117.5M718.1 125.3L719.5 123.7M719.3 131.6L720.7 130M720.5 137.9L721.9 136.3M722.9 150.5L724.3 149M724.1 156.8L725.5 155.3M725.3 163.2L726.7 161.5M726.6 169.5L728 167.9M717 111.1L720.5 111.1M717 111.1L724 111.1M718.3 117.5L721.8 117.5M718.3 117.5L725.3 117.5M719.5 123.7L723 123.7M719.5 123.7L726.5 123.7M720.7 130L724.2 130M720.7 130L727.7 130M721.9 136.3L725.4 136.3M721.9 136.3L728.9 136.3M723.1 142.7L726.6 142.7M723.1 142.7L730.1 142.7M724.3 149L727.8 149M724.3 149L731.3 149M725.5 155.3L729 155.3M725.5 155.3L732.5 155.3M726.7 161.5L730.2 161.5M726.7 161.5L733.7 161.5M728 167.9L735 167.9M720.5 111.1L724 111.1M721.8 117.5L725.3 117.5M723 123.7L726.5 123.7M724.2 130L727.7 130M725.4 136.3L728.9 136.3M726.6 142.7L730.1 142.7M727.8 149L731.3 149M729 155.3L732.5 155.3M730.2 161.5L733.7 161.5M731.5 167.9L735 167.9M724 111.1L725.5 109.5M724 111.1L726.9 108M724 111.1L728.1 114.3M725.3 117.5L726.8 115.8M725.3 117.5L727.4 119M725.3 117.5L728.1 114.3M725.3 117.5L729.4 120.6M726.5 123.7L728 122.2M726.5 123.7L728.6 125.3M726.5 123.7L729.4 120.6M726.5 123.7L730.6 126.9M727.7 130L729.2 128.5M727.7 130L729.8 131.6M727.7 130L730.6 126.9M727.7 130L731.8 133.2M728.9 136.3L731 137.9M728.9 136.3L731.8 133.2M728.9 136.3L733 139.5M730.1 142.7L731.6 141.1M730.1 142.7L733 139.5M730.1 142.7L734.2 145.8M731.3 149L732.8 147.4M731.3 149L733.4 150.5M731.3 149L734.2 145.8M731.3 149L735.4 152.1M732.5 155.3L734 153.7M732.5 155.3L734.6 156.8M732.5 155.3L735.4 152.1M732.5 155.3L736.6 158.4M733.7 161.5L735.2 160M733.7 161.5L735.8 163.2M733.7 161.5L736.6 158.4M733.7 161.5L737.9 164.7M735 167.9L737.1 169.5M735 167.9L737.9 164.7M735 167.9L739.1 171M724.8 106.4L726.9 108M726.1 112.7L728.1 114.3M727.3 119L729.4 120.6M728.5 125.3L730.6 126.9M729.7 131.6L731.8 133.2M730.9 137.9L733 139.5M732.1 144.2L734.2 145.8M733.3 150.5L735.4 152.1M734.5 156.8L736.6 158.4M735.8 163.2L737.9 164.7M726.8 115.8L728.1 114.3M728 122.2L729.4 120.6M729.2 128.5L730.6 126.9M730.4 134.8L731.8 133.2M731.6 141.1L733 139.5M732.8 147.4L734.2 145.8M734 153.7L735.4 152.1M735.2 160L736.6 158.4M736.4 166.3L737.9 164.7M737.7 172.6L739.1 171M726.9 108L733.9 108M728.1 114.3L731.6 114.3M728.1 114.3L735.1 114.3M729.4 120.6L732.9 120.6M729.4 120.6L736.4 120.6M730.6 126.9L734.1 126.9M730.6 126.9L737.6 126.9M731.8 133.2L735.3 133.2M731.8 133.2L738.8 133.2M733 139.5L740 139.5M734.2 145.8L737.7 145.8M734.2 145.8L741.2 145.8M735.4 152.1L738.9 152.1M735.4 152.1L742.4 152.1M736.6 158.4L740.1 158.4M736.6 158.4L743.6 158.4M737.9 164.7L741.4 164.7M737.9 164.7L744.9 164.7M739.1 171L746.1 171M731.6 114.3L735.1 114.3M732.9 120.6L736.4 120.6M734.1 126.9L737.6 126.9M735.3 133.2L738.8 133.2M736.5 139.5L740 139.5M737.7 145.8L741.2 145.8M738.9 152.1L742.4 152.1M740.1 158.4L743.6 158.4M741.4 164.7L744.9 164.7M733.9 108L735.4 106.4M733.9 108L738 111.1M735.1 114.3L736.6 112.7M735.1 114.3L737.2 115.8M735.1 114.3L738 111.1M735.1 114.3L739.3 117.5M736.4 120.6L737.9 119M736.4 120.6L738.5 122.2M736.4 120.6L739.3 117.5M736.4 120.6L740.5 123.7M737.6 126.9L739.1 125.3M737.6 126.9L739.7 128.5M737.6 126.9L740.5 123.7M737.6 126.9L741.7 130M738.8 133.2L740.3 131.6M738.8 133.2L740.9 134.8M738.8 133.2L741.7 130M738.8 133.2L742.9 136.3M740 139.5L741.5 137.9M740 139.5L742.1 141.1M740 139.5L742.9 136.3M740 139.5L744.1 142.7M741.2 145.8L742.7 144.2M741.2 145.8L743.3 147.4M741.2 145.8L744.1 142.7M741.2 145.8L745.3 149M742.4 152.1L743.9 150.5M742.4 152.1L744.5 153.7M742.4 152.1L745.3 149M742.4 152.1L746.5 155.3M743.6 158.4L745.1 156.8M743.6 158.4L745.7 160M743.6 158.4L746.5 155.3M743.6 158.4L747.7 161.5M744.9 164.7L746.3 163.2M744.9 164.7L746.9 166.3M744.9 164.7L747.7 161.5M744.9 164.7L749 167.9M746.1 171L748.2 172.6M746.1 171L749 167.9M735.9 109.5L738 111.1M737.2 115.8L739.3 117.5M738.4 122.2L740.5 123.7M739.6 128.5L741.7 130M740.8 134.8L742.9 136.3M742 141.1L744.1 142.7M743.2 147.4L745.3 149M744.4 153.7L746.5 155.3M745.6 160L747.7 161.5M737.9 119L739.3 117.5M739.1 125.3L740.5 123.7M740.3 131.6L741.7 130M741.5 137.9L742.9 136.3M742.7 144.2L744.1 142.7M743.9 150.5L745.3 149M745.1 156.8L746.5 155.3M746.3 163.2L747.7 161.5M747.6 169.5L749 167.9M738 111.1L741.5 111.1M738 111.1L745 111.1M739.3 117.5L742.8 117.5M739.3 117.5L746.3 117.5M740.5 123.7L744 123.7M740.5 123.7L747.5 123.7M741.7 130L745.2 130M741.7 130L748.7 130M742.9 136.3L746.4 136.3M742.9 136.3L749.9 136.3M744.1 142.7L747.6 142.7M744.1 142.7L751.1 142.7M745.3 149L748.8 149M745.3 149L752.3 149M746.5 155.3L750 155.3M746.5 155.3L753.5 155.3M747.7 161.5L751.2 161.5M747.7 161.5L754.7 161.5M749 167.9L752.5 167.9M749 167.9L756 167.9M742.8 117.5L746.3 117.5M744 123.7L747.5 123.7M745.2 130L748.7 130M746.4 136.3L749.9 136.3M747.6 142.7L751.1 142.7M748.8 149L752.3 149M750 155.3L753.5 155.3M751.2 161.5L754.7 161.5M745 111.1L746.4 109.5M745 111.1L749.1 114.3M746.3 117.5L747.7 115.8M746.3 117.5L748.3 119M746.3 117.5L749.1 114.3M746.3 117.5L750.4 120.6M747.5 123.7L748.9 122.2M747.5 123.7L749.5 125.3M747.5 123.7L750.4 120.6M747.5 123.7L751.6 126.9M748.7 130L750.1 128.5M748.7 130L750.7 131.6M748.7 130L751.6 126.9M748.7 130L752.8 133.2M749.9 136.3L751.3 134.8M749.9 136.3L751.9 137.9M749.9 136.3L752.8 133.2M749.9 136.3L754 139.5M751.1 142.7L752.5 141.1M751.1 142.7L753.1 144.2M751.1 142.7L754 139.5M751.1 142.7L755.2 145.8M752.3 149L753.7 147.4M752.3 149L754.3 150.5M752.3 149L755.2 145.8M752.3 149L756.4 152.1M753.5 155.3L754.9 153.7M753.5 155.3L755.5 156.8M753.5 155.3L756.4 152.1M753.5 155.3L757.6 158.4M754.7 161.5L756.1 160M754.7 161.5L756.8 163.2M754.7 161.5L757.6 158.4M754.7 161.5L758.9 164.7M756 167.9L758 169.5M756 167.9L758.9 164.7M747.1 112.7L749.1 114.3M748.3 119L750.4 120.6M748.9 122.2L750.4 120.6M749.5 125.3L751.6 126.9M750.1 128.5L751.6 126.9M750.7 131.6L752.8 133.2M751.3 134.8L752.8 133.2M751.9 137.9L754 139.5M752.5 141.1L754 139.5M753.1 144.2L755.2 145.8M753.7 147.4L755.2 145.8M754.3 150.5L756.4 152.1M754.9 153.7L756.4 152.1M755.5 156.8L757.6 158.4M756.1 160L757.6 158.4M757.4 166.3L758.9 164.7M749.1 114.3L752.6 114.3M749.1 114.3L756.1 114.3M750.4 120.6L753.9 120.6M750.4 120.6L757.4 120.6M751.6 126.9L755.1 126.9M751.6 126.9L758.6 126.9M752.8 133.2L756.3 133.2M752.8 133.2L759.8 133.2M754 139.5L757.5 139.5M754 139.5L761 139.5M755.2 145.8L758.7 145.8M755.2 145.8L762.2 145.8M756.4 152.1L759.9 152.1M756.4 152.1L763.4 152.1M757.6 158.4L761.1 158.4M757.6 158.4L764.6 158.4M758.9 164.7L762.4 164.7M758.9 164.7L765.9 164.7M753.9 120.6L757.4 120.6M757.5 139.5L761 139.5M758.7 145.8L762.2 145.8M759.9 152.1L763.4 152.1M761.1 158.4L764.6 158.4M762.4 164.7L765.9 164.7M756.1 114.3L757.6 112.7M756.1 114.3L760.3 117.5M757.4 120.6L758.9 119M757.4 120.6L759.5 122.2M757.4 120.6L760.3 117.5M757.4 120.6L761.5 123.7M758.6 126.9L760.1 125.3M758.6 126.9L760.7 128.5M758.6 126.9L761.5 123.7M758.6 126.9L762.7 130M759.8 133.2L761.3 131.6M759.8 133.2L761.9 134.8M759.8 133.2L762.7 130M759.8 133.2L763.9 136.3M761 139.5L762.5 137.9M761 139.5L763.1 141.1M761 139.5L763.9 136.3M761 139.5L765.1 142.7M762.2 145.8L763.7 144.2M762.2 145.8L764.3 147.4M762.2 145.8L765.1 142.7M762.2 145.8L766.3 149M763.4 152.1L764.9 150.5M763.4 152.1L765.5 153.7M763.4 152.1L766.3 149M763.4 152.1L767.5 155.3M764.6 158.4L766.1 156.8M764.6 158.4L766.7 160M764.6 158.4L767.5 155.3M764.6 158.4L768.7 161.5M765.9 164.7L767.9 166.3M765.9 164.7L768.7 161.5M765.9 164.7L770 167.9M758.2 115.8L760.3 117.5M760.1 125.3L761.5 123.7M761.9 134.8L763.9 136.3M763.1 141.1L765.1 142.7M763.7 144.2L765.1 142.7M764.3 147.4L766.3 149M764.9 150.5L766.3 149M765.5 153.7L767.5 155.3M766.1 156.8L767.5 155.3M766.7 160L768.7 161.5M767.3 163.2L768.7 161.5M768.6 169.5L770 167.9M760.3 117.5L763.8 117.5M760.3 117.5L767.3 117.5M761.5 123.7L765 123.7M761.5 123.7L768.5 123.7M762.7 130L766.2 130M763.9 136.3L767.4 136.3M763.9 136.3L770.9 136.3M765.1 142.7L768.6 142.7M765.1 142.7L772.1 142.7M766.3 149L769.8 149M766.3 149L773.3 149M767.5 155.3L771 155.3M767.5 155.3L774.5 155.3M768.7 161.5L772.2 161.5M768.7 161.5L775.7 161.5M770 167.9L777 167.9M768.6 142.7L772.1 142.7M769.8 149L773.3 149M771 155.3L774.5 155.3M767.3 117.5L768.7 115.8M767.3 117.5L771.4 120.6M768.5 123.7L770.5 125.3M768.5 123.7L771.4 120.6M770.9 136.3L772.3 134.8M770.9 136.3L775 139.5M772.1 142.7L773.5 141.1M772.1 142.7L774.1 144.2M772.1 142.7L775 139.5M772.1 142.7L776.2 145.8M773.3 149L774.7 147.4M773.3 149L775.3 150.5M773.3 149L776.2 145.8M773.3 149L777.4 152.1M774.5 155.3L775.9 153.7M774.5 155.3L776.5 156.8M774.5 155.3L777.4 152.1M774.5 155.3L778.6 158.4M775.7 161.5L777.1 160M775.7 161.5L777.8 163.2M775.7 161.5L778.6 158.4M775.7 161.5L779.9 164.7M777 167.9L779 169.5M777 167.9L779.9 164.7M772.9 137.9L775 139.5M774.1 144.2L776.2 145.8M774.7 147.4L776.2 145.8M775.3 150.5L777.4 152.1M775.9 153.7L777.4 152.1M777.1 160L778.6 158.4M771.4 120.6L774.9 120.6M775 139.5L778.5 139.5M775 139.5L782 139.5M776.2 145.8L779.7 145.8M776.2 145.8L783.2 145.8M777.4 152.1L780.9 152.1M777.4 152.1L784.4 152.1M778.6 158.4L782.1 158.4M778.6 158.4L785.6 158.4M779.9 164.7L783.4 164.7M782 139.5L783.5 137.9M782 139.5L786.1 142.7M783.2 145.8L784.7 144.2M783.2 145.8L785.3 147.4M783.2 145.8L786.1 142.7M783.2 145.8L787.3 149M784.4 152.1L785.9 150.5M784.4 152.1L786.5 153.7M784.4 152.1L787.3 149M784.4 152.1L788.5 155.3M785.6 158.4L787.7 160M785.6 158.4L788.5 155.3M786.1 142.7L789.6 142.7M787.3 149L790.8 149M788.5 155.3L792 155.3" fill="none" stroke="#2a2a9c" stroke-width="2.8" stroke-linecap="round"/>
<path d="M817.7 531.4L821.2 531.4M817.7 537.8L821.2 537.8M821.2 531.4L824.7 528.3M821.2 531.4L824.7 534.6M821.2 537.8L824.7 534.6M821.2 537.8L824.7 540.9M822.9 526.7L824.7 528.3M822.9 533L824.7 534.6M822.9 536.2L824.7 534.6M822.9 542.5L824.7 540.9M824.7 528.3L831.7 528.3M824.7 534.6L831.7 534.6M824.7 540.9L831.7 540.9M828.2 528.3L831.7 528.3M828.2 534.6L831.7 534.6M828.2 540.9L831.7 540.9M831.7 528.3L833.5 526.7M831.7 528.3L835.2 525.1M831.7 528.3L835.2 531.4M831.7 534.6L833.5 533M831.7 534.6L833.5 536.2M831.7 534.6L835.2 531.4M831.7 534.6L835.2 537.8M831.7 540.9L833.5 542.5M831.7 540.9L835.2 537.8M831.7 540.9L835.2 544.1M833.4 523.6L835.2 525.1M833.4 529.9L835.2 531.4M833.4 536.2L835.2 537.8M833.5 533L835.2 531.4M833.5 539.3L835.2 537.8M833.5 545.6L835.2 544.1M835.2 525.1L842.2 525.1M835.2 531.4L838.7 531.4M835.2 531.4L842.2 531.4M835.2 537.8L838.7 537.8M835.2 537.8L842.2 537.8M835.2 544.1L842.2 544.1M838.7 525.1L842.2 525.1M838.7 531.4L842.2 531.4M838.7 537.8L842.2 537.8M838.7 544.1L842.2 544.1M842.2 525.1L843.9 523.6M842.2 525.1L845.7 522M842.2 525.1L845.7 528.3M842.2 531.4L843.9 529.9M842.2 531.4L843.9 533M842.2 531.4L845.7 528.3M842.2 531.4L845.7 534.6M842.2 537.8L843.9 536.2M842.2 537.8L843.9 539.3M842.2 537.8L845.7 534.6M842.2 537.8L845.7 540.9M842.2 544.1L843.9 545.6M842.2 544.1L845.7 540.9M842.2 544.1L845.7 547.2M843.9 520.4L845.7 522M843.9 526.7L845.7 528.3M843.9 533L845.7 534.6M843.9 539.3L845.7 540.9M844 529.9L845.7 528.3M844 536.2L845.7 534.6M844 542.5L845.7 540.9M844 548.8L845.7 547.2M845.7 522L852.7 522M845.7 528.3L849.2 528.3M845.7 528.3L852.7 528.3M845.7 534.6L849.2 534.6M845.7 534.6L852.7 534.6M845.7 540.9L849.2 540.9M845.7 540.9L852.7 540.9M845.7 547.2L852.7 547.2M849.2 528.3L852.7 528.3M849.2 534.6L852.7 534.6M849.2 540.9L852.7 540.9M852.7 522L854.5 520.4M852.7 522L856.2 525.1M852.7 528.3L854.5 526.7M852.7 528.3L854.5 529.9M852.7 528.3L856.2 525.1M852.7 528.3L856.2 531.4M852.7 534.6L854.5 533M852.7 534.6L854.5 536.2M852.7 534.6L856.2 531.4M852.7 534.6L856.2 537.8M852.7 540.9L854.5 539.3M852.7 540.9L854.5 542.5M852.7 540.9L856.2 537.8M852.7 540.9L856.2 544.1M852.7 547.2L854.5 548.8M852.7 547.2L856.2 544.1M854.4 523.6L856.2 525.1M854.4 529.9L856.2 531.4M854.4 536.2L856.2 537.8M854.5 533L856.2 531.4M854.5 539.3L856.2 537.8M854.5 545.6L856.2 544.1M856.2 525.1L859.7 525.1M856.2 525.1L863.2 525.1M856.2 531.4L859.7 531.4M856.2 531.4L863.2 531.4M856.2 537.8L859.7 537.8M856.2 537.8L863.2 537.8M856.2 544.1L859.7 544.1M856.2 544.1L863.2 544.1M859.7 525.1L863.2 525.1M859.7 531.4L863.2 531.4M859.7 537.8L863.2 537.8M859.7 544.1L863.2 544.1M863.2 525.1L865 523.6M863.2 525.1L866.7 522M863.2 525.1L866.7 528.3M863.2 531.4L865 529.9M863.2 531.4L865 533M863.2 531.4L866.7 528.3M863.2 531.4L866.7 534.6M863.2 537.8L865 536.2M863.2 537.8L865 539.3M863.2 537.8L866.7 534.6M863.2 537.8L866.7 540.9M863.2 544.1L865 545.6M863.2 544.1L866.7 540.9M863.2 544.1L866.7 547.2M864.9 520.4L866.7 522M864.9 526.7L866.7 528.3M864.9 533L866.7 534.6M864.9 539.3L866.7 540.9M865 529.9L866.7 528.3M865 536.2L866.7 534.6M865 542.5L866.7 540.9M865 548.8L866.7 547.2M866.7 522L873.7 522M866.7 528.3L870.2 528.3M866.7 528.3L873.7 528.3M866.7 534.6L870.2 534.6M866.7 534.6L873.7 534.6M866.7 540.9L870.2 540.9M866.7 540.9L873.7 540.9M866.7 547.2L873.7 547.2M870.2 528.3L873.7 528.3M870.2 534.6L873.7 534.6M870.2 540.9L873.7 540.9M873.7 522L875.5 520.4M873.7 522L877.2 525.1M873.7 528.3L875.5 526.7M873.7 528.3L875.5 529.9M873.7 528.3L877.2 525.1M873.7 528.3L877.2 531.4M873.7 534.6L875.5 533M873.7 534.6L875.5 536.2M873.7 534.6L877.2 531.4M873.7 534.6L877.2 537.8M873.7 540.9L875.5 539.3M873.7 540.9L875.5 542.5M873.7 540.9L877.2 537.8M873.7 540.9L877.2 544.1M873.7 547.2L875.5 548.8M873.7 547.2L877.2 544.1M875.4 523.6L877.2 525.1M875.4 529.9L877.2 531.4M875.4 536.2L877.2 537.8M875.5 533L877.2 531.4M875.5 539.3L877.2 537.8M875.5 545.6L877.2 544.1M877.2 525.1L880.7 525.1M877.2 525.1L884.2 525.1M877.2 531.4L880.7 531.4M877.2 531.4L884.2 531.4M877.2 537.8L880.7 537.8M877.2 537.8L884.2 537.8M877.2 544.1L880.7 544.1M877.2 544.1L884.2 544.1M880.7 531.4L884.2 531.4M880.7 537.8L884.2 537.8M884.2 525.1L885.9 523.6M884.2 525.1L887.7 528.3M884.2 531.4L885.9 529.9M884.2 531.4L885.9 533M884.2 531.4L887.7 528.3M884.2 531.4L887.7 534.6M884.2 537.8L885.9 536.2M884.2 537.8L885.9 539.3M884.2 537.8L887.7 534.6M884.2 537.8L887.7 540.9M884.2 544.1L885.9 545.6M884.2 544.1L887.7 540.9M885.9 526.7L887.7 528.3M885.9 533L887.7 534.6M885.9 536.2L887.7 534.6M885.9 542.5L887.7 540.9M887.7 528.3L891.2 528.3M887.7 528.3L894.7 528.3M887.7 534.6L891.2 534.6M887.7 534.6L894.7 534.6M887.7 540.9L891.2 540.9M887.7 540.9L894.7 540.9M894.7 528.3L896.5 526.7M894.7 528.3L898.2 531.4M894.7 534.6L896.5 533M894.7 534.6L896.5 536.2M894.7 534.6L898.2 531.4M894.7 534.6L898.2 537.8M894.7 540.9L896.5 542.5M894.7 540.9L898.2 537.8M898.2 531.4L901.7 531.4M898.2 537.8L901.7 537.8" fill="none" stroke="#2a2a9c" stroke-width="2.7" stroke-linecap="round"/><path d="M828 512.1a2.8 2.6 0 1 0 5.5 0a2.8 2.6 0 1 0 -5.5 0M858.1 508.1a3.8 3.5 0 1 0 7.6 0a3.8 3.5 0 1 0 -7.6 0M841.4 516.8a3.3 2.8 0 1 0 6.6 0a3.3 2.8 0 1 0 -6.6 0M838.7 523.8a2.8 2.5 0 1 0 5.6 0a2.8 2.5 0 1 0 -5.6 0M832.7 522.7a3.7 3.5 0 1 0 7.5 0a3.7 3.5 0 1 0 -7.5 0M825.4 521.8a3.1 3 0 1 0 6.2 0a3.1 3 0 1 0 -6.2 0M854.1 524a3.3 2.6 0 1 0 6.6 0a3.3 2.6 0 1 0 -6.6 0M862.1 510.7a2.6 2.2 0 1 0 5.2 0a2.6 2.2 0 1 0 -5.2 0M834.8 500.8a3.8 2.9 0 1 0 7.6 0a3.8 2.9 0 1 0 -7.6 0M858.1 513.9a2.8 2.3 0 1 0 5.6 0a2.8 2.3 0 1 0 -5.6 0M850.7 517.7a3.8 3.7 0 1 0 7.6 0a3.8 3.7 0 1 0 -7.6 0M858.9 517.4a3.3 2.9 0 1 0 6.5 0a3.3 2.9 0 1 0 -6.5 0M818.3 509a2.7 2.4 0 1 0 5.3 0a2.7 2.4 0 1 0 -5.3 0M855.3 501.7a3.5 3.1 0 1 0 7 0a3.5 3.1 0 1 0 -7 0M838.3 498.7a3.4 2.9 0 1 0 6.8 0a3.4 2.9 0 1 0 -6.8 0M852.3 497.4a3.2 3.1 0 1 0 6.3 0a3.2 3.1 0 1 0 -6.3 0M847.3 520.5a3.3 2.9 0 1 0 6.5 0a3.3 2.9 0 1 0 -6.5 0M850.3 511.2a2.6 2.4 0 1 0 5.2 0a2.6 2.4 0 1 0 -5.2 0M828.6 522.6a3.8 3.6 0 1 0 7.6 0a3.8 3.6 0 1 0 -7.6 0M834 505.2a3.3 3 0 1 0 6.6 0a3.3 3 0 1 0 -6.6 0M831.9 516a2.6 2 0 1 0 5.1 0a2.6 2 0 1 0 -5.1 0M835 495.2a3.5 2.9 0 1 0 7.1 0a3.5 2.9 0 1 0 -7.1 0M836 520.7a3.6 2.8 0 1 0 7.1 0a3.6 2.8 0 1 0 -7.1 0M823.7 525.5a3.3 3 0 1 0 6.6 0a3.3 3 0 1 0 -6.6 0M823.7 512.9a3.1 2.5 0 1 0 6.2 0a3.1 2.5 0 1 0 -6.2 0M843.4 512.5a3.8 3.6 0 1 0 7.6 0a3.8 3.6 0 1 0 -7.6 0M826.3 499.2a3.6 2.8 0 1 0 7.2 0a3.6 2.8 0 1 0 -7.2 0M841.2 493.5a2.6 2.5 0 1 0 5.2 0a2.6 2.5 0 1 0 -5.2 0M830.2 496.3a3.2 3.1 0 1 0 6.5 0a3.2 3.1 0 1 0 -6.5 0M842.5 507.6a2.6 2.3 0 1 0 5.2 0a2.6 2.3 0 1 0 -5.2 0M819.3 513.3a3.1 2.6 0 1 0 6.2 0a3.1 2.6 0 1 0 -6.2 0M842.9 521.9a3.2 3.1 0 1 0 6.4 0a3.2 3.1 0 1 0 -6.4 0M855.3 518.8a2.6 2.2 0 1 0 5.2 0a2.6 2.2 0 1 0 -5.2 0M850.5 521.8a3.5 2.9 0 1 0 7 0a3.5 2.9 0 1 0 -7 0M849.2 501.8a3.5 3.3 0 1 0 7.1 0a3.5 3.3 0 1 0 -7.1 0M832.8 528.6a2.8 2.8 0 1 0 5.7 0a2.8 2.8 0 1 0 -5.7 0M851.2 526.1a2.7 2.3 0 1 0 5.4 0a2.7 2.3 0 1 0 -5.4 0M829.4 508.6a2.9 2.6 0 1 0 5.7 0a2.9 2.6 0 1 0 -5.7 0M837.5 513.9a3.7 3.6 0 1 0 7.4 0a3.7 3.6 0 1 0 -7.4 0M842.4 503.5a3.3 3 0 1 0 6.6 0a3.3 3 0 1 0 -6.6 0M838.6 504.5a3.5 3.5 0 1 0 7 0a3.5 3.5 0 1 0 -7 0M851 505.8a2.7 2.5 0 1 0 5.5 0a2.7 2.5 0 1 0 -5.5 0M821.8 501.1a3.2 3.1 0 1 0 6.5 0a3.2 3.1 0 1 0 -6.5 0M825.8 505.1a2.9 2.3 0 1 0 5.8 0a2.9 2.3 0 1 0 -5.8 0M853.1 512.9a3.8 3.4 0 1 0 7.6 0a3.8 3.4 0 1 0 -7.6 0M835.5 509.8a2.8 2.5 0 1 0 5.5 0a2.8 2.5 0 1 0 -5.5 0M838.1 529.6a2.9 2.4 0 1 0 5.7 0a2.9 2.4 0 1 0 -5.7 0M843.5 499.3a3.7 3.7 0 1 0 7.3 0a3.7 3.7 0 1 0 -7.3 0M847.4 527a2.9 2.4 0 1 0 5.8 0a2.9 2.4 0 1 0 -5.8 0M821.2 520.7a2.7 2.3 0 1 0 5.3 0a2.7 2.3 0 1 0 -5.3 0M842.8 526.8a3.1 2.4 0 1 0 6.2 0a3.1 2.4 0 1 0 -6.2 0M861.3 514.4a3.4 3 0 1 0 6.8 0a3.4 3 0 1 0 -6.8 0M848.2 514.3a2.6 2.2 0 1 0 5.2 0a2.6 2.2 0 1 0 -5.2 0M857.7 521a3.2 2.4 0 1 0 6.3 0a3.2 2.4 0 1 0 -6.3 0M817.5 516.8a3.7 3.7 0 1 0 7.4 0a3.7 3.7 0 1 0 -7.4 0M844.4 494.8a3.1 2.8 0 1 0 6.1 0a3.1 2.8 0 1 0 -6.1 0" fill="none" stroke="#a44a72" stroke-width="1.4"/><path d="M885.1 502.4a3.8 3.2 0 1 0 7.5 0a3.8 3.2 0 1 0 -7.5 0M861.8 497.5a3.4 2.6 0 1 0 6.7 0a3.4 2.6 0 1 0 -6.7 0M878.6 509.1a3.7 3.3 0 1 0 7.4 0a3.7 3.3 0 1 0 -7.4 0M860.2 503.7a3.2 2.6 0 1 0 6.5 0a3.2 2.6 0 1 0 -6.5 0M884.2 514.1a3.4 2.9 0 1 0 6.8 0a3.4 2.9 0 1 0 -6.8 0M874.4 491.3a2.7 2.2 0 1 0 5.4 0a2.7 2.2 0 1 0 -5.4 0M867.5 505a3.1 2.8 0 1 0 6.2 0a3.1 2.8 0 1 0 -6.2 0M891.3 514.4a3.1 3.1 0 1 0 6.3 0a3.1 3.1 0 1 0 -6.3 0M889.2 493.7a3.4 3.3 0 1 0 6.9 0a3.4 3.3 0 1 0 -6.9 0M886.8 517.2a3.2 3 0 1 0 6.5 0a3.2 3 0 1 0 -6.5 0M857.8 508.8a2.7 2.6 0 1 0 5.5 0a2.7 2.6 0 1 0 -5.5 0M893.9 498.4a2.6 2 0 1 0 5.3 0a2.6 2 0 1 0 -5.3 0M886.2 506.9a3.2 2.9 0 1 0 6.4 0a3.2 2.9 0 1 0 -6.4 0M855.6 504.7a3.6 2.8 0 1 0 7.2 0a3.6 2.8 0 1 0 -7.2 0M868.4 492.6a2.9 2.8 0 1 0 5.8 0a2.9 2.8 0 1 0 -5.8 0M864.9 512.1a3.7 3.6 0 1 0 7.4 0a3.7 3.6 0 1 0 -7.4 0M868.1 516.4a2.9 2.3 0 1 0 5.9 0a2.9 2.3 0 1 0 -5.9 0M872.1 488.3a2.8 2.6 0 1 0 5.7 0a2.8 2.6 0 1 0 -5.7 0M894.4 494.5a3.6 3.3 0 1 0 7.2 0a3.6 3.3 0 1 0 -7.2 0M879.1 515.2a3.4 2.8 0 1 0 6.9 0a3.4 2.8 0 1 0 -6.9 0M874.3 519.6a2.6 2.5 0 1 0 5.3 0a2.6 2.5 0 1 0 -5.3 0M893.8 506.9a2.6 2.5 0 1 0 5.3 0a2.6 2.5 0 1 0 -5.3 0M864.8 489.4a3 2.3 0 1 0 6 0a3 2.3 0 1 0 -6 0M879.6 494.7a2.9 2.7 0 1 0 5.7 0a2.9 2.7 0 1 0 -5.7 0M857.5 499.9a3.1 2.8 0 1 0 6.2 0a3.1 2.8 0 1 0 -6.2 0M887.4 488.1a3.2 3.1 0 1 0 6.3 0a3.2 3.1 0 1 0 -6.3 0M881.8 489.1a3.8 3.2 0 1 0 7.6 0a3.8 3.2 0 1 0 -7.6 0M876.1 512.2a2.9 2.8 0 1 0 5.8 0a2.9 2.8 0 1 0 -5.8 0M884.5 491.6a3.8 3.3 0 1 0 7.5 0a3.8 3.3 0 1 0 -7.5 0M873.4 497.2a3.1 2.9 0 1 0 6.1 0a3.1 2.9 0 1 0 -6.1 0M894.2 501.9a3.2 2.8 0 1 0 6.5 0a3.2 2.8 0 1 0 -6.5 0M878.3 520.3a3.7 3.6 0 1 0 7.3 0a3.7 3.6 0 1 0 -7.3 0M878.8 486.9a3.1 3.1 0 1 0 6.2 0a3.1 3.1 0 1 0 -6.2 0M870.6 509.6a3.8 3.5 0 1 0 7.6 0a3.8 3.5 0 1 0 -7.6 0M871.2 503.5a2.7 2.6 0 1 0 5.4 0a2.7 2.6 0 1 0 -5.4 0M882.3 496.7a3.1 3 0 1 0 6.2 0a3.1 3 0 1 0 -6.2 0M879.5 501.9a3 2.8 0 1 0 5.9 0a3 2.8 0 1 0 -5.9 0M863.9 500.8a2.7 2.2 0 1 0 5.4 0a2.7 2.2 0 1 0 -5.4 0M889.9 501.9a3.3 2.7 0 1 0 6.6 0a3.3 2.7 0 1 0 -6.6 0M865.1 494.7a2.7 2.4 0 1 0 5.5 0a2.7 2.4 0 1 0 -5.5 0M874.5 515.3a2.7 2.1 0 1 0 5.3 0a2.7 2.1 0 1 0 -5.3 0M867.9 498.1a3.5 3.2 0 1 0 7.1 0a3.5 3.2 0 1 0 -7.1 0M881.8 505.9a3 2.4 0 1 0 6.1 0a3 2.4 0 1 0 -6.1 0M893.6 511.2a3.5 3.2 0 1 0 7 0a3.5 3.2 0 1 0 -7 0M897.8 504.2a2.8 2.6 0 1 0 5.6 0a2.8 2.6 0 1 0 -5.6 0M883.6 509.2a3 2.6 0 1 0 6.1 0a3 2.6 0 1 0 -6.1 0M860.7 492a3.3 2.9 0 1 0 6.6 0a3.3 2.9 0 1 0 -6.6 0M864 506.6a2.9 2.4 0 1 0 5.9 0a2.9 2.4 0 1 0 -5.9 0M875.7 508.3a2.8 2.3 0 1 0 5.5 0a2.8 2.3 0 1 0 -5.5 0M882.1 517.5a3.5 2.8 0 1 0 7.1 0a3.5 2.8 0 1 0 -7.1 0" fill="none" stroke="#239c9e" stroke-width="1.4"/>
<path d="M763.2 585.5L766.7 585.5M763.2 591.9L766.7 591.9M766.7 585.5L770.2 582.4M766.7 585.5L770.2 588.7M766.7 591.9L770.2 588.7M766.7 591.9L770.2 595M768.4 580.8L770.2 582.4M768.4 587.1L770.2 588.7M768.4 590.3L770.2 588.7M768.4 596.6L770.2 595M770.2 582.4L777.2 582.4M770.2 588.7L777.2 588.7M770.2 595L777.2 595M773.7 582.4L777.2 582.4M773.7 588.7L777.2 588.7M773.7 595L777.2 595M777.2 582.4L779 580.8M777.2 582.4L780.7 579.2M777.2 582.4L780.7 585.5M777.2 588.7L779 587.1M777.2 588.7L779 590.3M777.2 588.7L780.7 585.5M777.2 588.7L780.7 591.9M777.2 595L779 596.6M777.2 595L780.7 591.9M777.2 595L780.7 598.2M778.9 577.7L780.7 579.2M778.9 584L780.7 585.5M778.9 590.3L780.7 591.9M779 587.1L780.7 585.5M779 593.4L780.7 591.9M779 599.7L780.7 598.2M780.7 579.2L787.7 579.2M780.7 585.5L784.2 585.5M780.7 585.5L787.7 585.5M780.7 591.9L784.2 591.9M780.7 591.9L787.7 591.9M780.7 598.2L787.7 598.2M784.2 579.2L787.7 579.2M784.2 585.5L787.7 585.5M784.2 591.9L787.7 591.9M784.2 598.2L787.7 598.2M787.7 579.2L789.4 577.7M787.7 579.2L791.2 576.1M787.7 579.2L791.2 582.4M787.7 585.5L789.4 584M787.7 585.5L789.4 587.1M787.7 585.5L791.2 582.4M787.7 585.5L791.2 588.7M787.7 591.9L789.4 590.3M787.7 591.9L789.4 593.4M787.7 591.9L791.2 588.7M787.7 591.9L791.2 595M787.7 598.2L789.4 599.7M787.7 598.2L791.2 595M787.7 598.2L791.2 601.3M789.4 574.5L791.2 576.1M789.4 580.8L791.2 582.4M789.4 587.1L791.2 588.7M789.4 593.4L791.2 595M789.5 584L791.2 582.4M789.5 590.3L791.2 588.7M789.5 596.6L791.2 595M789.5 602.9L791.2 601.3M791.2 576.1L798.2 576.1M791.2 582.4L794.7 582.4M791.2 582.4L798.2 582.4M791.2 588.7L794.7 588.7M791.2 588.7L798.2 588.7M791.2 595L794.7 595M791.2 595L798.2 595M791.2 601.3L798.2 601.3M794.7 582.4L798.2 582.4M794.7 588.7L798.2 588.7M794.7 595L798.2 595M798.2 576.1L800 574.5M798.2 576.1L801.7 579.2M798.2 582.4L800 580.8M798.2 582.4L800 584M798.2 582.4L801.7 579.2M798.2 582.4L801.7 585.5M798.2 588.7L800 587.1M798.2 588.7L800 590.3M798.2 588.7L801.7 585.5M798.2 588.7L801.7 591.9M798.2 595L800 593.4M798.2 595L800 596.6M798.2 595L801.7 591.9M798.2 595L801.7 598.2M798.2 601.3L800 602.9M798.2 601.3L801.7 598.2M799.9 577.7L801.7 579.2M799.9 584L801.7 585.5M799.9 590.3L801.7 591.9M800 587.1L801.7 585.5M800 593.4L801.7 591.9M800 599.7L801.7 598.2M801.7 579.2L805.2 579.2M801.7 579.2L808.7 579.2M801.7 585.5L805.2 585.5M801.7 585.5L808.7 585.5M801.7 591.9L805.2 591.9M801.7 591.9L808.7 591.9M801.7 598.2L805.2 598.2M801.7 598.2L808.7 598.2M805.2 579.2L808.7 579.2M805.2 585.5L808.7 585.5M805.2 591.9L808.7 591.9M805.2 598.2L808.7 598.2M808.7 579.2L810.5 577.7M808.7 579.2L812.2 576.1M808.7 579.2L812.2 582.4M808.7 585.5L810.5 584M808.7 585.5L810.5 587.1M808.7 585.5L812.2 582.4M808.7 585.5L812.2 588.7M808.7 591.9L810.5 590.3M808.7 591.9L810.5 593.4M808.7 591.9L812.2 588.7M808.7 591.9L812.2 595M808.7 598.2L810.5 599.7M808.7 598.2L812.2 595M808.7 598.2L812.2 601.3M810.4 574.5L812.2 576.1M810.4 580.8L812.2 582.4M810.4 587.1L812.2 588.7M810.4 593.4L812.2 595M810.5 584L812.2 582.4M810.5 590.3L812.2 588.7M810.5 596.6L812.2 595M810.5 602.9L812.2 601.3M812.2 576.1L819.2 576.1M812.2 582.4L815.7 582.4M812.2 582.4L819.2 582.4M812.2 588.7L815.7 588.7M812.2 588.7L819.2 588.7M812.2 595L815.7 595M812.2 595L819.2 595M812.2 601.3L819.2 601.3M815.7 582.4L819.2 582.4M815.7 588.7L819.2 588.7M815.7 595L819.2 595M819.2 576.1L821 574.5M819.2 576.1L822.7 579.2M819.2 582.4L821 580.8M819.2 582.4L821 584M819.2 582.4L822.7 579.2M819.2 582.4L822.7 585.5M819.2 588.7L821 587.1M819.2 588.7L821 590.3M819.2 588.7L822.7 585.5M819.2 588.7L822.7 591.9M819.2 595L821 593.4M819.2 595L821 596.6M819.2 595L822.7 591.9M819.2 595L822.7 598.2M819.2 601.3L821 602.9M819.2 601.3L822.7 598.2M820.9 577.7L822.7 579.2M820.9 584L822.7 585.5M820.9 590.3L822.7 591.9M821 587.1L822.7 585.5M821 593.4L822.7 591.9M821 599.7L822.7 598.2M822.7 579.2L826.2 579.2M822.7 579.2L829.7 579.2M822.7 585.5L826.2 585.5M822.7 585.5L829.7 585.5M822.7 591.9L826.2 591.9M822.7 591.9L829.7 591.9M822.7 598.2L826.2 598.2M822.7 598.2L829.7 598.2M826.2 585.5L829.7 585.5M826.2 591.9L829.7 591.9M829.7 579.2L831.4 577.7M829.7 579.2L833.2 582.4M829.7 585.5L831.4 584M829.7 585.5L831.4 587.1M829.7 585.5L833.2 582.4M829.7 585.5L833.2 588.7M829.7 591.9L831.4 590.3M829.7 591.9L831.4 593.4M829.7 591.9L833.2 588.7M829.7 591.9L833.2 595M829.7 598.2L831.4 599.7M829.7 598.2L833.2 595M831.4 580.8L833.2 582.4M831.4 587.1L833.2 588.7M831.4 590.3L833.2 588.7M831.4 596.6L833.2 595M833.2 582.4L836.7 582.4M833.2 582.4L840.2 582.4M833.2 588.7L836.7 588.7M833.2 588.7L840.2 588.7M833.2 595L836.7 595M833.2 595L840.2 595M840.2 582.4L842 580.8M840.2 582.4L843.7 585.5M840.2 588.7L842 587.1M840.2 588.7L842 590.3M840.2 588.7L843.7 585.5M840.2 588.7L843.7 591.9M840.2 595L842 596.6M840.2 595L843.7 591.9M843.7 585.5L847.2 585.5M843.7 591.9L847.2 591.9" fill="none" stroke="#2a2a9c" stroke-width="2.7" stroke-linecap="round"/><path d="M797.4 574.7a3 2.6 0 1 0 6 0a3 2.6 0 1 0 -6 0M782.3 559.5a3.2 3 0 1 0 6.4 0a3.2 3 0 1 0 -6.4 0M792.4 563.7a2.8 2.2 0 1 0 5.5 0a2.8 2.2 0 1 0 -5.5 0M801 564.7a3.8 3.1 0 1 0 7.5 0a3.8 3.1 0 1 0 -7.5 0M791.4 559.2a3.8 3.1 0 1 0 7.5 0a3.8 3.1 0 1 0 -7.5 0M807.5 552.7a2.8 2.6 0 1 0 5.6 0a2.8 2.6 0 1 0 -5.6 0M780.9 555.7a3.7 3.7 0 1 0 7.4 0a3.7 3.7 0 1 0 -7.4 0M813.8 555.9a3.3 3.2 0 1 0 6.6 0a3.3 3.2 0 1 0 -6.6 0M797.2 555.6a3.6 3.2 0 1 0 7.2 0a3.6 3.2 0 1 0 -7.2 0M804.8 546.8a3.4 2.8 0 1 0 6.8 0a3.4 2.8 0 1 0 -6.8 0M795.1 566.1a2.9 2.9 0 1 0 5.8 0a2.9 2.9 0 1 0 -5.8 0M802 572.5a3.1 2.4 0 1 0 6.2 0a3.1 2.4 0 1 0 -6.2 0M788.6 556.1a2.9 2.7 0 1 0 5.7 0a2.9 2.7 0 1 0 -5.7 0M785 571.7a2.6 2.2 0 1 0 5.2 0a2.6 2.2 0 1 0 -5.2 0M811.6 560a2.7 2.1 0 1 0 5.5 0a2.7 2.1 0 1 0 -5.5 0M811.5 568.4a3.3 2.6 0 1 0 6.7 0a3.3 2.6 0 1 0 -6.7 0M798.7 551.8a3.8 3.1 0 1 0 7.5 0a3.8 3.1 0 1 0 -7.5 0M800.4 560.3a3 2.6 0 1 0 6 0a3 2.6 0 1 0 -6 0M799 543.4a3.5 3.3 0 1 0 6.9 0a3.5 3.3 0 1 0 -6.9 0M782.5 567.5a3.8 3.2 0 1 0 7.6 0a3.8 3.2 0 1 0 -7.6 0M815.4 567.2a3.5 3.3 0 1 0 7.1 0a3.5 3.3 0 1 0 -7.1 0M795.3 550.9a3.4 2.7 0 1 0 6.8 0a3.4 2.7 0 1 0 -6.8 0M816.4 553.9a3.8 3.2 0 1 0 7.6 0a3.8 3.2 0 1 0 -7.6 0M811.1 547.6a3.2 2.7 0 1 0 6.4 0a3.2 2.7 0 1 0 -6.4 0M817.5 561.6a3.8 3.2 0 1 0 7.7 0a3.8 3.2 0 1 0 -7.7 0M791.6 554.8a3.3 2.8 0 1 0 6.5 0a3.3 2.8 0 1 0 -6.5 0M792.1 546a3.2 2.5 0 1 0 6.4 0a3.2 2.5 0 1 0 -6.4 0M810.5 573.4a3 2.7 0 1 0 6.1 0a3 2.7 0 1 0 -6.1 0M808 566.2a3.4 2.6 0 1 0 6.8 0a3.4 2.6 0 1 0 -6.8 0M779 565.7a3.3 3 0 1 0 6.7 0a3.3 3 0 1 0 -6.7 0M785.4 550.2a3.6 2.9 0 1 0 7.2 0a3.6 2.9 0 1 0 -7.2 0M790.1 576.8a3.2 2.5 0 1 0 6.4 0a3.2 2.5 0 1 0 -6.4 0M781.7 549.3a3.4 2.8 0 1 0 6.8 0a3.4 2.8 0 1 0 -6.8 0M787.6 545.6a2.9 2.6 0 1 0 5.9 0a2.9 2.6 0 1 0 -5.9 0M805.9 562.1a2.6 2.5 0 1 0 5.2 0a2.6 2.5 0 1 0 -5.2 0M805.7 573.4a3.2 3 0 1 0 6.4 0a3.2 3 0 1 0 -6.4 0M798.2 569.3a2.7 2.2 0 1 0 5.4 0a2.7 2.2 0 1 0 -5.4 0M803.6 569.2a3.5 2.6 0 1 0 6.9 0a3.5 2.6 0 1 0 -6.9 0M805.6 577.3a3.1 2.9 0 1 0 6.1 0a3.1 2.9 0 1 0 -6.1 0M786.2 568.6a3.7 2.8 0 1 0 7.4 0a3.7 2.8 0 1 0 -7.4 0M814.2 551.5a3.2 2.9 0 1 0 6.5 0a3.2 2.9 0 1 0 -6.5 0M776.9 561.6a3.7 3.7 0 1 0 7.4 0a3.7 3.7 0 1 0 -7.4 0M798.6 547.2a3.8 3.3 0 1 0 7.7 0a3.8 3.3 0 1 0 -7.7 0M792.3 568.1a2.7 2.5 0 1 0 5.4 0a2.7 2.5 0 1 0 -5.4 0M795.8 544.8a3.1 2.8 0 1 0 6.2 0a3.1 2.8 0 1 0 -6.2 0M813.5 562.7a3.6 3.1 0 1 0 7.2 0a3.6 3.1 0 1 0 -7.2 0M794.5 577.2a3.3 3 0 1 0 6.6 0a3.3 3 0 1 0 -6.6 0M791 550.4a3.4 3.1 0 1 0 6.9 0a3.4 3.1 0 1 0 -6.9 0M814.1 571.9a2.8 2.2 0 1 0 5.7 0a2.8 2.2 0 1 0 -5.7 0M786.5 574.9a3.6 2.9 0 1 0 7.3 0a3.6 2.9 0 1 0 -7.3 0" fill="none" stroke="#239c9e" stroke-width="1.4"/><path d="M787.2 584.1a3.6 3 0 1 0 7.2 0a3.6 3 0 1 0 -7.2 0M779.7 589.3a3.2 2.7 0 1 0 6.4 0a3.2 2.7 0 1 0 -6.4 0M783.9 575.6a2.8 2.5 0 1 0 5.5 0a2.8 2.5 0 1 0 -5.5 0M805.6 589.1a3.4 2.8 0 1 0 6.7 0a3.4 2.8 0 1 0 -6.7 0M784.5 568.6a3.5 2.9 0 1 0 7 0a3.5 2.9 0 1 0 -7 0M793 591.8a3.4 2.7 0 1 0 6.7 0a3.4 2.7 0 1 0 -6.7 0M797.6 572.9a3.1 2.4 0 1 0 6.2 0a3.1 2.4 0 1 0 -6.2 0M768.3 577a2.6 2.2 0 1 0 5.2 0a2.6 2.2 0 1 0 -5.2 0M781.1 565.6a2.8 2.6 0 1 0 5.7 0a2.8 2.6 0 1 0 -5.7 0M793.1 564.4a3.2 2.7 0 1 0 6.4 0a3.2 2.7 0 1 0 -6.4 0M796.1 587.6a3.4 2.9 0 1 0 6.7 0a3.4 2.9 0 1 0 -6.7 0M809 577.1a2.8 2.4 0 1 0 5.6 0a2.8 2.4 0 1 0 -5.6 0M803.9 580.7a3.1 3 0 1 0 6.3 0a3.1 3 0 1 0 -6.3 0M797.8 593.5a2.8 2.5 0 1 0 5.6 0a2.8 2.5 0 1 0 -5.6 0M774.4 594.8a3.3 2.8 0 1 0 6.6 0a3.3 2.8 0 1 0 -6.6 0M787.5 572.9a2.9 2.2 0 1 0 5.8 0a2.9 2.2 0 1 0 -5.8 0M792.5 569a3 2.4 0 1 0 6.1 0a3 2.4 0 1 0 -6.1 0M788 566a2.9 2.4 0 1 0 5.8 0a2.9 2.4 0 1 0 -5.8 0M786.2 598.2a3.3 3.1 0 1 0 6.6 0a3.3 3.1 0 1 0 -6.6 0M798.6 583.2a2.6 2 0 1 0 5.3 0a2.6 2 0 1 0 -5.3 0M771.3 582.6a3 2.9 0 1 0 6 0a3 2.9 0 1 0 -6 0M773.9 568.1a3.4 3 0 1 0 6.8 0a3.4 3 0 1 0 -6.8 0M784.9 594.1a3.6 3.4 0 1 0 7.1 0a3.6 3.4 0 1 0 -7.1 0M809.8 587a3 2.7 0 1 0 5.9 0a3 2.7 0 1 0 -5.9 0M777.8 592.1a2.7 2.5 0 1 0 5.4 0a2.7 2.5 0 1 0 -5.4 0M772.5 592.1a2.6 2.5 0 1 0 5.2 0a2.6 2.5 0 1 0 -5.2 0M781.1 585.6a3.3 2.8 0 1 0 6.7 0a3.3 2.8 0 1 0 -6.7 0M802.4 585.1a3.1 2.8 0 1 0 6.3 0a3.1 2.8 0 1 0 -6.3 0M771.3 577.2a3.3 2.8 0 1 0 6.7 0a3.3 2.8 0 1 0 -6.7 0M790.5 593.5a2.7 2.6 0 1 0 5.3 0a2.7 2.6 0 1 0 -5.3 0M801.3 570a3.4 2.6 0 1 0 6.7 0a3.4 2.6 0 1 0 -6.7 0M781.3 593.1a3.7 3 0 1 0 7.4 0a3.7 3 0 1 0 -7.4 0M770.5 587.1a3.4 3.1 0 1 0 6.9 0a3.4 3.1 0 1 0 -6.9 0M769 572.2a3.3 3.2 0 1 0 6.6 0a3.3 3.2 0 1 0 -6.6 0M794.2 572.7a2.9 2.4 0 1 0 5.8 0a2.9 2.4 0 1 0 -5.8 0M775 584.7a3.2 2.7 0 1 0 6.3 0a3.2 2.7 0 1 0 -6.3 0M797.8 577.6a2.7 2.4 0 1 0 5.3 0a2.7 2.4 0 1 0 -5.3 0M777.1 574.9a2.7 2.1 0 1 0 5.4 0a2.7 2.1 0 1 0 -5.4 0M784.6 563.7a3.2 3.2 0 1 0 6.4 0a3.2 3.2 0 1 0 -6.4 0M783.4 579.5a2.7 2.6 0 1 0 5.4 0a2.7 2.6 0 1 0 -5.4 0M779.1 597.7a3.8 3 0 1 0 7.5 0a3.8 3 0 1 0 -7.5 0M787.8 577.7a3.1 2.6 0 1 0 6.2 0a3.1 2.6 0 1 0 -6.2 0M808.5 582.9a2.6 2.2 0 1 0 5.3 0a2.6 2.2 0 1 0 -5.3 0M806.7 571.9a3.3 3 0 1 0 6.7 0a3.3 3 0 1 0 -6.7 0M802.6 573.3a3.7 3.4 0 1 0 7.3 0a3.7 3.4 0 1 0 -7.3 0M779.2 572.2a3.7 2.9 0 1 0 7.4 0a3.7 2.9 0 1 0 -7.4 0M793.9 580.7a3.2 2.8 0 1 0 6.3 0a3.2 2.8 0 1 0 -6.3 0M775.3 578.2a3.2 2.5 0 1 0 6.5 0a3.2 2.5 0 1 0 -6.5 0M773.9 572.6a2.7 2.7 0 1 0 5.5 0a2.7 2.7 0 1 0 -5.5 0M806.4 593.3a2.7 2.1 0 1 0 5.4 0a2.7 2.1 0 1 0 -5.4 0M784 590.2a3.5 3.3 0 1 0 7 0a3.5 3.3 0 1 0 -7 0M779.4 582.4a3.2 2.6 0 1 0 6.5 0a3.2 2.6 0 1 0 -6.5 0M767.2 581.1a3.3 2.9 0 1 0 6.6 0a3.3 2.9 0 1 0 -6.6 0M792.1 576.6a3.6 3.2 0 1 0 7.2 0a3.6 3.2 0 1 0 -7.2 0M790.4 599.2a3.8 3.3 0 1 0 7.6 0a3.8 3.3 0 1 0 -7.6 0M802.3 590.8a3.2 2.8 0 1 0 6.4 0a3.2 2.8 0 1 0 -6.4 0" fill="none" stroke="#a44a72" stroke-width="1.4"/>
<path d="M892.4 588.2L895.9 588.2M892.4 594.6L895.9 594.6M895.9 588.2L899.4 585.1M895.9 588.2L899.4 591.4M895.9 594.6L899.4 591.4M895.9 594.6L899.4 597.7M897.6 583.5L899.4 585.1M897.6 589.8L899.4 591.4M897.6 593L899.4 591.4M897.6 599.3L899.4 597.7M899.4 585.1L906.4 585.1M899.4 591.4L906.4 591.4M899.4 597.7L906.4 597.7M902.9 585.1L906.4 585.1M902.9 591.4L906.4 591.4M902.9 597.7L906.4 597.7M906.4 585.1L908.2 583.5M906.4 585.1L909.9 581.9M906.4 585.1L909.9 588.2M906.4 591.4L908.2 589.8M906.4 591.4L908.2 593M906.4 591.4L909.9 588.2M906.4 591.4L909.9 594.6M906.4 597.7L908.2 599.3M906.4 597.7L909.9 594.6M906.4 597.7L909.9 600.9M908.1 580.4L909.9 581.9M908.1 586.7L909.9 588.2M908.1 593L909.9 594.6M908.2 589.8L909.9 588.2M908.2 596.1L909.9 594.6M908.2 602.4L909.9 600.9M909.9 581.9L916.9 581.9M909.9 588.2L913.4 588.2M909.9 588.2L916.9 588.2M909.9 594.6L913.4 594.6M909.9 594.6L916.9 594.6M909.9 600.9L916.9 600.9M913.4 581.9L916.9 581.9M913.4 588.2L916.9 588.2M913.4 594.6L916.9 594.6M913.4 600.9L916.9 600.9M916.9 581.9L918.6 580.4M916.9 581.9L920.4 578.8M916.9 581.9L920.4 585.1M916.9 588.2L918.6 586.7M916.9 588.2L918.6 589.8M916.9 588.2L920.4 585.1M916.9 588.2L920.4 591.4M916.9 594.6L918.6 593M916.9 594.6L918.6 596.1M916.9 594.6L920.4 591.4M916.9 594.6L920.4 597.7M916.9 600.9L918.6 602.4M916.9 600.9L920.4 597.7M916.9 600.9L920.4 604M918.6 577.2L920.4 578.8M918.6 583.5L920.4 585.1M918.6 589.8L920.4 591.4M918.6 596.1L920.4 597.7M918.7 586.7L920.4 585.1M918.7 593L920.4 591.4M918.7 599.3L920.4 597.7M918.7 605.6L920.4 604M920.4 578.8L927.4 578.8M920.4 585.1L923.9 585.1M920.4 585.1L927.4 585.1M920.4 591.4L923.9 591.4M920.4 591.4L927.4 591.4M920.4 597.7L923.9 597.7M920.4 597.7L927.4 597.7M920.4 604L927.4 604M923.9 585.1L927.4 585.1M923.9 591.4L927.4 591.4M923.9 597.7L927.4 597.7M927.4 578.8L929.2 577.2M927.4 578.8L930.9 581.9M927.4 585.1L929.2 583.5M927.4 585.1L929.2 586.7M927.4 585.1L930.9 581.9M927.4 585.1L930.9 588.2M927.4 591.4L929.2 589.8M927.4 591.4L929.2 593M927.4 591.4L930.9 588.2M927.4 591.4L930.9 594.6M927.4 597.7L929.2 596.1M927.4 597.7L929.2 599.3M927.4 597.7L930.9 594.6M927.4 597.7L930.9 600.9M927.4 604L929.2 605.6M927.4 604L930.9 600.9M929.1 580.4L930.9 581.9M929.1 586.7L930.9 588.2M929.1 593L930.9 594.6M929.2 589.8L930.9 588.2M929.2 596.1L930.9 594.6M929.2 602.4L930.9 600.9M930.9 581.9L934.4 581.9M930.9 581.9L937.9 581.9M930.9 588.2L934.4 588.2M930.9 588.2L937.9 588.2M930.9 594.6L934.4 594.6M930.9 594.6L937.9 594.6M930.9 600.9L934.4 600.9M930.9 600.9L937.9 600.9M934.4 581.9L937.9 581.9M934.4 588.2L937.9 588.2M934.4 594.6L937.9 594.6M934.4 600.9L937.9 600.9M937.9 581.9L939.7 580.4M937.9 581.9L941.4 578.8M937.9 581.9L941.4 585.1M937.9 588.2L939.7 586.7M937.9 588.2L939.7 589.8M937.9 588.2L941.4 585.1M937.9 588.2L941.4 591.4M937.9 594.6L939.7 593M937.9 594.6L939.7 596.1M937.9 594.6L941.4 591.4M937.9 594.6L941.4 597.7M937.9 600.9L939.7 602.4M937.9 600.9L941.4 597.7M937.9 600.9L941.4 604M939.6 577.2L941.4 578.8M939.6 583.5L941.4 585.1M939.6 589.8L941.4 591.4M939.6 596.1L941.4 597.7M939.7 586.7L941.4 585.1M939.7 593L941.4 591.4M939.7 599.3L941.4 597.7M939.7 605.6L941.4 604M941.4 578.8L948.4 578.8M941.4 585.1L944.9 585.1M941.4 585.1L948.4 585.1M941.4 591.4L944.9 591.4M941.4 591.4L948.4 591.4M941.4 597.7L944.9 597.7M941.4 597.7L948.4 597.7M941.4 604L948.4 604M944.9 585.1L948.4 585.1M944.9 591.4L948.4 591.4M944.9 597.7L948.4 597.7M948.4 578.8L950.2 577.2M948.4 578.8L951.9 581.9M948.4 585.1L950.2 583.5M948.4 585.1L950.2 586.7M948.4 585.1L951.9 581.9M948.4 585.1L951.9 588.2M948.4 591.4L950.2 589.8M948.4 591.4L950.2 593M948.4 591.4L951.9 588.2M948.4 591.4L951.9 594.6M948.4 597.7L950.2 596.1M948.4 597.7L950.2 599.3M948.4 597.7L951.9 594.6M948.4 597.7L951.9 600.9M948.4 604L950.2 605.6M948.4 604L951.9 600.9M950.1 580.4L951.9 581.9M950.1 586.7L951.9 588.2M950.1 593L951.9 594.6M950.2 589.8L951.9 588.2M950.2 596.1L951.9 594.6M950.2 602.4L951.9 600.9M951.9 581.9L955.4 581.9M951.9 581.9L958.9 581.9M951.9 588.2L955.4 588.2M951.9 588.2L958.9 588.2M951.9 594.6L955.4 594.6M951.9 594.6L958.9 594.6M951.9 600.9L955.4 600.9M951.9 600.9L958.9 600.9M955.4 588.2L958.9 588.2M955.4 594.6L958.9 594.6M958.9 581.9L960.6 580.4M958.9 581.9L962.4 585.1M958.9 588.2L960.6 586.7M958.9 588.2L960.6 589.8M958.9 588.2L962.4 585.1M958.9 588.2L962.4 591.4M958.9 594.6L960.6 593M958.9 594.6L960.6 596.1M958.9 594.6L962.4 591.4M958.9 594.6L962.4 597.7M958.9 600.9L960.6 602.4M958.9 600.9L962.4 597.7M960.6 583.5L962.4 585.1M960.6 589.8L962.4 591.4M960.6 593L962.4 591.4M960.6 599.3L962.4 597.7M962.4 585.1L965.9 585.1M962.4 585.1L969.4 585.1M962.4 591.4L965.9 591.4M962.4 591.4L969.4 591.4M962.4 597.7L965.9 597.7M962.4 597.7L969.4 597.7M969.4 585.1L971.2 583.5M969.4 585.1L972.9 588.2M969.4 591.4L971.2 589.8M969.4 591.4L971.2 593M969.4 591.4L972.9 588.2M969.4 591.4L972.9 594.6M969.4 597.7L971.2 599.3M969.4 597.7L972.9 594.6M972.9 588.2L976.4 588.2M972.9 594.6L976.4 594.6" fill="none" stroke="#2a2a9c" stroke-width="2.7" stroke-linecap="round"/><path d="M914.4 564a2.6 2.6 0 1 0 5.1 0a2.6 2.6 0 1 0 -5.1 0M911.6 548.2a2.6 2.1 0 1 0 5.3 0a2.6 2.1 0 1 0 -5.3 0M915.3 571.4a3.5 3 0 1 0 7.1 0a3.5 3 0 1 0 -7.1 0M907.2 553.8a2.6 2.4 0 1 0 5.2 0a2.6 2.4 0 1 0 -5.2 0M907.2 546.3a3.7 3.2 0 1 0 7.4 0a3.7 3.2 0 1 0 -7.4 0M929.7 550.1a2.7 2.2 0 1 0 5.5 0a2.7 2.2 0 1 0 -5.5 0M932.8 559.9a2.9 2.2 0 1 0 5.9 0a2.9 2.2 0 1 0 -5.9 0M915.6 555.5a2.6 2.2 0 1 0 5.3 0a2.6 2.2 0 1 0 -5.3 0M921.1 562a3.6 3 0 1 0 7.3 0a3.6 3 0 1 0 -7.3 0M903.7 552.1a2.8 2.5 0 1 0 5.7 0a2.8 2.5 0 1 0 -5.7 0M921.2 552.8a2.7 2.5 0 1 0 5.4 0a2.7 2.5 0 1 0 -5.4 0M927.2 564.1a3.5 3.3 0 1 0 6.9 0a3.5 3.3 0 1 0 -6.9 0M920.5 567.1a3.2 2.8 0 1 0 6.4 0a3.2 2.8 0 1 0 -6.4 0M922.3 558.3a2.7 2.5 0 1 0 5.4 0a2.7 2.5 0 1 0 -5.4 0M908.9 564.2a2.9 2.5 0 1 0 5.8 0a2.9 2.5 0 1 0 -5.8 0M938.4 552.4a3.2 2.7 0 1 0 6.5 0a3.2 2.7 0 1 0 -6.5 0M921.2 573.3a3.2 3.2 0 1 0 6.4 0a3.2 3.2 0 1 0 -6.4 0M928.2 559.5a3.4 2.8 0 1 0 6.8 0a3.4 2.8 0 1 0 -6.8 0M900.2 556.6a2.6 2.1 0 1 0 5.3 0a2.6 2.1 0 1 0 -5.3 0M940.4 566.2a3.3 2.7 0 1 0 6.5 0a3.3 2.7 0 1 0 -6.5 0M903.5 560.8a3.4 2.8 0 1 0 6.7 0a3.4 2.8 0 1 0 -6.7 0M932.8 570.3a3.3 3.2 0 1 0 6.6 0a3.3 3.2 0 1 0 -6.6 0M921.3 545.5a3.6 2.8 0 1 0 7.2 0a3.6 2.8 0 1 0 -7.2 0M939.5 547.8a3.1 2.4 0 1 0 6.3 0a3.1 2.4 0 1 0 -6.3 0M930.6 545.6a3.5 3.2 0 1 0 7.1 0a3.5 3.2 0 1 0 -7.1 0M929.7 577a3.2 2.4 0 1 0 6.3 0a3.2 2.4 0 1 0 -6.3 0M928.5 568.4a3.5 3.1 0 1 0 7.1 0a3.5 3.1 0 1 0 -7.1 0M914.5 574.6a2.6 2.1 0 1 0 5.2 0a2.6 2.1 0 1 0 -5.2 0M937.2 563.3a3.4 3.1 0 1 0 6.7 0a3.4 3.1 0 1 0 -6.7 0M925.3 571.3a2.9 2.3 0 1 0 5.7 0a2.9 2.3 0 1 0 -5.7 0M933.2 555.7a3 2.6 0 1 0 5.9 0a3 2.6 0 1 0 -5.9 0M942.6 562.2a3.3 2.7 0 1 0 6.5 0a3.3 2.7 0 1 0 -6.5 0M923.7 549.7a3.1 2.9 0 1 0 6.2 0a3.1 2.9 0 1 0 -6.2 0M924.3 555.2a3.6 3.4 0 1 0 7.2 0a3.6 3.4 0 1 0 -7.2 0M917 561.6a2.9 2.8 0 1 0 5.8 0a2.9 2.8 0 1 0 -5.8 0M925.4 544.4a3 2.8 0 1 0 6 0a3 2.8 0 1 0 -6 0M906.1 573.3a3.6 3.5 0 1 0 7.2 0a3.6 3.5 0 1 0 -7.2 0M935.7 573.1a3.4 2.9 0 1 0 6.8 0a3.4 2.9 0 1 0 -6.8 0M942 556.8a3.3 2.6 0 1 0 6.5 0a3.3 2.6 0 1 0 -6.5 0M900.3 564.7a3.3 3.2 0 1 0 6.5 0a3.3 3.2 0 1 0 -6.5 0M909.2 557.5a3.6 3.3 0 1 0 7.2 0a3.6 3.3 0 1 0 -7.2 0M928 573.6a3.7 3.6 0 1 0 7.5 0a3.7 3.6 0 1 0 -7.5 0M916 545.1a2.8 2.7 0 1 0 5.5 0a2.8 2.7 0 1 0 -5.5 0M935.1 566.3a2.7 2.3 0 1 0 5.4 0a2.7 2.3 0 1 0 -5.4 0M920.4 576.9a3.3 2.8 0 1 0 6.6 0a3.3 2.8 0 1 0 -6.6 0M903.7 565a3.8 3 0 1 0 7.5 0a3.8 3 0 1 0 -7.5 0M936.9 557a3 2.5 0 1 0 5.9 0a3 2.5 0 1 0 -5.9 0M924.2 567.5a3.3 2.5 0 1 0 6.6 0a3.3 2.5 0 1 0 -6.6 0M904.4 570a2.7 2.1 0 1 0 5.5 0a2.7 2.1 0 1 0 -5.5 0M916.6 549.2a3.5 3.1 0 1 0 7.1 0a3.5 3.1 0 1 0 -7.1 0M934.7 546.6a3.4 2.7 0 1 0 6.8 0a3.4 2.7 0 1 0 -6.8 0M914.5 567.7a2.8 2.7 0 1 0 5.6 0a2.8 2.7 0 1 0 -5.6 0M925.8 577.7a2.7 2.4 0 1 0 5.3 0a2.7 2.4 0 1 0 -5.3 0M942.7 551.9a3 2.6 0 1 0 6 0a3 2.6 0 1 0 -6 0M917.6 541.6a3.1 3 0 1 0 6.2 0a3.1 3 0 1 0 -6.2 0M937.5 569.2a3.7 2.9 0 1 0 7.3 0a3.7 2.9 0 1 0 -7.3 0" fill="none" stroke="#a44a72" stroke-width="1.4"/><path d="M919.6 569.4a3.8 3.2 0 1 0 7.7 0a3.8 3.2 0 1 0 -7.7 0M940.4 561.5a3.5 3.2 0 1 0 7 0a3.5 3.2 0 1 0 -7 0M942.8 582.9a3.5 2.9 0 1 0 6.9 0a3.5 2.9 0 1 0 -6.9 0M933.3 570.8a3.4 2.8 0 1 0 6.9 0a3.4 2.8 0 1 0 -6.9 0M951.9 564.1a3.5 2.7 0 1 0 7.1 0a3.5 2.7 0 1 0 -7.1 0M935.4 557.2a3 2.4 0 1 0 6 0a3 2.4 0 1 0 -6 0M954.3 570.8a3 2.6 0 1 0 6 0a3 2.6 0 1 0 -6 0M934.8 561.6a3.6 2.9 0 1 0 7.3 0a3.6 2.9 0 1 0 -7.3 0M920.2 563.9a2.6 2.4 0 1 0 5.2 0a2.6 2.4 0 1 0 -5.2 0M937.7 579.3a3.8 3 0 1 0 7.5 0a3.8 3 0 1 0 -7.5 0M937.5 583.1a2.6 2.2 0 1 0 5.3 0a2.6 2.2 0 1 0 -5.3 0M929.9 561.1a3.8 3.1 0 1 0 7.7 0a3.8 3.1 0 1 0 -7.7 0M952.4 557.7a3.7 2.9 0 1 0 7.4 0a3.7 2.9 0 1 0 -7.4 0M926.1 568.8a3 2.7 0 1 0 5.9 0a3 2.7 0 1 0 -5.9 0M947 574.9a2.7 2.6 0 1 0 5.4 0a2.7 2.6 0 1 0 -5.4 0M952.3 575.7a3.2 2.8 0 1 0 6.5 0a3.2 2.8 0 1 0 -6.5 0M942.3 575.7a3.8 3.5 0 1 0 7.6 0a3.8 3.5 0 1 0 -7.6 0M930.5 565.3a2.8 2.3 0 1 0 5.6 0a2.8 2.3 0 1 0 -5.6 0M934.4 577.3a3.6 3 0 1 0 7.2 0a3.6 3 0 1 0 -7.2 0M943 550.5a2.7 2.1 0 1 0 5.4 0a2.7 2.1 0 1 0 -5.4 0M948.3 570.9a3 2.5 0 1 0 5.9 0a3 2.5 0 1 0 -5.9 0M940.5 555a2.7 2.2 0 1 0 5.4 0a2.7 2.2 0 1 0 -5.4 0M927.1 553.7a3.4 2.6 0 1 0 6.7 0a3.4 2.6 0 1 0 -6.7 0M928.1 573.1a2.7 2.6 0 1 0 5.4 0a2.7 2.6 0 1 0 -5.4 0M940.3 568.2a3.3 2.9 0 1 0 6.6 0a3.3 2.9 0 1 0 -6.6 0M930.2 579.1a2.7 2.5 0 1 0 5.4 0a2.7 2.5 0 1 0 -5.4 0M935.8 551.8a2.9 2.5 0 1 0 5.8 0a2.9 2.5 0 1 0 -5.8 0M938 575.5a3.5 3 0 1 0 6.9 0a3.5 3 0 1 0 -6.9 0M946.9 565a3.4 3.2 0 1 0 6.9 0a3.4 3.2 0 1 0 -6.9 0M958.8 567.3a2.9 2.9 0 1 0 5.8 0a2.9 2.9 0 1 0 -5.8 0M931.9 574.9a2.9 2.4 0 1 0 5.7 0a2.9 2.4 0 1 0 -5.7 0M949.4 561.9a3.1 2.6 0 1 0 6.3 0a3.1 2.6 0 1 0 -6.3 0M948.1 558.1a2.7 2.4 0 1 0 5.4 0a2.7 2.4 0 1 0 -5.4 0M922.9 577.2a3.8 3.7 0 1 0 7.6 0a3.8 3.7 0 1 0 -7.6 0M950.3 552.2a3.4 3.3 0 1 0 6.8 0a3.4 3.3 0 1 0 -6.8 0M943.6 555.9a3.8 3.2 0 1 0 7.6 0a3.8 3.2 0 1 0 -7.6 0M931.5 555.3a2.6 2.1 0 1 0 5.1 0a2.6 2.1 0 1 0 -5.1 0M955.5 576a3.6 2.7 0 1 0 7.1 0a3.6 2.7 0 1 0 -7.1 0M955.8 560.3a3.7 2.9 0 1 0 7.3 0a3.7 2.9 0 1 0 -7.3 0M959.8 563.1a2.8 2.3 0 1 0 5.7 0a2.8 2.3 0 1 0 -5.7 0M938 549.2a3.3 2.7 0 1 0 6.7 0a3.3 2.7 0 1 0 -6.7 0M921.2 574.3a2.9 2.3 0 1 0 5.9 0a2.9 2.3 0 1 0 -5.9 0M946 561.5a2.7 2.2 0 1 0 5.3 0a2.7 2.2 0 1 0 -5.3 0M946.2 550.2a3.8 3.4 0 1 0 7.5 0a3.8 3.4 0 1 0 -7.5 0M925.6 558.9a3.4 2.8 0 1 0 6.8 0a3.4 2.8 0 1 0 -6.8 0M920.7 556.6a3.3 3.2 0 1 0 6.6 0a3.3 3.2 0 1 0 -6.6 0M933.2 581.9a3.1 2.6 0 1 0 6.2 0a3.1 2.6 0 1 0 -6.2 0M944.3 570.9a2.8 2.3 0 1 0 5.7 0a2.8 2.3 0 1 0 -5.7 0M954.1 553.9a3.7 3.3 0 1 0 7.4 0a3.7 3.3 0 1 0 -7.4 0M945.9 580.3a3.1 2.9 0 1 0 6.1 0a3.1 2.9 0 1 0 -6.1 0" fill="none" stroke="#239c9e" stroke-width="1.4"/>
<path d="M837.3 634.2L840.8 634.2M837.3 640.6L840.8 640.6M840.8 634.2L844.3 631.1M840.8 634.2L844.3 637.4M840.8 640.6L844.3 637.4M840.8 640.6L844.3 643.7M842.5 629.5L844.3 631.1M842.5 635.8L844.3 637.4M842.5 639L844.3 637.4M842.5 645.3L844.3 643.7M844.3 631.1L851.3 631.1M844.3 637.4L851.3 637.4M844.3 643.7L851.3 643.7M847.8 631.1L851.3 631.1M847.8 637.4L851.3 637.4M847.8 643.7L851.3 643.7M851.3 631.1L853.1 629.5M851.3 631.1L854.8 627.9M851.3 631.1L854.8 634.2M851.3 637.4L853.1 635.8M851.3 637.4L853.1 639M851.3 637.4L854.8 634.2M851.3 637.4L854.8 640.6M851.3 643.7L853.1 645.3M851.3 643.7L854.8 640.6M851.3 643.7L854.8 646.9M853 626.4L854.8 627.9M853 632.7L854.8 634.2M853 639L854.8 640.6M853.1 635.8L854.8 634.2M853.1 642.1L854.8 640.6M853.1 648.4L854.8 646.9M854.8 627.9L861.8 627.9M854.8 634.2L858.3 634.2M854.8 634.2L861.8 634.2M854.8 640.6L858.3 640.6M854.8 640.6L861.8 640.6M854.8 646.9L861.8 646.9M858.3 627.9L861.8 627.9M858.3 634.2L861.8 634.2M858.3 640.6L861.8 640.6M858.3 646.9L861.8 646.9M861.8 627.9L863.5 626.4M861.8 627.9L865.3 624.8M861.8 627.9L865.3 631.1M861.8 634.2L863.5 632.7M861.8 634.2L863.5 635.8M861.8 634.2L865.3 631.1M861.8 634.2L865.3 637.4M861.8 640.6L863.5 639M861.8 640.6L863.5 642.1M861.8 640.6L865.3 637.4M861.8 640.6L865.3 643.7M861.8 646.9L863.5 648.4M861.8 646.9L865.3 643.7M861.8 646.9L865.3 650M863.5 623.2L865.3 624.8M863.5 629.5L865.3 631.1M863.5 635.8L865.3 637.4M863.5 642.1L865.3 643.7M863.6 632.7L865.3 631.1M863.6 639L865.3 637.4M863.6 645.3L865.3 643.7M863.6 651.6L865.3 650M865.3 624.8L872.3 624.8M865.3 631.1L868.8 631.1M865.3 631.1L872.3 631.1M865.3 637.4L868.8 637.4M865.3 637.4L872.3 637.4M865.3 643.7L868.8 643.7M865.3 643.7L872.3 643.7M865.3 650L872.3 650M868.8 631.1L872.3 631.1M868.8 637.4L872.3 637.4M868.8 643.7L872.3 643.7M872.3 624.8L874.1 623.2M872.3 624.8L875.8 627.9M872.3 631.1L874.1 629.5M872.3 631.1L874.1 632.7M872.3 631.1L875.8 627.9M872.3 631.1L875.8 634.2M872.3 637.4L874.1 635.8M872.3 637.4L874.1 639M872.3 637.4L875.8 634.2M872.3 637.4L875.8 640.6M872.3 643.7L874.1 642.1M872.3 643.7L874.1 645.3M872.3 643.7L875.8 640.6M872.3 643.7L875.8 646.9M872.3 650L874.1 651.6M872.3 650L875.8 646.9M874 626.4L875.8 627.9M874 632.7L875.8 634.2M874 639L875.8 640.6M874.1 635.8L875.8 634.2M874.1 642.1L875.8 640.6M874.1 648.4L875.8 646.9M875.8 627.9L879.3 627.9M875.8 627.9L882.8 627.9M875.8 634.2L879.3 634.2M875.8 634.2L882.8 634.2M875.8 640.6L879.3 640.6M875.8 640.6L882.8 640.6M875.8 646.9L879.3 646.9M875.8 646.9L882.8 646.9M879.3 627.9L882.8 627.9M879.3 634.2L882.8 634.2M879.3 640.6L882.8 640.6M879.3 646.9L882.8 646.9M882.8 627.9L884.6 626.4M882.8 627.9L886.3 624.8M882.8 627.9L886.3 631.1M882.8 634.2L884.6 632.7M882.8 634.2L884.6 635.8M882.8 634.2L886.3 631.1M882.8 634.2L886.3 637.4M882.8 640.6L884.6 639M882.8 640.6L884.6 642.1M882.8 640.6L886.3 637.4M882.8 640.6L886.3 643.7M882.8 646.9L884.6 648.4M882.8 646.9L886.3 643.7M882.8 646.9L886.3 650M884.5 623.2L886.3 624.8M884.5 629.5L886.3 631.1M884.5 635.8L886.3 637.4M884.5 642.1L886.3 643.7M884.6 632.7L886.3 631.1M884.6 639L886.3 637.4M884.6 645.3L886.3 643.7M884.6 651.6L886.3 650M886.3 624.8L893.3 624.8M886.3 631.1L889.8 631.1M886.3 631.1L893.3 631.1M886.3 637.4L889.8 637.4M886.3 637.4L893.3 637.4M886.3 643.7L889.8 643.7M886.3 643.7L893.3 643.7M886.3 650L893.3 650M889.8 631.1L893.3 631.1M889.8 637.4L893.3 637.4M889.8 643.7L893.3 643.7M893.3 624.8L895.1 623.2M893.3 624.8L896.8 627.9M893.3 631.1L895.1 629.5M893.3 631.1L895.1 632.7M893.3 631.1L896.8 627.9M893.3 631.1L896.8 634.2M893.3 637.4L895.1 635.8M893.3 637.4L895.1 639M893.3 637.4L896.8 634.2M893.3 637.4L896.8 640.6M893.3 643.7L895.1 642.1M893.3 643.7L895.1 645.3M893.3 643.7L896.8 640.6M893.3 643.7L896.8 646.9M893.3 650L895.1 651.6M893.3 650L896.8 646.9M895 626.4L896.8 627.9M895 632.7L896.8 634.2M895 639L896.8 640.6M895.1 635.8L896.8 634.2M895.1 642.1L896.8 640.6M895.1 648.4L896.8 646.9M896.8 627.9L900.3 627.9M896.8 627.9L903.8 627.9M896.8 634.2L900.3 634.2M896.8 634.2L903.8 634.2M896.8 640.6L900.3 640.6M896.8 640.6L903.8 640.6M896.8 646.9L900.3 646.9M896.8 646.9L903.8 646.9M900.3 634.2L903.8 634.2M900.3 640.6L903.8 640.6M903.8 627.9L905.5 626.4M903.8 627.9L907.3 631.1M903.8 634.2L905.5 632.7M903.8 634.2L905.5 635.8M903.8 634.2L907.3 631.1M903.8 634.2L907.3 637.4M903.8 640.6L905.5 639M903.8 640.6L905.5 642.1M903.8 640.6L907.3 637.4M903.8 640.6L907.3 643.7M903.8 646.9L905.5 648.4M903.8 646.9L907.3 643.7M905.5 629.5L907.3 631.1M905.5 635.8L907.3 637.4M905.5 639L907.3 637.4M905.5 645.3L907.3 643.7M907.3 631.1L910.8 631.1M907.3 631.1L914.3 631.1M907.3 637.4L910.8 637.4M907.3 637.4L914.3 637.4M907.3 643.7L910.8 643.7M907.3 643.7L914.3 643.7M914.3 631.1L916.1 629.5M914.3 631.1L917.8 634.2M914.3 637.4L916.1 635.8M914.3 637.4L916.1 639M914.3 637.4L917.8 634.2M914.3 637.4L917.8 640.6M914.3 643.7L916.1 645.3M914.3 643.7L917.8 640.6M917.8 634.2L921.3 634.2M917.8 640.6L921.3 640.6" fill="none" stroke="#2a2a9c" stroke-width="2.7" stroke-linecap="round"/><path d="M862.5 603.7a3.3 2.8 0 1 0 6.5 0a3.3 2.8 0 1 0 -6.5 0M877.6 592.7a3.1 3 0 1 0 6.3 0a3.1 3 0 1 0 -6.3 0M867.4 620.8a2.9 2.5 0 1 0 5.9 0a2.9 2.5 0 1 0 -5.9 0M853.9 591.7a2.7 2.3 0 1 0 5.3 0a2.7 2.3 0 1 0 -5.3 0M852.5 608.5a3.8 3.8 0 1 0 7.6 0a3.8 3.8 0 1 0 -7.6 0M875.2 599.1a3.1 3 0 1 0 6.1 0a3.1 3 0 1 0 -6.1 0M850.5 617.7a2.9 2.5 0 1 0 5.7 0a2.9 2.5 0 1 0 -5.7 0M873.1 618.3a3 2.5 0 1 0 6 0a3 2.5 0 1 0 -6 0M878.9 608.7a3.5 2.7 0 1 0 7 0a3.5 2.7 0 1 0 -7 0M842.6 602.8a3 2.4 0 1 0 5.9 0a3 2.4 0 1 0 -5.9 0M850.1 590.5a2.8 2.2 0 1 0 5.6 0a2.8 2.2 0 1 0 -5.6 0M863.5 591.7a3.6 3.1 0 1 0 7.3 0a3.6 3.1 0 1 0 -7.3 0M858.1 590.3a3.8 3.7 0 1 0 7.5 0a3.8 3.7 0 1 0 -7.5 0M859.6 594.1a2.6 2.4 0 1 0 5.2 0a2.6 2.4 0 1 0 -5.2 0M874.4 614.4a3.4 2.9 0 1 0 6.9 0a3.4 2.9 0 1 0 -6.9 0M875.7 604.4a3.2 2.7 0 1 0 6.4 0a3.2 2.7 0 1 0 -6.4 0M851 612.4a3.3 2.9 0 1 0 6.5 0a3.3 2.9 0 1 0 -6.5 0M872 606.2a2.8 2.1 0 1 0 5.5 0a2.8 2.1 0 1 0 -5.5 0M870.9 598.1a2.8 2.6 0 1 0 5.7 0a2.8 2.6 0 1 0 -5.7 0M856.3 616.4a2.8 2.7 0 1 0 5.7 0a2.8 2.7 0 1 0 -5.7 0M873.9 590.8a3.1 2.9 0 1 0 6.1 0a3.1 2.9 0 1 0 -6.1 0M863.7 611.6a2.7 2.7 0 1 0 5.5 0a2.7 2.7 0 1 0 -5.5 0M867.7 614.1a3.7 3 0 1 0 7.3 0a3.7 3 0 1 0 -7.3 0M847.2 601a3.1 2.7 0 1 0 6.2 0a3.1 2.7 0 1 0 -6.2 0M843.6 616.7a3.5 3 0 1 0 7.1 0a3.5 3 0 1 0 -7.1 0M860.7 607.4a3.2 2.8 0 1 0 6.4 0a3.2 2.8 0 1 0 -6.4 0M843.6 610.8a3 2.4 0 1 0 6 0a3 2.4 0 1 0 -6 0M856.5 601.8a2.6 2.2 0 1 0 5.3 0a2.6 2.2 0 1 0 -5.3 0M862.2 599.5a2.9 2.7 0 1 0 5.9 0a2.9 2.7 0 1 0 -5.9 0M869 591.2a2.7 2.5 0 1 0 5.4 0a2.7 2.5 0 1 0 -5.4 0M852.4 596.9a2.9 2.2 0 1 0 5.7 0a2.9 2.2 0 1 0 -5.7 0M846.7 607.2a3 2.8 0 1 0 6 0a3 2.8 0 1 0 -6 0M872.9 611.3a3.2 3.1 0 1 0 6.4 0a3.2 3.1 0 1 0 -6.4 0M868.8 601.9a3.5 2.9 0 1 0 7 0a3.5 2.9 0 1 0 -7 0M880.9 615a3.4 2.8 0 1 0 6.8 0a3.4 2.8 0 1 0 -6.8 0M862.3 595.6a3.6 3.6 0 1 0 7.2 0a3.6 3.6 0 1 0 -7.2 0M840.7 606.9a3.6 3.6 0 1 0 7.2 0a3.6 3.6 0 1 0 -7.2 0M858.8 620a3.3 3.1 0 1 0 6.5 0a3.3 3.1 0 1 0 -6.5 0M864.6 618.2a3 2.3 0 1 0 5.9 0a3 2.3 0 1 0 -5.9 0M866.6 587.7a3.2 3.1 0 1 0 6.3 0a3.2 3.1 0 1 0 -6.3 0M855.9 622.4a3 2.9 0 1 0 6.1 0a3 2.9 0 1 0 -6.1 0M882.6 607.2a3.2 2.8 0 1 0 6.4 0a3.2 2.8 0 1 0 -6.4 0M857.5 608.3a2.6 2.1 0 1 0 5.2 0a2.6 2.1 0 1 0 -5.2 0M882 597.1a2.9 2.4 0 1 0 5.7 0a2.9 2.4 0 1 0 -5.7 0M859.6 612.3a2.8 2.1 0 1 0 5.5 0a2.8 2.1 0 1 0 -5.5 0M867.6 607.3a3.3 2.6 0 1 0 6.6 0a3.3 2.6 0 1 0 -6.6 0M879.8 602a3.4 2.9 0 1 0 6.9 0a3.4 2.9 0 1 0 -6.9 0M847.1 614a3 2.7 0 1 0 5.9 0a3 2.7 0 1 0 -5.9 0M865.3 600.1a3.5 2.8 0 1 0 7 0a3.5 2.8 0 1 0 -7 0M843.4 596.4a3.5 2.8 0 1 0 6.9 0a3.5 2.8 0 1 0 -6.9 0M872.7 622a3 2.6 0 1 0 5.9 0a3 2.6 0 1 0 -5.9 0M848.7 595.6a2.8 2.3 0 1 0 5.6 0a2.8 2.3 0 1 0 -5.6 0M853.6 604.7a3.3 2.9 0 1 0 6.6 0a3.3 2.9 0 1 0 -6.6 0M855.4 597.6a3.5 3 0 1 0 7.1 0a3.5 3 0 1 0 -7.1 0M868.3 594.8a2.7 2.4 0 1 0 5.3 0a2.7 2.4 0 1 0 -5.3 0M853.3 620.1a2.8 2.2 0 1 0 5.6 0a2.8 2.2 0 1 0 -5.6 0" fill="none" stroke="#a44a72" stroke-width="1.4"/><path d="M869.8 615.6a3.2 3.2 0 1 0 6.4 0a3.2 3.2 0 1 0 -6.4 0M898.7 626.3a3.4 2.7 0 1 0 6.9 0a3.4 2.7 0 1 0 -6.9 0M903.2 613.6a3.3 2.6 0 1 0 6.6 0a3.3 2.6 0 1 0 -6.6 0M877.4 628.2a2.7 2.1 0 1 0 5.4 0a2.7 2.1 0 1 0 -5.4 0M877.7 610.6a3.2 2.8 0 1 0 6.4 0a3.2 2.8 0 1 0 -6.4 0M886.7 618.1a3.5 3 0 1 0 7 0a3.5 3 0 1 0 -7 0M879.7 621.2a3.7 3.4 0 1 0 7.4 0a3.7 3.4 0 1 0 -7.4 0M877.1 605.8a2.6 2 0 1 0 5.1 0a2.6 2 0 1 0 -5.1 0M905.4 610.2a2.6 2.5 0 1 0 5.2 0a2.6 2.5 0 1 0 -5.2 0M890.8 630.4a2.9 2.8 0 1 0 5.9 0a2.9 2.8 0 1 0 -5.9 0M898.4 622.1a3.4 3.2 0 1 0 6.8 0a3.4 3.2 0 1 0 -6.8 0M884.1 632.2a2.7 2.3 0 1 0 5.4 0a2.7 2.3 0 1 0 -5.4 0M879.2 615.4a3.6 2.8 0 1 0 7.3 0a3.6 2.8 0 1 0 -7.3 0M893.9 620.5a3.2 2.7 0 1 0 6.4 0a3.2 2.7 0 1 0 -6.4 0M892.6 601.2a3.1 2.8 0 1 0 6.1 0a3.1 2.8 0 1 0 -6.1 0M882 603.2a3.6 3.5 0 1 0 7.3 0a3.6 3.5 0 1 0 -7.3 0M875.1 623.7a2.8 2.7 0 1 0 5.7 0a2.8 2.7 0 1 0 -5.7 0M890 622.7a3.6 3.5 0 1 0 7.3 0a3.6 3.5 0 1 0 -7.3 0M882.4 608.4a3.1 2.9 0 1 0 6.1 0a3.1 2.9 0 1 0 -6.1 0M867.8 605.6a3.7 2.9 0 1 0 7.4 0a3.7 2.9 0 1 0 -7.4 0M869 624.4a3.7 3.7 0 1 0 7.4 0a3.7 3.7 0 1 0 -7.4 0M885.6 622.9a3.1 2.3 0 1 0 6.1 0a3.1 2.3 0 1 0 -6.1 0M899.4 605.7a3.7 3.3 0 1 0 7.4 0a3.7 3.3 0 1 0 -7.4 0M874.4 613.4a3.1 2.8 0 1 0 6.2 0a3.1 2.8 0 1 0 -6.2 0M888 600.4a2.8 2.6 0 1 0 5.7 0a2.8 2.6 0 1 0 -5.7 0M872.5 609.1a3.5 3.1 0 1 0 6.9 0a3.5 3.1 0 1 0 -6.9 0M888.2 625.6a3.5 2.7 0 1 0 7 0a3.5 2.7 0 1 0 -7 0M894.4 629.3a3.8 3.1 0 1 0 7.6 0a3.8 3.1 0 1 0 -7.6 0M901.7 620.8a3.4 3.2 0 1 0 6.8 0a3.4 3.2 0 1 0 -6.8 0M877 631.9a3.5 3.1 0 1 0 7.1 0a3.5 3.1 0 1 0 -7.1 0M871 620.3a3.7 3 0 1 0 7.4 0a3.7 3 0 1 0 -7.4 0M882 628.7a2.8 2.6 0 1 0 5.6 0a2.8 2.6 0 1 0 -5.6 0M888.6 606.4a3.4 3.3 0 1 0 6.8 0a3.4 3.3 0 1 0 -6.8 0M886.7 629.5a3.3 2.9 0 1 0 6.5 0a3.3 2.9 0 1 0 -6.5 0M887.6 611a3.3 2.6 0 1 0 6.7 0a3.3 2.6 0 1 0 -6.7 0M894.6 606.7a3.2 3.1 0 1 0 6.4 0a3.2 3.1 0 1 0 -6.4 0M896 611.2a3.4 3.1 0 1 0 6.8 0a3.4 3.1 0 1 0 -6.8 0M891.3 616.5a3.4 2.8 0 1 0 6.8 0a3.4 2.8 0 1 0 -6.8 0M891.9 609.8a2.8 2.4 0 1 0 5.5 0a2.8 2.4 0 1 0 -5.5 0M902.2 617.1a2.8 2.5 0 1 0 5.6 0a2.8 2.5 0 1 0 -5.6 0M867.5 621.4a2.7 2.1 0 1 0 5.4 0a2.7 2.1 0 1 0 -5.4 0M884.7 615.4a2.7 2.7 0 1 0 5.5 0a2.7 2.7 0 1 0 -5.5 0M869.4 611.3a3.5 2.9 0 1 0 7 0a3.5 2.9 0 1 0 -7 0M903.5 606.2a3.2 2.7 0 1 0 6.3 0a3.2 2.7 0 1 0 -6.3 0M898.5 615.4a2.8 2.7 0 1 0 5.7 0a2.8 2.7 0 1 0 -5.7 0M876.9 600.5a3.4 3.1 0 1 0 6.7 0a3.4 3.1 0 1 0 -6.7 0M904.1 624.5a2.8 2.3 0 1 0 5.6 0a2.8 2.3 0 1 0 -5.6 0M898.5 602.2a3.8 3.5 0 1 0 7.5 0a3.8 3.5 0 1 0 -7.5 0M884.6 598.7a2.8 2.5 0 1 0 5.7 0a2.8 2.5 0 1 0 -5.7 0M905.5 616.4a3.2 3 0 1 0 6.5 0a3.2 3 0 1 0 -6.5 0" fill="none" stroke="#239c9e" stroke-width="1.4"/></g>
<g id='pb'><text x="1375" y="100.5" font-size="30" text-anchor="start" font-weight="bold" fill="#000" >b</text>
<defs>
<linearGradient id="gelg" x1="0" y1="0" x2="1" y2="0.25">
<stop offset="0" stop-color="#b6ac9f"/><stop offset="0.4" stop-color="#c1b7aa"/><stop offset="1" stop-color="#aba194"/>
</linearGradient>
<linearGradient id="gelv" x1="0" y1="0" x2="0" y2="1">
<stop offset="0" stop-color="#fff" stop-opacity="0.06"/><stop offset="1" stop-color="#000" stop-opacity="0.07"/>
</linearGradient>
<filter id="blur4" x="-20%" y="-60%" width="140%" height="220%"><feGaussianBlur stdDeviation="3.3"/></filter>
<filter id="blur1" x="-5%" y="-5%" width="110%" height="110%"><feGaussianBlur stdDeviation="0.5"/></filter>
</defs>
<polygon points="1497.7,20.5 1952,21.4 1958.2,203.9 1503.4,203" fill="url(#gelg)"/>
<polygon points="1497.7,20.5 1952,21.4 1958.2,203.9 1503.4,203" fill="url(#gelv)"/>
<g filter="url(#blur4)">
<rect x="1588" y="119" width="68" height="11.5" rx="5.8" fill="#6e665e" opacity="0.9"/>
<rect x="1679" y="116.7" width="64.5" height="18" rx="9" fill="#544d46" opacity="0.95"/>
<rect x="1765" y="113.6" width="73" height="22" rx="11" fill="#423c37" opacity="0.97"/>
<rect x="1855" y="123.5" width="71" height="24" rx="12" fill="#48413b" opacity="0.97"/>
</g>
<g stroke="#141312" stroke-width="0.5" filter="url(#blur1)">
<text x="1525.5" y="73.8" font-size="24" text-anchor="start" font-weight="normal" fill="#141312" >supernatant</text>
<text x="1681" y="73.8" font-size="24" text-anchor="start" font-weight="normal" fill="#141312" >pellet</text>
<text x="1767.5" y="73.8" font-size="24" text-anchor="start" font-weight="normal" fill="#141312" >S-TRAIL</text>
<text x="1872" y="59.5" font-size="24" text-anchor="start" font-weight="normal" fill="#141312" >protein</text>
<text x="1872" y="87" font-size="24" text-anchor="start" font-weight="normal" fill="#141312" >marker</text>
</g></g>
<g id='pc'><text x="1376.5" y="350.5" font-size="30" text-anchor="start" font-weight="bold" fill="#000" >c</text>
<line x1="1426.5" y1="338.3" x2="1426.5" y2="701.8" stroke="#000" stroke-width="4" />
<line x1="1412" y1="699.8" x2="1978.5" y2="699.8" stroke="#000" stroke-width="4" />
<line x1="1412" y1="340.3" x2="1426.5" y2="340.3" stroke="#000" stroke-width="4" />
<line x1="1412" y1="460.4" x2="1426.5" y2="460.4" stroke="#000" stroke-width="4" />
<line x1="1412" y1="579.6" x2="1426.5" y2="579.6" stroke="#000" stroke-width="4" />
<line x1="1440" y1="699.8" x2="1440" y2="708.3" stroke="#000" stroke-width="3.2" />
<line x1="1454.2" y1="699.8" x2="1454.2" y2="708.3" stroke="#000" stroke-width="3.2" />
<line x1="1468.3" y1="699.8" x2="1468.3" y2="708.3" stroke="#000" stroke-width="3.2" />
<line x1="1482.4" y1="699.8" x2="1482.4" y2="708.3" stroke="#000" stroke-width="3.2" />
<line x1="1496.5" y1="699.8" x2="1496.5" y2="708.3" stroke="#000" stroke-width="3.2" />
<line x1="1510.6" y1="699.8" x2="1510.6" y2="708.3" stroke="#000" stroke-width="3.2" />
<line x1="1524.8" y1="699.8" x2="1524.8" y2="708.3" stroke="#000" stroke-width="3.2" />
<line x1="1538.9" y1="699.8" x2="1538.9" y2="708.3" stroke="#000" stroke-width="3.2" />
<line x1="1553" y1="699.8" x2="1553" y2="718.3" stroke="#000" stroke-width="3.2" />
<line x1="1567.1" y1="699.8" x2="1567.1" y2="708.3" stroke="#000" stroke-width="3.2" />
<line x1="1581.2" y1="699.8" x2="1581.2" y2="708.3" stroke="#000" stroke-width="3.2" />
<line x1="1595.4" y1="699.8" x2="1595.4" y2="708.3" stroke="#000" stroke-width="3.2" />
<line x1="1609.5" y1="699.8" x2="1609.5" y2="708.3" stroke="#000" stroke-width="3.2" />
<line x1="1623.6" y1="699.8" x2="1623.6" y2="708.3" stroke="#000" stroke-width="3.2" />
<line x1="1637.7" y1="699.8" x2="1637.7" y2="708.3" stroke="#000" stroke-width="3.2" />
<line x1="1651.8" y1="699.8" x2="1651.8" y2="708.3" stroke="#000" stroke-width="3.2" />
<line x1="1666" y1="699.8" x2="1666" y2="708.3" stroke="#000" stroke-width="3.2" />
<line x1="1680.1" y1="699.8" x2="1680.1" y2="708.3" stroke="#000" stroke-width="3.2" />
<line x1="1694.2" y1="699.8" x2="1694.2" y2="718.3" stroke="#000" stroke-width="3.2" />
<line x1="1708.3" y1="699.8" x2="1708.3" y2="708.3" stroke="#000" stroke-width="3.2" />
<line x1="1722.4" y1="699.8" x2="1722.4" y2="708.3" stroke="#000" stroke-width="3.2" />
<line x1="1736.6" y1="699.8" x2="1736.6" y2="708.3" stroke="#000" stroke-width="3.2" />
<line x1="1750.7" y1="699.8" x2="1750.7" y2="708.3" stroke="#000" stroke-width="3.2" />
<line x1="1764.8" y1="699.8" x2="1764.8" y2="708.3" stroke="#000" stroke-width="3.2" />
<line x1="1778.9" y1="699.8" x2="1778.9" y2="708.3" stroke="#000" stroke-width="3.2" />
<line x1="1793" y1="699.8" x2="1793" y2="708.3" stroke="#000" stroke-width="3.2" />
<line x1="1807.2" y1="699.8" x2="1807.2" y2="708.3" stroke="#000" stroke-width="3.2" />
<line x1="1821.3" y1="699.8" x2="1821.3" y2="708.3" stroke="#000" stroke-width="3.2" />
<line x1="1835.4" y1="699.8" x2="1835.4" y2="718.3" stroke="#000" stroke-width="3.2" />
<line x1="1849.5" y1="699.8" x2="1849.5" y2="708.3" stroke="#000" stroke-width="3.2" />
<line x1="1863.6" y1="699.8" x2="1863.6" y2="708.3" stroke="#000" stroke-width="3.2" />
<line x1="1877.8" y1="699.8" x2="1877.8" y2="708.3" stroke="#000" stroke-width="3.2" />
<line x1="1891.9" y1="699.8" x2="1891.9" y2="708.3" stroke="#000" stroke-width="3.2" />
<line x1="1906" y1="699.8" x2="1906" y2="708.3" stroke="#000" stroke-width="3.2" />
<line x1="1920.1" y1="699.8" x2="1920.1" y2="708.3" stroke="#000" stroke-width="3.2" />
<line x1="1934.2" y1="699.8" x2="1934.2" y2="708.3" stroke="#000" stroke-width="3.2" />
<line x1="1948.4" y1="699.8" x2="1948.4" y2="708.3" stroke="#000" stroke-width="3.2" />
<line x1="1962.5" y1="699.8" x2="1962.5" y2="708.3" stroke="#000" stroke-width="3.2" />
<line x1="1976.6" y1="699.8" x2="1976.6" y2="718.3" stroke="#000" stroke-width="3.2" />
<polyline points="1427,644 1430.5,594.9 1434,546 1437.4,497.1 1440.5,455.1 1442.4,431.9 1444.2,420.9 1446.3,422.6 1448.7,426.5 1453,445.5 1457.4,475.8 1461.7,514.8 1466,549.4 1470.3,575.4 1474.7,592.7 1481.2,605.7 1488.7,612.2 1497.4,610 1503.9,601.4 1512.6,588.4 1520.1,579.7 1524.5,577.6 1528.8,579.7 1536.4,590.6 1545,603.5 1553.7,614.4 1564.5,621.9 1579.7,628.4 1594.8,633.9 1616.5,639.3 1638.1,643.6 1659.7,647.9 1681.4,651.2 1703,653.3 1724.7,656.6 1746.3,659.8 1768,662.4 1800,665.9 1835,667.8 1900,672.5 1977.8,677.4" fill="none" stroke="#f48686" stroke-width="5.6" stroke-linejoin="round" stroke-linecap="butt" />
<polyline points="1427.3,553.8 1429.7,557 1432.5,545.1 1435.7,536.5 1437.9,528.9 1440,540.8 1442.2,538.6 1444.4,545.1 1446.5,546.2 1448.7,549.4 1451.9,554.8 1456.3,564.6 1462.8,577.6 1471.4,592.7 1480.1,603.5 1488.7,611.1 1497.4,614.4 1508.2,614.8 1518,614.8 1523.4,617.6 1528.8,625.2 1535.3,632.8 1542.9,638.2 1548.3,639.3 1551.5,637.1 1555.8,629.5 1560.2,616.5 1564.5,601.4 1571,579.7 1577.5,558.1 1584,542.9 1590.5,534.3 1594.8,532.6 1599.1,535.4 1604.5,547.3 1611,566.8 1618.6,588.4 1627.3,605.7 1638.1,623 1648.9,638.2 1659.7,653.3 1670.6,664.2 1681.4,669.6 1703,675 1724.7,679.7 1746.3,684.1 1768,688.4 1800,691.9 1835,691.8 1977.8,692.6" fill="none" stroke="#9e0050" stroke-width="5.6" stroke-linejoin="round" stroke-linecap="butt" />
<polyline points="1427.3,445.5 1428.1,467.2 1431.4,488.8 1435.7,506.1 1441.1,515.9 1447.6,519.1 1455.2,517.4 1461.7,517 1466,522.4 1470.3,536.5 1474.7,558.1 1479,584.1 1483.3,607.9 1487.7,625.2 1493.1,636 1500.6,643.6 1510.4,647.9 1523.4,649.7 1534.2,649.4 1541.8,646.8 1548.3,640.3 1553.7,629.5 1559.1,612.2 1564.5,590.6 1571,558.1 1577.5,527.8 1584,506.1 1590.5,493.2 1594.8,491 1599.1,494.2 1604.5,508.3 1611,532.1 1618.6,558.1 1627.3,581.9 1638.1,605.7 1648.9,625.2 1659.7,642.5 1670.6,657.7 1681.4,666.3 1692.2,671.7 1703,675 1724.7,679.3 1746.3,683.6 1768,688 1800,691.9 1835,691.8 1900,692.3 1977.8,692.6" fill="none" stroke="#005f0a" stroke-width="5.6" stroke-linejoin="round" stroke-linecap="butt" />
<polyline points="1432,339.5 1433.5,356.8 1435.7,374.1 1439,393.6 1443.3,408.7 1448.7,418.5 1456.3,423.9 1462.8,429.3 1468.2,441.2 1472.5,462.9 1476.8,497.5 1481.2,536.5 1485.5,571.1 1489.8,597.1 1495.2,614.4 1501.7,623 1510.4,626.9 1523.4,628.4 1536.4,628 1543.9,625.2 1550.4,616.5 1555.8,601.4 1561.3,577.6 1566.7,547.3 1573.2,508.3 1579.7,467.2 1586.1,430.4 1591.6,406.6 1594.8,402.3 1598.1,406.6 1603.5,428.2 1610,462.9 1618.6,504 1629.4,545.1 1640.3,575.4 1651.1,599.2 1661.9,620.9 1672.7,640.3 1683.5,653.3 1694.4,659.8 1713.9,666.3 1735.5,672.8 1757,678.8 1778.8,682.8 1800,685.4 1827,687 1860,687.7 1977.8,688" fill="none" stroke="#000080" stroke-width="5.6" stroke-linejoin="round" stroke-linecap="butt" />
<text x="1553" y="743" font-size="27" text-anchor="middle" font-weight="normal" fill="#000" >300</text>
<text x="1694.2" y="743" font-size="27" text-anchor="middle" font-weight="normal" fill="#000" >400</text>
<text x="1835.4" y="743" font-size="27" text-anchor="middle" font-weight="normal" fill="#000" >500</text>
<text x="1975.6" y="743" font-size="27" text-anchor="middle" font-weight="normal" fill="#000" >600</text>
<text x="1703" y="785" font-size="28" text-anchor="middle" font-weight="normal" fill="#000" >Wavelength (nm)</text>
<text transform="translate(1399.5,516) rotate(-90)" font-size="28" text-anchor="middle" >absorbance (a.u)</text>
<line x1="1749" y1="432.6" x2="1784.3" y2="432.6" stroke="#f48686" stroke-width="6" />
<text x="1804.5" y="441.4" font-size="28" text-anchor="start" font-weight="normal" fill="#000" >S -TRAIL</text>
<line x1="1749" y1="481.9" x2="1784.3" y2="481.9" stroke="#000080" stroke-width="6" />
<text x="1804.5" y="490.3" font-size="28" text-anchor="start" font-weight="normal" fill="#000" >GQD</text>
<line x1="1749" y1="525.6" x2="1784.3" y2="525.6" stroke="#005f0a" stroke-width="6" />
<text x="1804.5" y="535.5" font-size="28" text-anchor="start" font-weight="normal" fill="#000" >supernatant</text>
<line x1="1749" y1="570" x2="1784.3" y2="570" stroke="#9e0050" stroke-width="6" />
<text x="1804.5" y="579.5" font-size="28" text-anchor="start" font-weight="normal" fill="#000" >pellet</text></g>
<g id='pd'><text x="160" y="826" font-size="30" text-anchor="start" font-weight="bold" fill="#000" >d</text>
<line x1="228.3" y1="858.5" x2="228.3" y2="1220.4" stroke="#000" stroke-width="5.4" />
<line x1="228.3" y1="1217.7" x2="753.7" y2="1217.7" stroke="#000" stroke-width="5.4" />
<line x1="228.3" y1="1217.7" x2="228.3" y2="1232.7" stroke="#000" stroke-width="5.4" />
<text x="225.3" y="1262.5" font-size="28" text-anchor="middle" font-weight="normal" fill="#000" >300</text>
<line x1="359" y1="1217.7" x2="359" y2="1232.7" stroke="#000" stroke-width="5.4" />
<text x="356" y="1262.5" font-size="28" text-anchor="middle" font-weight="normal" fill="#000" >400</text>
<line x1="489.6" y1="1217.7" x2="489.6" y2="1232.7" stroke="#000" stroke-width="5.4" />
<text x="486.6" y="1262.5" font-size="28" text-anchor="middle" font-weight="normal" fill="#000" >500</text>
<line x1="620.2" y1="1217.7" x2="620.2" y2="1232.7" stroke="#000" stroke-width="5.4" />
<text x="617.2" y="1262.5" font-size="28" text-anchor="middle" font-weight="normal" fill="#000" >600</text>
<line x1="750.9" y1="1217.7" x2="750.9" y2="1232.7" stroke="#000" stroke-width="5.4" />
<text x="747.9" y="1262.5" font-size="28" text-anchor="middle" font-weight="normal" fill="#000" >700</text>
<line x1="344.8" y1="1217.7" x2="751" y2="1217.7" stroke="#f48686" stroke-width="5" />
<polyline points="344.8,1160.6 357.9,1110.6 370.9,1056.1 383.9,1001.5 397,962.1 410.3,949.4 423.3,957.6 436.4,968.8 449.4,1013.6 462.4,1047 475.5,1080.3 488.8,1107.6 501.8,1127.3 514.8,1148.5 527.9,1163.6 540.9,1175.8 553.9,1184.8 567,1191.5 580,1197.9 593,1202.1 606.1,1206.1 619.1,1208.8 632.1,1211.2 645.2,1213 658.2,1213.6 671.2,1214.5 684.2,1215.8 697.3,1213.6 710.3,1217.3 723.3,1217.6 736.4,1217.6 750.9,1217.6" fill="none" stroke="#9e0050" stroke-width="5.6" stroke-linejoin="round" stroke-linecap="butt" />
<polyline points="344.8,1150 357.9,1092.4 370.9,1028.8 383.9,965.2 397,918.2 410.3,907.6 423.3,913 436.4,925.8 449.4,974.2 462.4,1013.6 475.5,1050 488.8,1083.3 501.8,1107.6 514.8,1133.3 527.9,1151.5 540.9,1166.7 553.9,1178.8 567,1187.3 580,1194.8 593,1200 606.1,1203.9 619.1,1207 632.1,1209.7 645.2,1210.6 658.2,1212.1 671.2,1212.1 684.2,1212.7 697.3,1212.7 710.3,1211.5 723.3,1215.8 736.4,1217.3 750.9,1216.7" fill="none" stroke="#005f0a" stroke-width="5.6" stroke-linejoin="round" stroke-linecap="butt" />
<polyline points="344.8,1143.9 357.9,1080.3 370.9,1007.6 383.9,931.8 397,875.8 410.3,860.6 423.3,868.2 436.4,883.3 449.4,947 462.4,992.4 475.5,1031.8 488.8,1068.2 501.8,1095.5 514.8,1125.8 527.9,1145.5 540.9,1162.1 553.9,1174.2 567,1183.3 580,1191.8 593,1197.9 606.1,1201.5 619.1,1203.9 632.1,1207.6 645.2,1209.7 658.2,1210.6 671.2,1212.4 684.2,1211.2 697.3,1212.1 710.3,1213.6 723.3,1216.1 736.4,1217.6 750.9,1187.9" fill="none" stroke="#000080" stroke-width="5.6" stroke-linejoin="round" stroke-linecap="butt" />
<text x="494" y="1304.5" font-size="28" text-anchor="middle" font-weight="normal" fill="#000" >Wavelength (nm)</text>
<text transform="translate(197.5,1030.5) rotate(-90)" font-size="28" text-anchor="middle" >Fluorescence Intensity (a.u)</text>
<line x1="535" y1="911.2" x2="577.6" y2="911.2" stroke="#f48686" stroke-width="6" />
<text x="603.3" y="921.3" font-size="28" text-anchor="start" font-weight="normal" fill="#000" >S - TRAIL</text>
<line x1="535" y1="961.2" x2="577.6" y2="961.2" stroke="#000080" stroke-width="6" />
<text x="603.3" y="971.3" font-size="28" text-anchor="start" font-weight="normal" fill="#000" >GQD</text>
<line x1="535" y1="1013" x2="577.6" y2="1013" stroke="#005f0a" stroke-width="6" />
<text x="603.3" y="1023.7" font-size="28" text-anchor="start" font-weight="normal" fill="#000" >supernatant</text>
<line x1="535" y1="1060.6" x2="577.6" y2="1060.6" stroke="#9e0050" stroke-width="6" />
<text x="603.3" y="1070.7" font-size="28" text-anchor="start" font-weight="normal" fill="#000" >pellet</text></g>
<g id='pe'><text x="901" y="828" font-size="30" text-anchor="start" font-weight="bold" fill="#000" >e</text>
<line x1="1009.9" y1="889.5" x2="1009.9" y2="1232.9" stroke="#000" stroke-width="5" />
<line x1="993.6" y1="1230.4" x2="1558.3" y2="1230.4" stroke="#000" stroke-width="5" />
<line x1="993.6" y1="939.2" x2="1009.9" y2="939.2" stroke="#000" stroke-width="5" />
<line x1="993.6" y1="1037.2" x2="1009.9" y2="1037.2" stroke="#000" stroke-width="5" />
<line x1="993.6" y1="1134" x2="1009.9" y2="1134" stroke="#000" stroke-width="5" />
<line x1="1027.2" y1="1230.4" x2="1027.2" y2="1237.9" stroke="#000" stroke-width="4.4" />
<line x1="1045.4" y1="1230.4" x2="1045.4" y2="1237.9" stroke="#000" stroke-width="4.4" />
<line x1="1063.6" y1="1230.4" x2="1063.6" y2="1237.9" stroke="#000" stroke-width="4.4" />
<line x1="1081.9" y1="1230.4" x2="1081.9" y2="1237.9" stroke="#000" stroke-width="4.4" />
<line x1="1100.1" y1="1230.4" x2="1100.1" y2="1243.9" stroke="#000" stroke-width="4.4" />
<line x1="1118.3" y1="1230.4" x2="1118.3" y2="1237.9" stroke="#000" stroke-width="4.4" />
<line x1="1136.6" y1="1230.4" x2="1136.6" y2="1237.9" stroke="#000" stroke-width="4.4" />
<line x1="1154.8" y1="1230.4" x2="1154.8" y2="1237.9" stroke="#000" stroke-width="4.4" />
<line x1="1173" y1="1230.4" x2="1173" y2="1237.9" stroke="#000" stroke-width="4.4" />
<line x1="1191.2" y1="1230.4" x2="1191.2" y2="1237.9" stroke="#000" stroke-width="4.4" />
<line x1="1209.5" y1="1230.4" x2="1209.5" y2="1237.9" stroke="#000" stroke-width="4.4" />
<line x1="1227.7" y1="1230.4" x2="1227.7" y2="1237.9" stroke="#000" stroke-width="4.4" />
<line x1="1245.9" y1="1230.4" x2="1245.9" y2="1237.9" stroke="#000" stroke-width="4.4" />
<line x1="1264.2" y1="1230.4" x2="1264.2" y2="1237.9" stroke="#000" stroke-width="4.4" />
<line x1="1282.4" y1="1230.4" x2="1282.4" y2="1243.9" stroke="#000" stroke-width="4.4" />
<line x1="1300.6" y1="1230.4" x2="1300.6" y2="1237.9" stroke="#000" stroke-width="4.4" />
<line x1="1318.9" y1="1230.4" x2="1318.9" y2="1237.9" stroke="#000" stroke-width="4.4" />
<line x1="1337.1" y1="1230.4" x2="1337.1" y2="1237.9" stroke="#000" stroke-width="4.4" />
<line x1="1355.3" y1="1230.4" x2="1355.3" y2="1237.9" stroke="#000" stroke-width="4.4" />
<line x1="1373.5" y1="1230.4" x2="1373.5" y2="1237.9" stroke="#000" stroke-width="4.4" />
<line x1="1391.8" y1="1230.4" x2="1391.8" y2="1237.9" stroke="#000" stroke-width="4.4" />
<line x1="1410" y1="1230.4" x2="1410" y2="1237.9" stroke="#000" stroke-width="4.4" />
<line x1="1428.2" y1="1230.4" x2="1428.2" y2="1237.9" stroke="#000" stroke-width="4.4" />
<line x1="1446.5" y1="1230.4" x2="1446.5" y2="1237.9" stroke="#000" stroke-width="4.4" />
<line x1="1464.7" y1="1230.4" x2="1464.7" y2="1243.9" stroke="#000" stroke-width="4.4" />
<line x1="1482.9" y1="1230.4" x2="1482.9" y2="1237.9" stroke="#000" stroke-width="4.4" />
<line x1="1501.2" y1="1230.4" x2="1501.2" y2="1237.9" stroke="#000" stroke-width="4.4" />
<line x1="1519.4" y1="1230.4" x2="1519.4" y2="1237.9" stroke="#000" stroke-width="4.4" />
<line x1="1537.6" y1="1230.4" x2="1537.6" y2="1237.9" stroke="#000" stroke-width="4.4" />
<line x1="1555.8" y1="1230.4" x2="1555.8" y2="1237.9" stroke="#000" stroke-width="4.4" />
<line x1="1082" y1="1230.4" x2="1557.5" y2="1230.4" stroke="#f48686" stroke-width="4.6" />
<polyline points="1081.9,1189.8 1100.1,1155.7 1118.3,1116.8 1136.5,1077.8 1154.7,1046.9 1173.2,1037.2 1191.4,1041.1 1209.5,1049.5 1227.7,1082.7 1245.9,1108.6 1264.1,1133 1282.6,1152.5 1300.8,1166.1 1319,1182.3 1337.1,1193.7 1355.3,1203.4 1373.5,1210.9 1391.7,1216.1 1410.2,1220 1428.4,1222.9 1446.6,1224.9 1464.7,1226.5 1482.9,1227.5 1501.1,1228.1 1519.3,1228.4 1537.8,1228.8 1556,1228.8" fill="none" stroke="#8f0008" stroke-width="5" stroke-linejoin="round" stroke-linecap="butt" />
<polyline points="1081.9,1188.8 1100.1,1149.2 1118.3,1103.8 1136.5,1058.3 1154.7,1021 1173.2,1009 1191.4,1009.6 1209.5,1017.7 1227.7,1046.9 1245.9,1076.2 1264.1,1103.1 1282.6,1130.4 1300.8,1149.9 1319,1171 1337.1,1184.9 1355.3,1196.6 1373.5,1205.7 1391.7,1212.5 1410.2,1217.4 1428.4,1221 1446.6,1223.6 1464.7,1225.5 1482.9,1226.8 1501.1,1227.8 1519.3,1228.1 1537.8,1228.4 1556,1228.4" fill="none" stroke="#22d8f0" stroke-width="3.6" stroke-linejoin="round" stroke-linecap="butt" />
<polyline points="1081.9,1187.5 1100.1,1144.4 1118.3,1095.6 1136.5,1045.3 1154.7,1002.5 1173.2,992.7 1191.4,996.6 1209.5,1006.4 1227.7,1043.7 1245.9,1074.5 1264.1,1102.1 1282.6,1129.7 1300.8,1149.2 1319,1170.3 1337.1,1184.3 1355.3,1196 1373.5,1205.1 1391.7,1212.2 1410.2,1217.1 1428.4,1220.6 1446.6,1223.2 1464.7,1225.2 1482.9,1226.5 1501.1,1227.5 1519.3,1228.1 1537.8,1228.4 1556,1228.4" fill="none" stroke="#f26a10" stroke-width="5" stroke-linejoin="round" stroke-linecap="butt" />
<polyline points="1081.9,1186.6 1100.1,1142.7 1118.3,1090.8 1136.5,1038.8 1154.7,996.6 1173.2,985.3 1191.4,987.5 1209.5,998.2 1227.7,1037.2 1245.9,1068.1 1264.1,1097.3 1282.6,1124.9 1300.8,1145.3 1319,1167.1 1337.1,1181.7 1355.3,1194 1373.5,1203.4 1391.7,1210.9 1410.2,1216.1 1428.4,1220 1446.6,1222.6 1464.7,1224.5 1482.9,1226.2 1501.1,1227.1 1519.3,1227.8 1537.8,1228.1 1556,1228.1" fill="none" stroke="#005f0a" stroke-width="5" stroke-linejoin="round" stroke-linecap="butt" />
<polyline points="1081.9,1181.7 1100.1,1133 1118.3,1077.8 1136.5,1022.6 1154.7,977.1 1173.2,965.8 1191.4,968.1 1209.5,980.4 1227.7,1022.6 1245.9,1056.7 1264.1,1087.5 1282.6,1118.4 1300.8,1139.5 1319,1163.8 1337.1,1178.4 1355.3,1191.4 1373.5,1201.2 1391.7,1209.3 1410.2,1214.8 1428.4,1219 1446.6,1221.6 1464.7,1223.9 1482.9,1225.5 1501.1,1226.5 1519.3,1227.1 1537.8,1227.8 1556,1227.8" fill="none" stroke="#c8107a" stroke-width="5" stroke-linejoin="round" stroke-linecap="butt" />
<polyline points="1081.9,1163.8 1100.1,1103.8 1118.3,1032.3 1136.5,965.8 1154.7,915.5 1173.2,899.2 1191.4,904.1 1209.5,917.1 1227.7,973.9 1245.9,1016.1 1264.1,1055.1 1282.6,1090.8 1300.8,1118.4 1319,1146 1337.1,1163.8 1355.3,1180.1 1373.5,1191.4 1391.7,1201.2 1410.2,1208.6 1428.4,1214.2 1446.6,1218.1 1464.7,1220.6 1482.9,1222.9 1501.1,1224.5 1519.3,1225.5 1537.8,1226.5 1556,1226.5" fill="none" stroke="#000080" stroke-width="5" stroke-linejoin="round" stroke-linecap="butt" />
<text x="1100.1" y="1274.5" font-size="27" text-anchor="middle" font-weight="normal" fill="#000" >400</text>
<text x="1282.4" y="1274.5" font-size="27" text-anchor="middle" font-weight="normal" fill="#000" >500</text>
<text x="1464.7" y="1274.5" font-size="27" text-anchor="middle" font-weight="normal" fill="#000" >600</text>
<text x="1279.5" y="1313" font-size="28" text-anchor="middle" font-weight="normal" fill="#000" >wavelength (nm)</text>
<text transform="translate(964.5,1061) rotate(-90)" font-size="28" text-anchor="middle" >Fluorescence Intensity (a.u)</text>
<line x1="1303" y1="1103" x2="1303" y2="1162" stroke="#000" stroke-width="4.4" />
<polygon points="1292.5,1157.5 1303,1162 1313.5,1157.5 1303,1184" fill="#000"/>
<line x1="1338" y1="873" x2="1375.5" y2="873" stroke="#f48686" stroke-width="5.4" />
<text x="1411.5" y="883.3" font-size="28" text-anchor="start" font-weight="normal" fill="#000" >S - TRAIL</text>
<line x1="1338" y1="918.3" x2="1375.5" y2="918.3" stroke="#000080" stroke-width="5.4" />
<text x="1419" y="928.6" font-size="28" text-anchor="start" font-weight="normal" fill="#000" >0</text>
<text x="1526.5" y="928.6" font-size="28" text-anchor="end" font-weight="normal" fill="#000" >µg/ml</text>
<line x1="1338" y1="964.2" x2="1375.5" y2="964.2" stroke="#c8107a" stroke-width="5.4" />
<text x="1521" y="974.5" font-size="28" text-anchor="end" font-weight="normal" fill="#000" >40 µg/ml</text>
<line x1="1338" y1="1010.1" x2="1375.5" y2="1010.1" stroke="#005f0a" stroke-width="5.4" />
<text x="1521" y="1020.4" font-size="28" text-anchor="end" font-weight="normal" fill="#000" >80 µg/ml</text>
<line x1="1338" y1="1055.8" x2="1375.5" y2="1055.8" stroke="#f26a10" stroke-width="5.4" />
<text x="1521" y="1066.1" font-size="28" text-anchor="end" font-weight="normal" fill="#000" >160 µg/ml</text>
<line x1="1338" y1="1101.6" x2="1375.5" y2="1101.6" stroke="#22d8f0" stroke-width="3.8" />
<text x="1521" y="1111.9" font-size="28" text-anchor="end" font-weight="normal" fill="#000" >320 µg/ml</text>
<line x1="1338" y1="1147.5" x2="1375.5" y2="1147.5" stroke="#8f0008" stroke-width="5.4" />
<text x="1521" y="1157.8" font-size="28" text-anchor="end" font-weight="normal" fill="#000" >640 µg/ml</text></g>
<g id='pf'><text x="175" y="1405" font-size="30" text-anchor="start" font-weight="bold" fill="#000" >f</text>
<rect x="349.4" y="1422.6" width="69.2" height="146.6" fill="#000"/>
<rect x="451.4" y="1422.6" width="69" height="448.6" fill="#000"/>
<rect x="552.8" y="1422.6" width="69.8" height="280.9" fill="#000"/>
<line x1="383.2" y1="1569" x2="383.2" y2="1608" stroke="#000" stroke-width="2.4" />
<line x1="366.2" y1="1608" x2="400.2" y2="1608" stroke="#000" stroke-width="2.4" />
<line x1="485.5" y1="1871" x2="485.5" y2="1924.6" stroke="#000" stroke-width="2.4" />
<line x1="468.5" y1="1924.6" x2="502.5" y2="1924.6" stroke="#000" stroke-width="2.4" />
<line x1="587.2" y1="1703" x2="587.2" y2="1747.8" stroke="#000" stroke-width="2.4" />
<line x1="570.2" y1="1747.8" x2="604.2" y2="1747.8" stroke="#000" stroke-width="2.4" />
<line x1="294.5" y1="1422.6" x2="658" y2="1422.6" stroke="#000" stroke-width="5.6" />
<line x1="294.5" y1="1963.1" x2="658" y2="1963.1" stroke="#000" stroke-width="5.6" />
<line x1="316" y1="1422.6" x2="316" y2="1963.1" stroke="#000" stroke-width="5.8" />
<line x1="294.5" y1="1602.8" x2="316" y2="1602.8" stroke="#000" stroke-width="5.6" />
<line x1="294.5" y1="1782.9" x2="316" y2="1782.9" stroke="#000" stroke-width="5.6" />
<line x1="383.3" y1="1963.1" x2="383.3" y2="1985.8" stroke="#000" stroke-width="5.6" />
<line x1="485.6" y1="1963.1" x2="485.6" y2="1985.8" stroke="#000" stroke-width="5.6" />
<line x1="587.4" y1="1963.1" x2="587.4" y2="1985.8" stroke="#000" stroke-width="5.6" />
<text x="281.8" y="1437.2" font-size="26.5" text-anchor="end" font-weight="normal" fill="#000" >0</text>
<text x="271.5" y="1617.4" font-size="26.5" text-anchor="end" font-weight="normal" fill="#000" >-10</text>
<text x="271.5" y="1797.5" font-size="26.5" text-anchor="end" font-weight="normal" fill="#000" >-20</text>
<text x="271.5" y="1977.7" font-size="26.5" text-anchor="end" font-weight="normal" fill="#000" >-30</text>
<text transform="translate(208.5,1690.7) rotate(-90)" font-size="29" text-anchor="middle" >ζ-potential (mv)</text>
<text transform="translate(306.5,2104) rotate(-50)" font-size="28.5" textLength="121" lengthAdjust="spacing">S - TRAIL</text>
<text transform="translate(450.5,2059.5) rotate(-50)" font-size="28.5" textLength="60.5" lengthAdjust="spacing">GQD</text>
<text transform="translate(471,2166) rotate(-50)" font-size="28.5" textLength="194" lengthAdjust="spacing">S - TRAIL /GQD</text></g>
<g id='pg'><text x="936.5" y="1423.5" font-size="30" text-anchor="start" font-weight="bold" fill="#000" >g</text>
<polyline points="993.8,1848.1 998.5,1849.9 1003.2,1851.7 1006.8,1853.8 1010.5,1855.3 1014.1,1857.2 1018.6,1858.6 1023.1,1859.9 1027.6,1861.3 1033,1861.4 1038.4,1862.6 1043.8,1862.1 1049.2,1861.4 1054.6,1858.9 1060,1856.7 1063.4,1853.2 1066.8,1849.7 1070.1,1844.5 1073.5,1839.9 1074.2,1835.5 1074.9,1831.5 1075.5,1826.6 1076.2,1822.2 1078.9,1815.1 1080.9,1811.9 1083,1808.1 1085,1804 1087,1800.1 1089,1795.7 1090.9,1791.7 1092.8,1787.6 1094.7,1784.3 1096.7,1780.9 1098.6,1776.9 1100.5,1773.1 1102.6,1769.6 1104.6,1766 1106.6,1761.9 1108.6,1758 1110.7,1754.8 1112.7,1750.8 1114.7,1747 1116.8,1743.4 1119.1,1739.9 1121.4,1736.2 1123.7,1732.2 1126,1728.2 1128.3,1724 1130.7,1720 1133,1716.1 1135.3,1712.7 1137.6,1709.5 1139.9,1705.8 1142.2,1702.5 1144.6,1698.9 1146.9,1695.8 1149.2,1692.7 1151,1689 1152.8,1684.9 1154.6,1681.3 1156.4,1677.9 1158.2,1674.7 1160,1671 1161.8,1667.1 1163.6,1663.3 1165.4,1659.5 1167.4,1655.5 1169.5,1651.9 1171.5,1648.5 1173.5,1644.8 1175.5,1641.1 1177.6,1637.3 1179.6,1633.5 1181.6,1629.2 1184.3,1625.1 1187,1621.1 1189.7,1617.2 1192.4,1613.2 1199.2,1609.5 1202.6,1606.5 1205.9,1603.1 1207.7,1599.2 1209.5,1595 1211.4,1591 1213.2,1587.3 1215,1584.1 1216.8,1581 1220.4,1577.4 1224,1573.7 1227.6,1570.3 1229.5,1566.6 1231.4,1563 1233.4,1558.9 1235.3,1555.2 1237.2,1551.2 1239.2,1547.3 1241.1,1543.4 1243.1,1539.4 1245.1,1535.9 1247.2,1532.4 1249.2,1528.6 1251.2,1524.3 1253.2,1520.1 1255.3,1516.4 1257.3,1512.6 1259.6,1509.1 1261.9,1505.3 1264.2,1501.4 1266.6,1497.8 1268.9,1494.1 1271.2,1490.7 1273.5,1486.4 1276.2,1482.8 1278.9,1479.1 1281.6,1475.2 1284.3,1471.8 1287,1468.1 1289.7,1464.4 1292.4,1460.9 1295.1,1457.9 1297.8,1455.4 1300,1455.8 1302.7,1453.2 1305.4,1449.7 1308.1,1446.4 1310.8,1443.1 1314,1439.8 1317.1,1437.3 1320.3,1433.9 1327,1433.9 1330.2,1430 1333.3,1426.6 1336.5,1423.8 1341.2,1425.6 1345.9,1427.1 1350,1425.8 1354.1,1424.3 1357.7,1425.9 1361.3,1428.1 1364.9,1430.7 1369.4,1433.4 1373.9,1436.1 1378.4,1438.5 1382.4,1439.9 1386.5,1441.4 1390.5,1440.8 1394.6,1440.8 1397.3,1444.9 1400,1449.9 1402.7,1453.8 1406.3,1456.4 1409.9,1458.1 1413.5,1461 1416.2,1463.9 1418.9,1467.6 1421.6,1470.1 1424.3,1473.9 1427,1477 1429.7,1480.8 1432.4,1483.7 1435.1,1486.8 1437.8,1490.1 1440.5,1493.5 1443.2,1496.7 1445.9,1500.7 1448.6,1504.5 1451.4,1508.2 1454.1,1511.7 1456.8,1515.3 1459.5,1518.8 1463.1,1521.9 1466.7,1525.1 1470.3,1528.2 1473,1531 1475.7,1534.3 1478.4,1537.7 1481.1,1540.7 1484.5,1543.3 1487.8,1546.3 1491.2,1549.7 1494.6,1553.2 1499.1,1555.5 1503.6,1557.7 1508.1,1560 1512.2,1560 1516.2,1560.1 1520.3,1562.1 1524.3,1564.4 1528.4,1565.2 1532.4,1565.6 1536,1568.7 1539.6,1571.7 1543.2,1574.5 1547.3,1577 1551.4,1579 1555.4,1581.4 1559.5,1584 1563.1,1587.2 1566.7,1590.6 1570.3,1593.7 1573.9,1595.8 1577.5,1598.9 1581.1,1601.6 1585.8,1603.6 1590.5,1605.7 1592.9,1609.4 1595.3,1613.8 1597.6,1617 1600,1620.6 1605.4,1623.2 1610.8,1622.5 1614.4,1624.7 1618,1626.8 1621.6,1629.3" fill="none" stroke="#000080" stroke-width="5" stroke-linejoin="round" stroke-linecap="butt" />
<polyline points="993.8,1811.9 997.8,1811.6 1001.9,1811 1005.9,1810.5 1010,1809.4 1014.1,1808 1018.4,1806.4 1022.7,1804.7 1027,1803.8 1031.4,1802.4 1035.7,1801.7 1039.5,1799.2 1043.2,1797.3 1047,1794.7 1050.8,1793.4 1054.6,1791.7 1058.4,1789.8 1062.2,1787.3 1065.9,1785.4 1069.7,1783.1 1073.5,1780.9 1076.8,1778.3 1080,1775.7 1083.2,1773.2 1086.5,1771.1 1089.7,1769 1093,1766.5 1096.2,1763.6 1099.5,1760.4 1102.7,1757.2 1105.9,1753.8 1109.2,1751.1 1112.4,1748.6 1115.7,1745.6 1118.9,1742.9 1122.2,1740.1 1125.5,1738 1128.9,1735.3 1132.3,1733.1 1135.7,1730.4 1139.1,1728.5 1142.4,1725.7 1145.8,1723.3 1149.2,1720.7 1152.4,1717.3 1155.7,1714.2 1158.9,1711.4 1162.2,1708.7 1165.4,1705.6 1168.6,1702.4 1171.9,1698.9 1175.1,1695.8 1178.4,1692.7 1181.6,1689.3 1184.9,1686.4 1188.1,1683 1191.4,1680.1 1194.6,1676.1 1197.8,1672.4 1201.1,1668.8 1204.3,1666.1 1207.6,1663.9 1210.8,1661.7 1214.1,1659.1 1217.4,1656 1220.8,1653.5 1224.2,1651.1 1227.6,1649.3 1230.3,1646.2 1233,1642.5 1235.7,1638.9 1238.4,1635.7 1241.1,1633.1 1243.8,1630.5 1246.5,1627.1 1249.2,1624 1251.9,1620.2 1254.6,1617.5 1257.3,1614.4 1260,1611.4 1262.7,1607.5 1265.4,1604 1268.1,1601.2 1270.8,1598.3 1273.5,1594.7 1276.2,1591.2 1279.5,1588.4 1282.7,1585.1 1285.9,1582.5 1289.2,1578.7 1292.4,1575.6 1300,1573.5 1303.4,1571.4 1306.8,1569.3 1310.1,1566.8 1313.5,1563.4 1318,1560.9 1322.5,1559.1 1327,1556.8 1330.8,1555.4 1334.6,1554.1 1338.4,1553.1 1342.2,1551.7 1345.9,1550.3 1350.7,1549.6 1355.4,1548.9 1360.1,1548.3 1364.9,1548.1 1369.4,1548.7 1373.9,1548.8 1378.4,1549.5 1382.4,1548.3 1386.5,1547.6 1390.1,1549.7 1393.7,1551.8 1397.3,1553.4 1402.7,1553.4 1408.1,1553.6 1411.7,1557.6 1415.3,1561.3 1418.9,1565.5 1423,1567.3 1427,1569.3 1431.1,1571.3 1435.1,1573.2 1438.5,1576.8 1441.9,1579.9 1445.3,1583.3 1448.6,1586.6 1452,1589.7 1455.4,1593 1458.8,1596.2 1462.2,1600 1465.4,1602.6 1468.6,1605 1471.9,1607.2 1475.1,1609.4 1478.4,1611.9 1482,1614.7 1485.6,1617.5 1489.2,1621.3 1493.7,1624.4 1498.2,1627.2 1502.7,1629.5 1506.8,1629.8 1510.8,1630.7 1514.9,1631.6 1518.9,1632.7 1523,1634.3 1527,1636.2 1531.1,1638.1 1535.1,1639.6 1539.2,1640.4 1543.2,1641.4 1547.3,1642.9 1551.4,1644.5 1555,1647.4 1558.6,1650.9 1562.2,1654.3 1565.8,1657.3 1569.4,1660.5 1573,1663.1 1578.4,1665.6 1583.8,1667.6 1587.2,1671 1590.5,1673.8 1593.9,1676.2 1597.3,1678.7 1600.7,1680.5 1604.1,1683.2 1607.4,1685.3 1610.8,1687.7 1616.2,1688.3 1621.6,1689.1" fill="none" stroke="#ffff00" stroke-width="5" stroke-linejoin="round" stroke-linecap="butt" />
<polyline points="993.8,1795.6 997.8,1794.1 1001.9,1793.2 1005.9,1791.9 1010,1790.7 1014.1,1789.3 1018.4,1787.9 1022.7,1786.3 1027,1784.8 1031.4,1783.5 1035.7,1782.6 1039.5,1781 1043.2,1779.2 1047,1777.2 1050.8,1774.7 1054.6,1772.3 1059.1,1770 1063.6,1767.7 1068.1,1765.4 1071.7,1762.2 1075.3,1759.1 1078.9,1755.9 1083,1754.2 1087,1752.2 1091.5,1752.3 1096,1752.3 1100.5,1752.5 1105,1751.8 1109.5,1750.8 1114.1,1750.1 1117.7,1748 1121.3,1745.8 1124.9,1743.6 1128.5,1740.7 1132.1,1737.9 1135.7,1735.3 1140.2,1732.9 1144.7,1730.4 1149.2,1727.9 1153.2,1727.3 1157.3,1726.5 1161.4,1725.4 1165.4,1724.3 1169.5,1723.5 1173.5,1722.7 1177.6,1722 1181.6,1721 1185.7,1719 1189.7,1717.4 1193.8,1715.5 1197.8,1714 1201.9,1712.9 1205.9,1712.1 1210,1710.9 1214.1,1709.7 1218.1,1708.6 1222.2,1708.1 1226.2,1707 1230.3,1705.9 1234.3,1703.9 1238.4,1701.8 1242.4,1699.7 1246.5,1697.6 1250.5,1695.9 1254.6,1693.7 1258.6,1691 1262.7,1688.8 1266.8,1687.8 1270.8,1686.3 1274.9,1684.1 1278.9,1682.3 1283,1680.4 1287,1678 1291.1,1675.4 1295.1,1672.8 1300,1672.8 1304.5,1670.5 1309,1667.9 1313.5,1665.8 1318,1665.7 1322.5,1665.6 1327,1665.5 1331.5,1665.5 1336,1665.5 1340.5,1665.3 1345.9,1664.2 1351.4,1663 1356.8,1662.8 1362.2,1662.1 1366.7,1663.4 1371.2,1664.3 1375.7,1665.6 1381.1,1667.6 1386.5,1669.2 1390.5,1668.4 1394.6,1667.5 1398.4,1669.7 1402.2,1671.3 1405.9,1673 1409.7,1674.4 1413.5,1675.9 1417.6,1677.6 1421.6,1679.5 1425.7,1682.4 1429.7,1685 1433.8,1687.9 1437.8,1690.5 1441.9,1693.3 1445.9,1695.3 1449.2,1696.9 1452.4,1698.8 1455.7,1701 1458.9,1704 1462.2,1706.8 1466.2,1709.4 1470.3,1711.5 1474.3,1713.8 1478.4,1715.6 1482.4,1717.2 1486.5,1718.9 1490.5,1720.4 1494.6,1722.5 1498.6,1723.4 1502.7,1724.9 1506.8,1725.3 1510.8,1725.9 1515.3,1727 1519.8,1728 1524.3,1729.2 1529.1,1730.4 1533.8,1732.2 1538.5,1734 1543.2,1735.8 1547.7,1737.3 1552.3,1738.3 1556.8,1739.9 1561.3,1740.9 1565.8,1741.9 1570.3,1742.1 1573.6,1743.9 1577,1746.4 1580.4,1748.7 1583.8,1751.3 1588.3,1753.4 1592.8,1755.4 1597.3,1757.5 1601.8,1758.6 1606.3,1760.6 1610.8,1762.2 1616.2,1763.7 1621.6,1764.4" fill="none" stroke="#f050d0" stroke-width="5" stroke-linejoin="round" stroke-linecap="butt" />
<polyline points="993.8,1788.2 997.8,1786.1 1001.9,1783.8 1005.9,1781.5 1010,1778.9 1014.1,1776.7 1017.7,1774.8 1021.3,1773.2 1024.9,1771.6 1028.5,1770.2 1032.1,1768.2 1035.7,1766 1039.5,1763.7 1043.2,1762.2 1047,1760.3 1050.8,1758.4 1054.6,1756.1 1059.1,1753.9 1063.6,1751.8 1068.1,1749.6 1072.6,1748.7 1077.1,1747.7 1081.6,1747 1086.1,1746.5 1090.6,1746.1 1095.1,1745.6 1100.5,1744.7 1105.9,1743.3 1111.4,1743.2 1116.8,1743.1 1122.2,1745.5 1127.6,1747.7 1131.6,1748.6 1135.7,1749.2 1139.7,1750 1143.8,1750.9 1147.8,1752.4 1151.9,1753.7 1155.9,1755.1 1160,1755.9 1164.1,1756.5 1168.1,1756.8 1172.2,1757.4 1176.2,1757.8 1180.3,1758.5 1184.3,1759.1 1188.4,1759.7 1192.4,1760.7 1196.5,1761.6 1200.5,1763 1204.6,1763.9 1208.6,1764.9 1212.7,1765.4 1216.8,1766.3 1220.8,1767.5 1224.9,1768.2 1228.9,1767.9 1233,1767.6 1237,1767.3 1241.1,1767.1 1245.1,1766.6 1249.2,1766.2 1253.2,1766 1257.3,1765.5 1261.4,1765.2 1265.4,1764.3 1269.5,1763.8 1273.5,1763 1277.6,1762.8 1281.6,1762.6 1285.7,1762.4 1289.7,1761.9 1294.9,1761.4 1300,1760.8 1304.3,1760.5 1308.6,1760.3 1313,1760.4 1317.3,1760.2 1321.6,1760 1326.4,1759.8 1331.1,1759.9 1335.8,1760 1340.5,1760 1345.3,1761 1350,1762 1354.7,1763 1359.5,1764 1363.5,1764.6 1367.6,1765.7 1371.6,1766.1 1375.7,1767 1381.1,1766.9 1386.5,1766.9 1390.5,1767.8 1394.6,1768.7 1398.6,1770 1402.7,1770.9 1406.8,1772.6 1410.8,1774.2 1414.9,1776.2 1418.9,1778.1 1423,1780 1427,1782.1 1431.1,1784.5 1435.1,1786.6 1439.2,1787.8 1443.2,1789.1 1447.3,1791 1451.4,1792.4 1455.4,1793.9 1459.5,1795 1463.5,1796.2 1467.6,1797.2 1471.6,1798.4 1475.7,1799.8 1479.7,1801.4 1483.8,1802.6 1487.8,1803.8 1491.9,1804.8 1495.9,1805.7 1500,1806.7 1504.1,1806.6 1508.1,1806.6 1512.2,1806.1 1516.2,1805.8 1520.3,1806.6 1524.3,1806.9 1528.4,1807.4 1532.4,1807.5 1536.5,1808.4 1540.5,1808.9 1544.6,1809.9 1548.6,1810.7 1552.7,1812.1 1556.8,1813 1560.8,1813.6 1564.9,1814.7 1568.9,1816.4 1573,1818.1 1577,1818.9 1581.1,1819.8 1585.1,1821.2 1589.2,1822.6 1593.2,1824.2 1597.3,1825.3 1601.8,1826.1 1606.3,1826.8 1610.8,1827.2 1616.2,1827.6 1621.6,1827.9" fill="none" stroke="#48ecb0" stroke-width="5" stroke-linejoin="round" stroke-linecap="butt" />
<polyline points="993.8,1789.9 997.2,1787.6 1000.5,1784.9 1003.9,1782.3 1007.3,1780 1010.7,1778.1 1014.1,1775.7 1017.7,1773.1 1021.3,1770.9 1024.9,1768.7 1028.5,1766.8 1032.1,1764.2 1035.7,1762.2 1039.5,1760.2 1043.2,1758.2 1047,1755.9 1050.8,1753.4 1054.6,1751.3 1059.1,1749.1 1063.6,1746.9 1068.1,1744.6 1073.5,1742.8 1078.9,1740.9 1083,1740.3 1087,1739.8 1091.1,1739.3 1095.1,1739.1 1100.5,1738.5 1105.9,1738.3 1110,1738.7 1114.1,1739.2 1117.7,1741 1121.3,1742.9 1124.9,1745 1129.4,1746.9 1133.9,1749.4 1138.4,1751.1 1142.4,1753.1 1146.5,1754.7 1150.5,1756.7 1154.6,1758.4 1158.6,1760.1 1162.7,1762.1 1166.8,1763.5 1170.8,1765 1174.9,1766.1 1178.9,1767.9 1183,1769.4 1187,1771.1 1191.1,1773 1195.1,1774.6 1199.2,1776.3 1203.2,1777.6 1206.8,1780.3 1210.5,1782.6 1214.1,1784.9 1219.5,1786.8 1224.9,1789.1 1229.4,1790.4 1233.9,1791.2 1238.4,1792 1243.1,1792.7 1247.8,1793.3 1252.6,1794.1 1257.3,1794.8 1261.6,1795.4 1265.9,1795.7 1270.3,1796 1274.6,1796.1 1278.9,1796.2 1283,1796.6 1287,1797.2 1291.1,1797.5 1295.1,1798.1 1300,1798.4 1304.1,1798.4 1308.1,1797.8 1312.2,1797.4 1316.2,1797.1 1320.3,1797.3 1324.3,1797.9 1328.4,1798 1332.4,1798 1336.5,1798.7 1340.5,1799.8 1344.6,1800.9 1348.6,1801.9 1352.7,1802.4 1356.8,1803.4 1360.8,1804 1364.9,1805.1 1368.9,1805.7 1373,1806.5 1377,1807.3 1381.1,1808 1385.1,1809 1389.2,1809.9 1393.2,1811.2 1397.3,1811.9 1401.4,1813.3 1405.4,1814.2 1409.5,1815.8 1413.5,1817.2 1417.6,1818.6 1421.6,1819.7 1425.7,1820.9 1429.7,1822.1 1433.8,1823.1 1437.8,1824.7 1441.9,1825.9 1445.9,1827.2 1450,1828.4 1454.1,1830 1458.1,1831.4 1462.2,1832.6 1466.2,1833 1470.3,1833.8 1474.3,1834.8 1478.4,1835.8 1482.4,1836.6 1486.5,1837.6 1490.5,1838.2 1494.6,1839.1 1498.9,1839.9 1503.2,1841.1 1507.6,1842 1511.9,1842.4 1516.2,1843 1520.5,1842.9 1524.9,1843 1529.2,1842.8 1533.5,1843.1 1537.8,1843.1 1542.2,1843.5 1546.5,1843.7 1550.8,1844.7 1555.1,1845.3 1559.5,1846.1 1563.8,1847 1568.1,1847.8 1572.4,1848.6 1576.8,1849.3 1581.1,1850.7 1585.4,1851.4 1589.7,1852.2 1594.1,1852.9 1598.4,1853.7 1602.7,1854.2 1607,1854 1611.4,1854 1615.7,1854.4 1620,1854.9 1624.3,1855.2" fill="none" stroke="#f26a10" stroke-width="5" stroke-linejoin="round" stroke-linecap="butt" />
<polyline points="1011.4,1779.9 1014.8,1777.3 1018.3,1774.7 1021.8,1771.9 1025.3,1769.2 1028.7,1766.2 1032.2,1763.4 1035.7,1760.4 1039.5,1758.2 1043.2,1755.8 1047,1753.5 1050.8,1750.9 1054.6,1748.5 1059.1,1745.8 1063.6,1743.3 1068.1,1741 1073.5,1738.9 1078.9,1736.9 1083,1736.3 1087,1735.9 1091.1,1735.3 1095.1,1735.2 1100.5,1735.4 1105.9,1735.6 1111.4,1734.5 1116.8,1733.9 1120.4,1736 1124,1738 1127.6,1739.3 1131.6,1741.3 1135.7,1743.4 1139.7,1745.8 1143.8,1748 1147.8,1750.4 1151.9,1752.7 1155.9,1754.7 1160,1756.9 1164.1,1759.1 1168.1,1761.7 1172.2,1764.1 1176.2,1766.6 1180.3,1768.9 1184.3,1771.2 1188.4,1773.6 1192.4,1776.2 1196.5,1778.4 1200.5,1780.3 1204.6,1781.9 1208.6,1783.6 1212.3,1786.1 1215.9,1788.9 1219.5,1791.4 1223.1,1793.1 1226.7,1795 1230.3,1797.2 1234.3,1799 1238.4,1800.7 1242.4,1801.9 1246.5,1802.7 1250.5,1803.5 1254.6,1804.4 1258.6,1806.1 1262.7,1807.4 1266.8,1808.6 1270.8,1809.2 1274.9,1810.2 1278.9,1811 1283,1811.8 1287,1812.2 1291.1,1812.8 1295.1,1813.3 1300,1815.1 1304.1,1815.3 1308.1,1815.5 1312.2,1815.8 1316.2,1816.3 1320.3,1816.7 1324.3,1817.2 1328.4,1818 1332.4,1818.8 1336.5,1819.1 1340.5,1819.7 1344.6,1820.3 1348.6,1821.1 1352.7,1821.5 1356.8,1822.8 1360.8,1823.7 1364.9,1824.7 1368.9,1825.3 1373,1826.4 1377,1827.8 1381.1,1828.6 1385.1,1829.4 1389.2,1829.9 1393.2,1831.2 1397.3,1832 1401.4,1833.5 1405.4,1834.8 1409.5,1836.1 1413.5,1837.2 1417.6,1837.8 1421.6,1838.6 1425.7,1839.7 1429.7,1841.2 1433.8,1842.5 1437.8,1843.2 1441.9,1844.3 1445.9,1845.5 1450,1847.1 1454.1,1848.3 1458.1,1849.3 1462.2,1850.2 1466.2,1850.8 1470.3,1851.4 1474.3,1852.5 1478.4,1853.3 1482.4,1854.5 1486.5,1855.1 1490.5,1855.8 1494.6,1856.2 1498.9,1856.8 1503.2,1857.6 1507.6,1858.6 1511.9,1859.5 1516.2,1859.6 1520.5,1859.8 1524.9,1859.9 1529.2,1860.3 1533.5,1860.7 1537.8,1861.1 1542.2,1861.4 1546.5,1861.8 1550.8,1862 1555.1,1862.5 1559.5,1862.6 1563.8,1863.1 1568.1,1863.3 1572.4,1863.9 1576.8,1864.2 1581.1,1864.9 1585.4,1865.1 1589.7,1865.8 1594.1,1866.1 1598.4,1866.5 1602.7,1866.9 1606.8,1867.9 1610.8,1868.8 1614.9,1869.6 1618.9,1869.7 1623.6,1869.4 1628.4,1869.2 1633.1,1869.4 1637.8,1869.3" fill="none" stroke="#0a8010" stroke-width="5" stroke-linejoin="round" stroke-linecap="butt" />
<polyline points="1018.1,1775.7 1021.9,1772.8 1025.8,1770.6 1029.6,1768.1 1033.4,1765.8 1037.3,1763.3 1041.1,1760.9 1044.9,1758.3 1048.6,1755.7 1052.4,1752.7 1056.2,1750.2 1060,1747.3 1064.1,1744.8 1068.1,1742.2 1072.2,1739.3 1076.2,1736.5 1080.7,1734.6 1085.2,1733.1 1089.7,1731.5 1093.8,1730.4 1097.8,1729.4 1101.9,1729.8 1105.9,1730.2 1110.7,1729 1115.4,1727.3 1120.1,1729.3 1124.9,1730.7 1128.5,1732.6 1132.1,1734.4 1135.7,1736.4 1141.1,1738.4 1146.5,1740.1 1149.9,1743.3 1153.2,1746.4 1156.6,1749.3 1160,1752.2 1163.2,1754.5 1166.5,1757 1169.7,1759.6 1173,1762.4 1176.2,1764.8 1179.5,1767.1 1182.7,1769.2 1185.9,1771.6 1189.2,1774.4 1192.4,1777.3 1196.5,1780 1200.5,1782.4 1204.6,1784.6 1208.6,1786.8 1212.3,1790 1215.9,1793.7 1219.5,1797.2 1223.1,1800 1226.7,1802.5 1230.3,1805.5 1234.3,1808 1238.4,1810.5 1242.4,1812.6 1246.5,1814.8 1250.5,1816.7 1254.6,1818.7 1258.6,1820.2 1262.7,1821.7 1266.8,1822.9 1270.8,1824.5 1274.9,1826 1278.9,1827.3 1283,1828.4 1287,1829.8 1291.1,1830.7 1295.1,1832.1 1300,1834 1304.1,1835.2 1308.1,1836.2 1312.2,1837.3 1316.2,1839.1 1320.3,1840.1 1324.3,1840.8 1328.4,1841.6 1332.4,1842.2 1336.5,1843 1340.5,1843.1 1344.6,1843.3 1348.6,1843.3 1352.7,1844.6 1356.8,1846.1 1360.8,1847.4 1364.9,1848.4 1368.9,1849.7 1373,1850.7 1377,1852.6 1381.1,1854.1 1385.1,1855.8 1389.2,1856.8 1393.2,1858.5 1397.3,1859.8 1401.4,1861.1 1405.4,1862.4 1409.5,1864 1413.5,1865.6 1417.6,1867.1 1421.6,1868.3 1425.7,1869.7 1429.7,1871 1433.8,1872.2 1437.8,1873 1441.9,1873.8 1445.9,1874.2 1450,1874.8 1454.1,1875.5 1458.1,1876.7 1462.2,1877.7 1466.2,1878.2 1470.3,1878.5 1474.3,1879 1478.4,1879.5 1482.4,1880.3 1486.5,1880.7 1490.5,1881.5 1494.6,1881.9 1498.9,1882.5 1503.2,1882.9 1507.6,1883.6 1511.9,1884 1516.2,1884.2 1520.5,1884.2 1524.9,1884.3 1529.2,1884.8 1533.5,1884.6 1537.8,1884.8 1543.2,1885 1548.6,1885.1 1554.1,1884.6 1559.5,1883.6 1563.8,1884.1 1568.1,1884.3 1572.4,1884.7 1576.8,1884.6 1581.1,1884.7 1586.5,1884 1591.9,1883.4 1596.6,1883.5 1601.4,1883.7 1606.1,1884.4 1610.8,1884.9 1615.3,1885.5 1619.8,1885.9 1624.3,1886.2 1629.7,1886.4 1635.1,1886.8 1639.9,1885.9 1644.6,1885.4" fill="none" stroke="#960008" stroke-width="5" stroke-linejoin="round" stroke-linecap="butt" />
<clipPath id="insc"><rect x="1006" y="1465" width="169.4" height="143.6"/></clipPath>
<g clip-path="url(#insc)">
<polyline points="1085.7,1616.2 1088.4,1608.1 1103.2,1573 1116.8,1535.1 1127.6,1508.1 1138.4,1486.5 1150.5,1466.2 1153.2,1460.8" fill="none" stroke="#000080" stroke-width="4.8" stroke-linejoin="round" stroke-linecap="butt" />
<polyline points="1003.2,1608.1 1007.3,1606.8 1022.2,1602.7 1038.4,1595.9 1054.6,1586.5 1073.5,1571.6 1089.7,1556.8 1105.9,1540.5 1122.2,1524.3 1133,1513.5 1143.8,1500 1157.3,1483.8 1174.9,1466.2 1178.9,1462.2" fill="none" stroke="#ffff00" stroke-width="4.8" stroke-linejoin="round" stroke-linecap="butt" />
<polyline points="1003.2,1587.8 1007.3,1586.5 1022.2,1578.4 1038.4,1573 1054.6,1564.9 1073.5,1548.6 1087,1535.1 1093.8,1529.2 1105.9,1529.2 1119.5,1528.4 1130.3,1521.6 1138.4,1508.1 1146.5,1498.6 1157.3,1497.3 1174.9,1491.9 1178.9,1490.5" fill="none" stroke="#f050d0" stroke-width="4.8" stroke-linejoin="round" stroke-linecap="butt" />
<polyline points="1003.2,1577.8 1007.3,1575.7 1022.2,1567.6 1038.4,1558.1 1054.6,1545.9 1073.5,1532.4 1087,1524.3 1100.5,1520.3 1111.4,1517.6 1122.2,1517.6 1133,1520.3 1146.5,1525.7 1160,1531.1 1174.9,1536.5 1178.9,1537.8" fill="none" stroke="#48ecb0" stroke-width="4.8" stroke-linejoin="round" stroke-linecap="butt" />
<polyline points="1003.2,1576.2 1007.3,1573 1022.2,1562.2 1038.4,1550 1054.6,1536.5 1073.5,1521.6 1087,1516.2 1103.2,1512.2 1116.8,1513.5 1130.3,1520.3 1146.5,1532.4 1160,1541.9 1174.9,1551.4 1178.9,1554.1" fill="none" stroke="#f26a10" stroke-width="4.8" stroke-linejoin="round" stroke-linecap="butt" />
<polyline points="1003.2,1568.1 1007.3,1564.9 1022.2,1554.1 1038.4,1540.5 1054.6,1525.7 1073.5,1510.8 1087,1506.8 1100.5,1508.1 1111.4,1506.8 1124.9,1514.9 1138.4,1525.7 1151.9,1535.1 1165.4,1545.9 1174.9,1551.4 1178.9,1554.1" fill="none" stroke="#0a8010" stroke-width="4.8" stroke-linejoin="round" stroke-linecap="butt" />
<polyline points="1003.2,1562.2 1007.3,1559.5 1022.2,1548.6 1038.4,1535.1 1054.6,1518.9 1068.1,1506.8 1081.6,1498.6 1091.1,1499.5 1097.8,1495.9 1107.3,1500.5 1122.2,1509.5 1135.7,1521.6 1149.2,1535.1 1162.7,1548.6 1174.9,1559.5 1178.9,1563.5" fill="none" stroke="#960008" stroke-width="4.8" stroke-linejoin="round" stroke-linecap="butt" />
</g>
<line x1="1009.2" y1="1466" x2="1009.2" y2="1608" stroke="#222" stroke-width="1.6" />
<rect x="1005.9" y="1464.9" width="169.5" height="143.7" fill="none" stroke="#777" stroke-width="1.2" stroke-dasharray="5 2.5"/>
<rect x="1060" y="1708.1" width="85.9" height="74.3" fill="none" stroke="#444" stroke-width="1.2" stroke-dasharray="5 2.5"/>
<line x1="1005.9" y1="1608.6" x2="1060" y2="1708.1" stroke="#555" stroke-width="1.1" stroke-dasharray="5 2.5"/>
<line x1="1175.4" y1="1608.6" x2="1145.9" y2="1708.1" stroke="#555" stroke-width="1.1" stroke-dasharray="5 2.5"/>
<line x1="995.1" y1="1412.5" x2="995.1" y2="1912.8" stroke="#000" stroke-width="4.8" />
<line x1="995.1" y1="1910.8" x2="995.1" y2="1931" stroke="#000" stroke-width="3.4" />
<line x1="995.1" y1="1910.8" x2="1624.8" y2="1910.8" stroke="#000" stroke-width="4.2" />
<text x="987.6" y="1974.2" font-size="28.3" text-anchor="middle" font-weight="normal" fill="#000" >300</text>
<line x1="1151.7" y1="1910.8" x2="1151.7" y2="1931" stroke="#000" stroke-width="3.4" />
<text x="1144.2" y="1974.2" font-size="28.3" text-anchor="middle" font-weight="normal" fill="#000" >350</text>
<line x1="1308.3" y1="1910.8" x2="1308.3" y2="1931" stroke="#000" stroke-width="3.4" />
<text x="1300.8" y="1974.2" font-size="28.3" text-anchor="middle" font-weight="normal" fill="#000" >400</text>
<line x1="1464.9" y1="1910.8" x2="1464.9" y2="1931" stroke="#000" stroke-width="3.4" />
<text x="1457.4" y="1974.2" font-size="28.3" text-anchor="middle" font-weight="normal" fill="#000" >450</text>
<line x1="1621.5" y1="1910.8" x2="1621.5" y2="1931" stroke="#000" stroke-width="3.4" />
<text x="1614" y="1974.2" font-size="28.3" text-anchor="middle" font-weight="normal" fill="#000" >500</text>
<text x="1332.5" y="2013" font-size="29.6" text-anchor="middle" font-weight="normal" fill="#000" >Wavelength(nm)</text>
<text transform="translate(964,1657) rotate(-90)" font-size="26.5" text-anchor="middle" >Fluorescence Intensity (a.u)</text>
<line x1="1665.1" y1="1492.4" x2="1720.3" y2="1492.4" stroke="#960008" stroke-width="5.4" />
<text x="1763.3" y="1494.1" font-size="27.2" text-anchor="middle" font-weight="normal" fill="#000" >0</text>
<text x="1879.5" y="1494.1" font-size="27.2" text-anchor="end" font-weight="normal" fill="#000" >µg/ml</text>
<line x1="1665.1" y1="1559.5" x2="1720.3" y2="1559.5" stroke="#0a8010" stroke-width="5.4" />
<text x="1733" y="1561.2" font-size="27.2" text-anchor="start" font-weight="normal" fill="#000" >1.562</text>
<text x="1879.5" y="1561.2" font-size="27.2" text-anchor="end" font-weight="normal" fill="#000" >µg/ml</text>
<line x1="1665.1" y1="1626.2" x2="1720.3" y2="1626.2" stroke="#f26a10" stroke-width="5.4" />
<text x="1733" y="1627.9" font-size="27.2" text-anchor="start" font-weight="normal" fill="#000" >3.125</text>
<text x="1879.5" y="1627.9" font-size="27.2" text-anchor="end" font-weight="normal" fill="#000" >µg/ml</text>
<line x1="1665.1" y1="1693.2" x2="1720.3" y2="1693.2" stroke="#48ecb0" stroke-width="5.4" />
<text x="1732.5" y="1694.9" font-size="27.2" text-anchor="start" font-weight="normal" fill="#000" >6.25</text>
<text x="1879.5" y="1694.9" font-size="27.2" text-anchor="end" font-weight="normal" fill="#000" >µg/ml</text>
<line x1="1665.1" y1="1760" x2="1720.3" y2="1760" stroke="#f050d0" stroke-width="5.4" />
<text x="1734" y="1761.7" font-size="27.2" text-anchor="start" font-weight="normal" fill="#000" >12.5</text>
<text x="1879.5" y="1761.7" font-size="27.2" text-anchor="end" font-weight="normal" fill="#000" >µg/ml</text>
<line x1="1665.1" y1="1827" x2="1720.3" y2="1827" stroke="#ffff00" stroke-width="5.4" />
<text x="1755" y="1828.7" font-size="27.2" text-anchor="middle" font-weight="normal" fill="#000" >25</text>
<text x="1879.5" y="1828.7" font-size="27.2" text-anchor="end" font-weight="normal" fill="#000" >µg/ml</text>
<line x1="1670.5" y1="1885.7" x2="1725.7" y2="1885.7" stroke="#000080" stroke-width="5.4" />
<text x="1744" y="1897" font-size="26.6" text-anchor="start" font-weight="normal" fill="#000" >GQD</text>
<text x="1812" y="1899.5" font-size="28" text-anchor="start" font-weight="normal" fill="#000" >(25 µg/ml)</text>
<line x1="1887.3" y1="1413.5" x2="1887.3" y2="1859.5" stroke="#000" stroke-width="3.8" />
<text transform="translate(1921,1632.5) rotate(-90)" font-size="32" text-anchor="middle" >different concentraition of GQD</text>
<text transform="translate(1959,1632.5) rotate(-90)" font-size="32" text-anchor="middle" xml:space="preserve">and constant  concentration</text>
<text transform="translate(1998,1632.5) rotate(-90)" font-size="32" text-anchor="middle" >of S - TRAIL</text></g>
</svg>
</body></html>
